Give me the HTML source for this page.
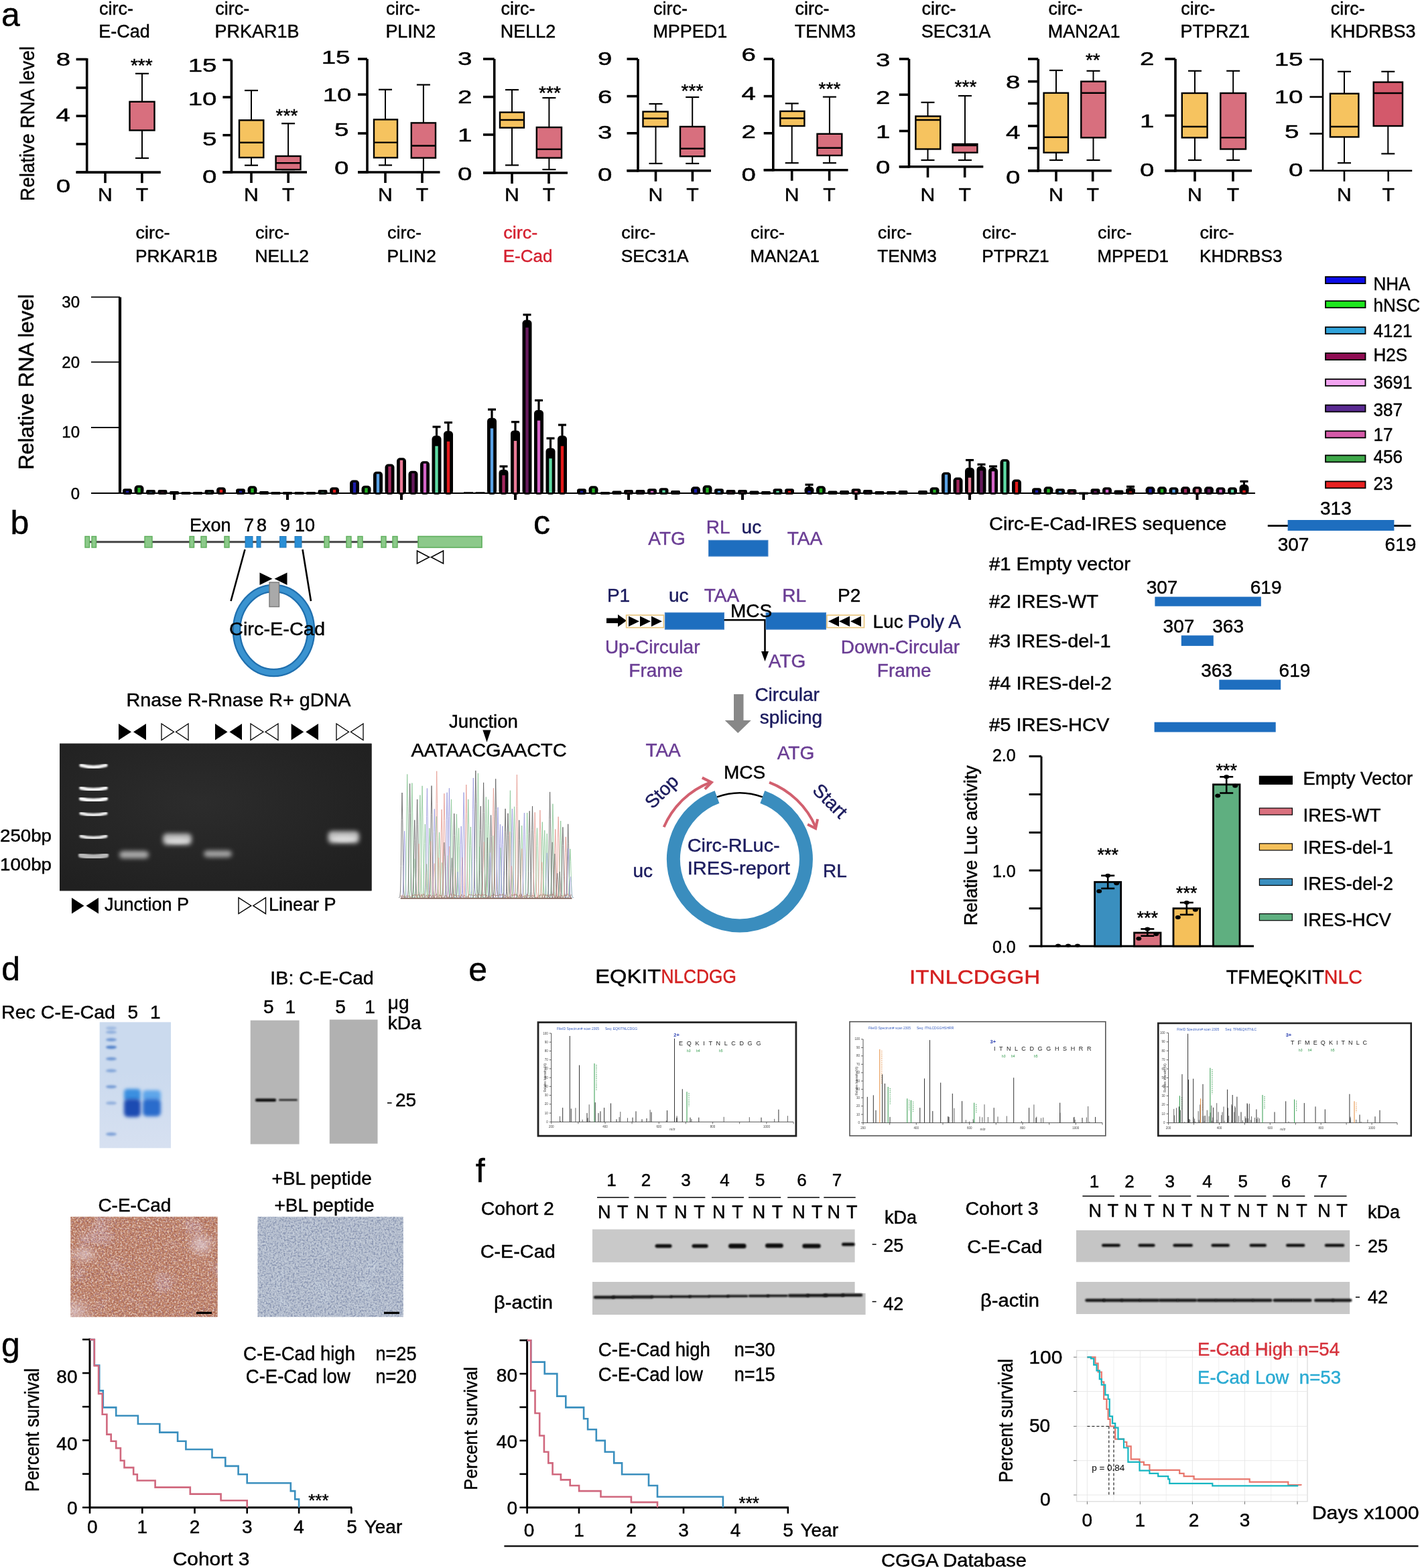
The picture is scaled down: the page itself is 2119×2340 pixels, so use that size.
<!DOCTYPE html>
<html><head><meta charset="utf-8"><title>Figure</title>
<style>html,body{margin:0;padding:0;background:#fff;}svg{display:block;}
text{font-family:"Liberation Sans", Arial, sans-serif;}</style></head>
<body><svg width="2119" height="2340" viewBox="0 0 2119 2340">
<defs><filter id="blur2" x="-20%" y="-50%" width="140%" height="200%"><feGaussianBlur stdDeviation="2.2"/></filter><filter id="blur3" x="-20%" y="-60%" width="140%" height="220%"><feGaussianBlur stdDeviation="3"/></filter><filter id="blur6" x="-30%" y="-60%" width="160%" height="220%"><feGaussianBlur stdDeviation="6"/></filter><filter id="blur1" x="-20%" y="-50%" width="140%" height="200%"><feGaussianBlur stdDeviation="1.2"/></filter><radialGradient id="gelgrad" cx="0.45" cy="0.4" r="0.7"><stop offset="0" stop-color="#2c2c2c"/><stop offset="1" stop-color="#202020"/></radialGradient><filter id="ihcA" color-interpolation-filters="sRGB" x="0" y="0" width="100%" height="100%">
<feTurbulence type="fractalNoise" baseFrequency="0.38" numOctaves="2" seed="3" result="n"/>
<feColorMatrix in="n" type="matrix" values="0 0 0 0 0.62  0 0 0 0 0.33  0 0 0 0 0.24  5.0 0 0 0 -2.2" result="c"/>
<feComposite in="c" in2="SourceGraphic" operator="in"/>
</filter><filter id="ihcB" color-interpolation-filters="sRGB" x="0" y="0" width="100%" height="100%">
<feTurbulence type="fractalNoise" baseFrequency="0.36" numOctaves="2" seed="9" result="n"/>
<feColorMatrix in="n" type="matrix" values="0 0 0 0 0.55  0 0 0 0 0.42  0 0 0 0 0.58  5.0 0 0 0 -2.5" result="c"/>
<feComposite in="c" in2="SourceGraphic" operator="in"/>
</filter><filter id="ihcC" color-interpolation-filters="sRGB" x="0" y="0" width="100%" height="100%">
<feTurbulence type="fractalNoise" baseFrequency="0.4" numOctaves="2" seed="21" result="n"/>
<feColorMatrix in="n" type="matrix" values="0 0 0 0 0.94  0 0 0 0 0.86  0 0 0 0 0.8  5.0 0 0 0 -2.5" result="c"/>
<feComposite in="c" in2="SourceGraphic" operator="in"/>
</filter><filter id="ihcP" color-interpolation-filters="sRGB" x="0" y="0" width="100%" height="100%">
<feTurbulence type="fractalNoise" baseFrequency="0.022" numOctaves="2" seed="5" result="n"/>
<feColorMatrix in="n" type="matrix" values="0 0 0 0 0.84  0 0 0 0 0.76  0 0 0 0 0.84  6.0 0 0 0 -3.4" result="c"/>
<feComposite in="c" in2="SourceGraphic" operator="in"/>
</filter><filter id="ihcD" color-interpolation-filters="sRGB" x="0" y="0" width="100%" height="100%">
<feTurbulence type="fractalNoise" baseFrequency="0.38" numOctaves="2" seed="4" result="n"/>
<feColorMatrix in="n" type="matrix" values="0 0 0 0 0.45  0 0 0 0 0.5  0 0 0 0 0.64  5.0 0 0 0 -2.3" result="c"/>
<feComposite in="c" in2="SourceGraphic" operator="in"/>
</filter><filter id="ihcE" color-interpolation-filters="sRGB" x="0" y="0" width="100%" height="100%">
<feTurbulence type="fractalNoise" baseFrequency="0.4" numOctaves="2" seed="17" result="n"/>
<feColorMatrix in="n" type="matrix" values="0 0 0 0 0.85  0 0 0 0 0.88  0 0 0 0 0.92  5.0 0 0 0 -2.5" result="c"/>
<feComposite in="c" in2="SourceGraphic" operator="in"/>
</filter><filter id="ihcF" color-interpolation-filters="sRGB" x="0" y="0" width="100%" height="100%">
<feTurbulence type="fractalNoise" baseFrequency="0.03" numOctaves="2" seed="6" result="n"/>
<feColorMatrix in="n" type="matrix" values="0 0 0 0 0.8  0 0 0 0 0.85  0 0 0 0 0.9  5.0 0 0 0 -3.2" result="c"/>
<feComposite in="c" in2="SourceGraphic" operator="in"/>
</filter><filter id="bl4" x="-30%" y="-80%" width="160%" height="260%"><feGaussianBlur stdDeviation="4"/></filter><filter id="bl25" x="-30%" y="-50%" width="160%" height="200%"><feGaussianBlur stdDeviation="2.5"/></filter><filter id="bl15" x="-30%" y="-80%" width="160%" height="260%"><feGaussianBlur stdDeviation="1.5"/></filter><linearGradient id="cgr" x1="0" y1="0" x2="0" y2="1"><stop offset="0" stop-color="#d8e1f1" stop-opacity="0"/><stop offset="1" stop-color="#d8e1f1" stop-opacity="0.9"/></linearGradient><radialGradient id="ihcL1" cx="0.5" cy="0.5" r="0.5"><stop offset="0" stop-color="#e8dde8" stop-opacity="0.55"/><stop offset="1" stop-color="#e8dde8" stop-opacity="0"/></radialGradient><clipPath id="ihcclip"><rect x="105.4" y="1815.8" width="219.3" height="149.5"/></clipPath></defs>
<rect width="2119" height="2340" fill="#fff"/>
<text x="2.0" y="39.0" font-size="50" stroke="#000" stroke-width="0.45">a</text>
<text x="51.0" y="184.5" font-size="30" stroke="#000" stroke-width="0.45" text-anchor="middle" textLength="231.0" lengthAdjust="spacingAndGlyphs" transform="rotate(-90 51.0 184.5)">Relative RNA level</text>
<text x="148.0" y="22.0" font-size="27.5" stroke="#000" stroke-width="0.45" textLength="50.9" lengthAdjust="spacingAndGlyphs">circ-</text>
<text x="147.3" y="55.5" font-size="27.5" stroke="#000" stroke-width="0.45" textLength="76.4" lengthAdjust="spacingAndGlyphs">E-Cad</text>
<line x1="129.7" y1="87.0" x2="129.7" y2="258.9" stroke="#000" stroke-width="3.6" />
<line x1="113.6" y1="257.1" x2="239.8" y2="257.1" stroke="#000" stroke-width="3.6" />
<line x1="113.6" y1="88.5" x2="129.7" y2="88.5" stroke="#000" stroke-width="3.6" />
<line x1="113.6" y1="131.0" x2="129.7" y2="131.0" stroke="#000" stroke-width="3.6" />
<line x1="113.6" y1="173.1" x2="129.7" y2="173.1" stroke="#000" stroke-width="3.6" />
<line x1="113.6" y1="215.0" x2="129.7" y2="215.0" stroke="#000" stroke-width="3.6" />
<line x1="113.6" y1="257.1" x2="129.7" y2="257.1" stroke="#000" stroke-width="3.6" />
<text x="105.1" y="98.4" font-size="27.5" stroke="#000" stroke-width="0.45" text-anchor="end" textLength="21.4" lengthAdjust="spacingAndGlyphs">8</text>
<text x="104.9" y="181.0" font-size="27.5" stroke="#000" stroke-width="0.45" text-anchor="end" textLength="21.4" lengthAdjust="spacingAndGlyphs">4</text>
<text x="105.1" y="286.5" font-size="27.5" stroke="#000" stroke-width="0.45" text-anchor="end" textLength="21.4" lengthAdjust="spacingAndGlyphs">0</text>
<line x1="157.0" y1="257.1" x2="157.0" y2="273.1" stroke="#000" stroke-width="3.6" />
<line x1="211.9" y1="257.1" x2="211.9" y2="273.1" stroke="#000" stroke-width="3.6" />
<text x="157.0" y="300.0" font-size="28" stroke="#000" stroke-width="0.45" text-anchor="middle" textLength="21.8" lengthAdjust="spacingAndGlyphs">N</text>
<text x="211.9" y="300.0" font-size="28" stroke="#000" stroke-width="0.45" text-anchor="middle" textLength="18.5" lengthAdjust="spacingAndGlyphs">T</text>
<line x1="212.0" y1="109.8" x2="212.0" y2="151.8" stroke="#000" stroke-width="2" />
<line x1="212.0" y1="194.5" x2="212.0" y2="236.0" stroke="#000" stroke-width="2" />
<line x1="202.0" y1="109.8" x2="222.0" y2="109.8" stroke="#000" stroke-width="2.2" />
<line x1="202.0" y1="236.0" x2="222.0" y2="236.0" stroke="#000" stroke-width="2.2" />
<rect x="193.5" y="151.8" width="37.0" height="42.7" fill="#D86F7E" stroke="#000" stroke-width="2.4"/>
<text x="211.3" y="106.5" font-size="27.5" stroke="#000" stroke-width="0.45" text-anchor="middle" textLength="32.8" lengthAdjust="spacingAndGlyphs">***</text>
<text x="321.3" y="22.0" font-size="27.5" stroke="#000" stroke-width="0.45" textLength="50.9" lengthAdjust="spacingAndGlyphs">circ-</text>
<text x="320.6" y="55.5" font-size="27.5" stroke="#000" stroke-width="0.45" textLength="125.8" lengthAdjust="spacingAndGlyphs">PRKAR1B</text>
<line x1="345.4" y1="89.4" x2="345.4" y2="258.8" stroke="#000" stroke-width="3.6" />
<line x1="332.4" y1="257.0" x2="458.0" y2="257.0" stroke="#000" stroke-width="3.6" />
<line x1="332.4" y1="89.4" x2="345.4" y2="89.4" stroke="#000" stroke-width="3.6" />
<line x1="332.4" y1="145.0" x2="345.4" y2="145.0" stroke="#000" stroke-width="3.6" />
<line x1="332.4" y1="201.7" x2="345.4" y2="201.7" stroke="#000" stroke-width="3.6" />
<line x1="332.4" y1="257.0" x2="345.4" y2="257.0" stroke="#000" stroke-width="3.6" />
<text x="323.5" y="106.9" font-size="27.5" stroke="#000" stroke-width="0.45" text-anchor="end" textLength="42.8" lengthAdjust="spacingAndGlyphs">15</text>
<text x="323.5" y="156.5" font-size="27.5" stroke="#000" stroke-width="0.45" text-anchor="end" textLength="42.8" lengthAdjust="spacingAndGlyphs">10</text>
<text x="323.5" y="216.6" font-size="27.5" stroke="#000" stroke-width="0.45" text-anchor="end" textLength="21.4" lengthAdjust="spacingAndGlyphs">5</text>
<text x="323.5" y="272.6" font-size="27.5" stroke="#000" stroke-width="0.45" text-anchor="end" textLength="21.4" lengthAdjust="spacingAndGlyphs">0</text>
<line x1="375.0" y1="257.0" x2="375.0" y2="273.0" stroke="#000" stroke-width="3.6" />
<line x1="430.2" y1="257.0" x2="430.2" y2="273.0" stroke="#000" stroke-width="3.6" />
<text x="375.0" y="300.0" font-size="28" stroke="#000" stroke-width="0.45" text-anchor="middle" textLength="21.8" lengthAdjust="spacingAndGlyphs">N</text>
<text x="430.2" y="300.0" font-size="28" stroke="#000" stroke-width="0.45" text-anchor="middle" textLength="18.5" lengthAdjust="spacingAndGlyphs">T</text>
<line x1="375.0" y1="135.0" x2="375.0" y2="179.4" stroke="#000" stroke-width="2" />
<line x1="375.0" y1="235.1" x2="375.0" y2="246.7" stroke="#000" stroke-width="2" />
<line x1="365.0" y1="135.0" x2="385.0" y2="135.0" stroke="#000" stroke-width="2.2" />
<line x1="365.0" y1="246.7" x2="385.0" y2="246.7" stroke="#000" stroke-width="2.2" />
<rect x="357.0" y="179.4" width="36.3" height="55.7" fill="#F6C35F" stroke="#000" stroke-width="2.4"/>
<line x1="357.0" y1="212.8" x2="393.3" y2="212.8" stroke="#000" stroke-width="2.4" />
<line x1="430.1" y1="184.3" x2="430.1" y2="233.0" stroke="#000" stroke-width="2" />
<line x1="430.1" y1="253.1" x2="430.1" y2="253.1" stroke="#000" stroke-width="2" />
<line x1="420.1" y1="184.3" x2="440.1" y2="184.3" stroke="#000" stroke-width="2.2" />
<line x1="420.1" y1="253.1" x2="440.1" y2="253.1" stroke="#000" stroke-width="2.2" />
<rect x="411.6" y="233.0" width="36.9" height="20.1" fill="#D86F7E" stroke="#000" stroke-width="2.4"/>
<line x1="411.6" y1="243.2" x2="448.5" y2="243.2" stroke="#000" stroke-width="2.4" />
<text x="428.0" y="181.9" font-size="27.5" stroke="#000" stroke-width="0.45" text-anchor="middle" textLength="32.8" lengthAdjust="spacingAndGlyphs">***</text>
<text x="576.1" y="22.0" font-size="27.5" stroke="#000" stroke-width="0.45" textLength="50.9" lengthAdjust="spacingAndGlyphs">circ-</text>
<text x="575.4" y="55.5" font-size="27.5" stroke="#000" stroke-width="0.45" textLength="74.9" lengthAdjust="spacingAndGlyphs">PLIN2</text>
<line x1="548.0" y1="88.0" x2="548.0" y2="258.8" stroke="#000" stroke-width="3.6" />
<line x1="534.0" y1="257.0" x2="656.5" y2="257.0" stroke="#000" stroke-width="3.6" />
<line x1="534.0" y1="88.0" x2="548.0" y2="88.0" stroke="#000" stroke-width="3.6" />
<line x1="534.0" y1="141.0" x2="548.0" y2="141.0" stroke="#000" stroke-width="3.6" />
<line x1="534.0" y1="199.0" x2="548.0" y2="199.0" stroke="#000" stroke-width="3.6" />
<line x1="534.0" y1="257.0" x2="548.0" y2="257.0" stroke="#000" stroke-width="3.6" />
<text x="522.5" y="94.5" font-size="27.5" stroke="#000" stroke-width="0.45" text-anchor="end" textLength="42.8" lengthAdjust="spacingAndGlyphs">15</text>
<text x="524.5" y="150.9" font-size="27.5" stroke="#000" stroke-width="0.45" text-anchor="end" textLength="42.8" lengthAdjust="spacingAndGlyphs">10</text>
<text x="520.5" y="203.3" font-size="27.5" stroke="#000" stroke-width="0.45" text-anchor="end" textLength="21.4" lengthAdjust="spacingAndGlyphs">5</text>
<text x="520.5" y="259.9" font-size="27.5" stroke="#000" stroke-width="0.45" text-anchor="end" textLength="21.4" lengthAdjust="spacingAndGlyphs">0</text>
<line x1="575.0" y1="257.0" x2="575.0" y2="273.0" stroke="#000" stroke-width="3.6" />
<line x1="630.0" y1="257.0" x2="630.0" y2="273.0" stroke="#000" stroke-width="3.6" />
<text x="575.0" y="300.0" font-size="28" stroke="#000" stroke-width="0.45" text-anchor="middle" textLength="21.8" lengthAdjust="spacingAndGlyphs">N</text>
<text x="630.0" y="300.0" font-size="28" stroke="#000" stroke-width="0.45" text-anchor="middle" textLength="18.5" lengthAdjust="spacingAndGlyphs">T</text>
<line x1="575.0" y1="133.7" x2="575.0" y2="178.4" stroke="#000" stroke-width="2" />
<line x1="575.0" y1="235.3" x2="575.0" y2="246.5" stroke="#000" stroke-width="2" />
<line x1="565.0" y1="133.7" x2="585.0" y2="133.7" stroke="#000" stroke-width="2.2" />
<line x1="565.0" y1="246.5" x2="585.0" y2="246.5" stroke="#000" stroke-width="2.2" />
<rect x="558.0" y="178.4" width="35.0" height="56.9" fill="#F6C35F" stroke="#000" stroke-width="2.4"/>
<line x1="558.0" y1="212.6" x2="593.0" y2="212.6" stroke="#000" stroke-width="2.4" />
<line x1="631.9" y1="126.5" x2="631.9" y2="183.4" stroke="#000" stroke-width="2" />
<line x1="631.9" y1="235.6" x2="631.9" y2="257.0" stroke="#000" stroke-width="2" />
<line x1="621.9" y1="126.5" x2="641.9" y2="126.5" stroke="#000" stroke-width="2.2" />
<line x1="621.9" y1="257.0" x2="641.9" y2="257.0" stroke="#000" stroke-width="2.2" />
<rect x="613.8" y="183.4" width="36.2" height="52.2" fill="#D86F7E" stroke="#000" stroke-width="2.4"/>
<line x1="613.8" y1="217.5" x2="650.0" y2="217.5" stroke="#000" stroke-width="2.4" />
<text x="747.5" y="22.0" font-size="27.5" stroke="#000" stroke-width="0.45" textLength="50.9" lengthAdjust="spacingAndGlyphs">circ-</text>
<text x="746.8" y="55.5" font-size="27.5" stroke="#000" stroke-width="0.45" textLength="82.4" lengthAdjust="spacingAndGlyphs">NELL2</text>
<line x1="737.7" y1="88.0" x2="737.7" y2="259.8" stroke="#000" stroke-width="3.6" />
<line x1="721.0" y1="258.0" x2="847.0" y2="258.0" stroke="#000" stroke-width="3.6" />
<line x1="721.0" y1="88.0" x2="737.7" y2="88.0" stroke="#000" stroke-width="3.6" />
<line x1="721.0" y1="144.6" x2="737.7" y2="144.6" stroke="#000" stroke-width="3.6" />
<line x1="721.0" y1="201.0" x2="737.7" y2="201.0" stroke="#000" stroke-width="3.6" />
<line x1="721.0" y1="258.0" x2="737.7" y2="258.0" stroke="#000" stroke-width="3.6" />
<text x="704.5" y="97.3" font-size="27.5" stroke="#000" stroke-width="0.45" text-anchor="end" textLength="21.4" lengthAdjust="spacingAndGlyphs">3</text>
<text x="704.5" y="153.6" font-size="27.5" stroke="#000" stroke-width="0.45" text-anchor="end" textLength="21.4" lengthAdjust="spacingAndGlyphs">2</text>
<text x="704.5" y="210.9" font-size="27.5" stroke="#000" stroke-width="0.45" text-anchor="end" textLength="21.4" lengthAdjust="spacingAndGlyphs">1</text>
<text x="704.5" y="268.7" font-size="27.5" stroke="#000" stroke-width="0.45" text-anchor="end" textLength="21.4" lengthAdjust="spacingAndGlyphs">0</text>
<line x1="764.0" y1="258.0" x2="764.0" y2="274.0" stroke="#000" stroke-width="3.6" />
<line x1="819.0" y1="258.0" x2="819.0" y2="274.0" stroke="#000" stroke-width="3.6" />
<text x="764.0" y="300.0" font-size="28" stroke="#000" stroke-width="0.45" text-anchor="middle" textLength="21.8" lengthAdjust="spacingAndGlyphs">N</text>
<text x="819.0" y="300.0" font-size="28" stroke="#000" stroke-width="0.45" text-anchor="middle" textLength="18.5" lengthAdjust="spacingAndGlyphs">T</text>
<line x1="764.0" y1="134.0" x2="764.0" y2="167.6" stroke="#000" stroke-width="2" />
<line x1="764.0" y1="190.6" x2="764.0" y2="246.5" stroke="#000" stroke-width="2" />
<line x1="754.0" y1="134.0" x2="774.0" y2="134.0" stroke="#000" stroke-width="2.2" />
<line x1="754.0" y1="246.5" x2="774.0" y2="246.5" stroke="#000" stroke-width="2.2" />
<rect x="746.0" y="167.6" width="36.0" height="23.0" fill="#F6C35F" stroke="#000" stroke-width="2.4"/>
<line x1="746.0" y1="179.0" x2="782.0" y2="179.0" stroke="#000" stroke-width="2.4" />
<line x1="819.4" y1="146.0" x2="819.4" y2="190.0" stroke="#000" stroke-width="2" />
<line x1="819.4" y1="235.6" x2="819.4" y2="253.0" stroke="#000" stroke-width="2" />
<line x1="809.4" y1="146.0" x2="829.4" y2="146.0" stroke="#000" stroke-width="2.2" />
<line x1="809.4" y1="253.0" x2="829.4" y2="253.0" stroke="#000" stroke-width="2.2" />
<rect x="800.8" y="190.0" width="37.2" height="45.6" fill="#D86F7E" stroke="#000" stroke-width="2.4"/>
<line x1="800.8" y1="222.8" x2="838.0" y2="222.8" stroke="#000" stroke-width="2.4" />
<text x="820.5" y="147.5" font-size="27.5" stroke="#000" stroke-width="0.45" text-anchor="middle" textLength="32.8" lengthAdjust="spacingAndGlyphs">***</text>
<text x="975.1" y="22.0" font-size="27.5" stroke="#000" stroke-width="0.45" textLength="50.9" lengthAdjust="spacingAndGlyphs">circ-</text>
<text x="974.4" y="55.5" font-size="27.5" stroke="#000" stroke-width="0.45" textLength="110.8" lengthAdjust="spacingAndGlyphs">MPPED1</text>
<line x1="952.0" y1="88.0" x2="952.0" y2="256.5" stroke="#000" stroke-width="3.6" />
<line x1="935.5" y1="254.7" x2="1061.0" y2="254.7" stroke="#000" stroke-width="3.6" />
<line x1="935.5" y1="88.0" x2="952.0" y2="88.0" stroke="#000" stroke-width="3.6" />
<line x1="935.5" y1="143.6" x2="952.0" y2="143.6" stroke="#000" stroke-width="3.6" />
<line x1="935.5" y1="198.8" x2="952.0" y2="198.8" stroke="#000" stroke-width="3.6" />
<line x1="935.5" y1="254.7" x2="952.0" y2="254.7" stroke="#000" stroke-width="3.6" />
<text x="913.5" y="97.3" font-size="27.5" stroke="#000" stroke-width="0.45" text-anchor="end" textLength="21.4" lengthAdjust="spacingAndGlyphs">9</text>
<text x="913.5" y="153.6" font-size="27.5" stroke="#000" stroke-width="0.45" text-anchor="end" textLength="21.4" lengthAdjust="spacingAndGlyphs">6</text>
<text x="913.5" y="206.9" font-size="27.5" stroke="#000" stroke-width="0.45" text-anchor="end" textLength="21.4" lengthAdjust="spacingAndGlyphs">3</text>
<text x="913.5" y="269.5" font-size="27.5" stroke="#000" stroke-width="0.45" text-anchor="end" textLength="21.4" lengthAdjust="spacingAndGlyphs">0</text>
<line x1="978.5" y1="254.7" x2="978.5" y2="270.7" stroke="#000" stroke-width="3.6" />
<line x1="1033.4" y1="254.7" x2="1033.4" y2="270.7" stroke="#000" stroke-width="3.6" />
<text x="978.5" y="300.0" font-size="28" stroke="#000" stroke-width="0.45" text-anchor="middle" textLength="21.8" lengthAdjust="spacingAndGlyphs">N</text>
<text x="1033.4" y="300.0" font-size="28" stroke="#000" stroke-width="0.45" text-anchor="middle" textLength="18.5" lengthAdjust="spacingAndGlyphs">T</text>
<line x1="978.5" y1="155.0" x2="978.5" y2="166.6" stroke="#000" stroke-width="2" />
<line x1="978.5" y1="189.0" x2="978.5" y2="244.0" stroke="#000" stroke-width="2" />
<line x1="968.5" y1="155.0" x2="988.5" y2="155.0" stroke="#000" stroke-width="2.2" />
<line x1="968.5" y1="244.0" x2="988.5" y2="244.0" stroke="#000" stroke-width="2.2" />
<rect x="959.5" y="166.6" width="37.1" height="22.4" fill="#F6C35F" stroke="#000" stroke-width="2.4"/>
<line x1="959.5" y1="176.8" x2="996.6" y2="176.8" stroke="#000" stroke-width="2.4" />
<line x1="1033.2" y1="145.0" x2="1033.2" y2="189.0" stroke="#000" stroke-width="2" />
<line x1="1033.2" y1="233.3" x2="1033.2" y2="244.0" stroke="#000" stroke-width="2" />
<line x1="1023.2" y1="145.0" x2="1043.2" y2="145.0" stroke="#000" stroke-width="2.2" />
<line x1="1023.2" y1="244.0" x2="1043.2" y2="244.0" stroke="#000" stroke-width="2.2" />
<rect x="1015.0" y="189.0" width="36.5" height="44.3" fill="#D86F7E" stroke="#000" stroke-width="2.4"/>
<line x1="1015.0" y1="221.8" x2="1051.5" y2="221.8" stroke="#000" stroke-width="2.4" />
<text x="1033.0" y="144.5" font-size="27.5" stroke="#000" stroke-width="0.45" text-anchor="middle" textLength="32.8" lengthAdjust="spacingAndGlyphs">***</text>
<text x="1186.5" y="22.0" font-size="27.5" stroke="#000" stroke-width="0.45" textLength="50.9" lengthAdjust="spacingAndGlyphs">circ-</text>
<text x="1185.8" y="55.5" font-size="27.5" stroke="#000" stroke-width="0.45" textLength="91.3" lengthAdjust="spacingAndGlyphs">TENM3</text>
<line x1="1153.8" y1="88.0" x2="1153.8" y2="255.5" stroke="#000" stroke-width="3.6" />
<line x1="1139.7" y1="253.7" x2="1265.5" y2="253.7" stroke="#000" stroke-width="3.6" />
<line x1="1139.7" y1="88.0" x2="1153.8" y2="88.0" stroke="#000" stroke-width="3.6" />
<line x1="1139.7" y1="143.6" x2="1153.8" y2="143.6" stroke="#000" stroke-width="3.6" />
<line x1="1139.7" y1="198.8" x2="1153.8" y2="198.8" stroke="#000" stroke-width="3.6" />
<line x1="1139.7" y1="253.7" x2="1153.8" y2="253.7" stroke="#000" stroke-width="3.6" />
<text x="1128.0" y="90.9" font-size="27.5" stroke="#000" stroke-width="0.45" text-anchor="end" textLength="21.4" lengthAdjust="spacingAndGlyphs">6</text>
<text x="1128.0" y="148.7" font-size="27.5" stroke="#000" stroke-width="0.45" text-anchor="end" textLength="21.4" lengthAdjust="spacingAndGlyphs">4</text>
<text x="1128.0" y="206.3" font-size="27.5" stroke="#000" stroke-width="0.45" text-anchor="end" textLength="21.4" lengthAdjust="spacingAndGlyphs">2</text>
<text x="1128.0" y="270.3" font-size="27.5" stroke="#000" stroke-width="0.45" text-anchor="end" textLength="21.4" lengthAdjust="spacingAndGlyphs">0</text>
<line x1="1181.7" y1="253.7" x2="1181.7" y2="269.7" stroke="#000" stroke-width="3.6" />
<line x1="1237.6" y1="253.7" x2="1237.6" y2="269.7" stroke="#000" stroke-width="3.6" />
<text x="1181.7" y="300.0" font-size="28" stroke="#000" stroke-width="0.45" text-anchor="middle" textLength="21.8" lengthAdjust="spacingAndGlyphs">N</text>
<text x="1237.6" y="300.0" font-size="28" stroke="#000" stroke-width="0.45" text-anchor="middle" textLength="18.5" lengthAdjust="spacingAndGlyphs">T</text>
<line x1="1181.7" y1="154.4" x2="1181.7" y2="166.0" stroke="#000" stroke-width="2" />
<line x1="1181.7" y1="188.0" x2="1181.7" y2="243.2" stroke="#000" stroke-width="2" />
<line x1="1171.7" y1="154.4" x2="1191.7" y2="154.4" stroke="#000" stroke-width="2.2" />
<line x1="1171.7" y1="243.2" x2="1191.7" y2="243.2" stroke="#000" stroke-width="2.2" />
<rect x="1164.3" y="166.0" width="36.1" height="22.0" fill="#F6C35F" stroke="#000" stroke-width="2.4"/>
<line x1="1164.3" y1="176.5" x2="1200.4" y2="176.5" stroke="#000" stroke-width="2.4" />
<line x1="1237.9" y1="144.6" x2="1237.9" y2="199.8" stroke="#000" stroke-width="2" />
<line x1="1237.9" y1="232.0" x2="1237.9" y2="243.2" stroke="#000" stroke-width="2" />
<line x1="1227.9" y1="144.6" x2="1247.9" y2="144.6" stroke="#000" stroke-width="2.2" />
<line x1="1227.9" y1="243.2" x2="1247.9" y2="243.2" stroke="#000" stroke-width="2.2" />
<rect x="1219.5" y="199.8" width="36.8" height="32.2" fill="#D86F7E" stroke="#000" stroke-width="2.4"/>
<line x1="1219.5" y1="220.8" x2="1256.3" y2="220.8" stroke="#000" stroke-width="2.4" />
<text x="1238.0" y="141.5" font-size="27.5" stroke="#000" stroke-width="0.45" text-anchor="middle" textLength="32.8" lengthAdjust="spacingAndGlyphs">***</text>
<text x="1375.5" y="22.0" font-size="27.5" stroke="#000" stroke-width="0.45" textLength="50.9" lengthAdjust="spacingAndGlyphs">circ-</text>
<text x="1374.8" y="55.5" font-size="27.5" stroke="#000" stroke-width="0.45" textLength="103.4" lengthAdjust="spacingAndGlyphs">SEC31A</text>
<line x1="1356.5" y1="88.0" x2="1356.5" y2="250.6" stroke="#000" stroke-width="3.6" />
<line x1="1341.8" y1="248.8" x2="1467.3" y2="248.8" stroke="#000" stroke-width="3.6" />
<line x1="1341.8" y1="88.0" x2="1356.5" y2="88.0" stroke="#000" stroke-width="3.6" />
<line x1="1341.8" y1="141.3" x2="1356.5" y2="141.3" stroke="#000" stroke-width="3.6" />
<line x1="1341.8" y1="195.5" x2="1356.5" y2="195.5" stroke="#000" stroke-width="3.6" />
<line x1="1341.8" y1="248.8" x2="1356.5" y2="248.8" stroke="#000" stroke-width="3.6" />
<text x="1328.5" y="99.1" font-size="27.5" stroke="#000" stroke-width="0.45" text-anchor="end" textLength="21.4" lengthAdjust="spacingAndGlyphs">3</text>
<text x="1328.5" y="155.3" font-size="27.5" stroke="#000" stroke-width="0.45" text-anchor="end" textLength="21.4" lengthAdjust="spacingAndGlyphs">2</text>
<text x="1328.5" y="206.3" font-size="27.5" stroke="#000" stroke-width="0.45" text-anchor="end" textLength="21.4" lengthAdjust="spacingAndGlyphs">1</text>
<text x="1328.5" y="258.9" font-size="27.5" stroke="#000" stroke-width="0.45" text-anchor="end" textLength="21.4" lengthAdjust="spacingAndGlyphs">0</text>
<line x1="1384.5" y1="248.8" x2="1384.5" y2="264.8" stroke="#000" stroke-width="3.6" />
<line x1="1439.7" y1="248.8" x2="1439.7" y2="264.8" stroke="#000" stroke-width="3.6" />
<text x="1384.5" y="300.0" font-size="28" stroke="#000" stroke-width="0.45" text-anchor="middle" textLength="21.8" lengthAdjust="spacingAndGlyphs">N</text>
<text x="1439.7" y="300.0" font-size="28" stroke="#000" stroke-width="0.45" text-anchor="middle" textLength="18.5" lengthAdjust="spacingAndGlyphs">T</text>
<line x1="1384.5" y1="152.8" x2="1384.5" y2="173.5" stroke="#000" stroke-width="2" />
<line x1="1384.5" y1="222.5" x2="1384.5" y2="239.0" stroke="#000" stroke-width="2" />
<line x1="1374.5" y1="152.8" x2="1394.5" y2="152.8" stroke="#000" stroke-width="2.2" />
<line x1="1374.5" y1="239.0" x2="1394.5" y2="239.0" stroke="#000" stroke-width="2.2" />
<rect x="1366.4" y="173.5" width="36.8" height="49.0" fill="#F6C35F" stroke="#000" stroke-width="2.4"/>
<line x1="1366.4" y1="179.0" x2="1403.2" y2="179.0" stroke="#000" stroke-width="2.4" />
<line x1="1440.0" y1="143.0" x2="1440.0" y2="215.0" stroke="#000" stroke-width="2" />
<line x1="1440.0" y1="227.7" x2="1440.0" y2="239.0" stroke="#000" stroke-width="2" />
<line x1="1430.0" y1="143.0" x2="1450.0" y2="143.0" stroke="#000" stroke-width="2.2" />
<line x1="1430.0" y1="239.0" x2="1450.0" y2="239.0" stroke="#000" stroke-width="2.2" />
<rect x="1421.6" y="215.0" width="36.8" height="12.7" fill="#D86F7E" stroke="#000" stroke-width="2.4"/>
<line x1="1421.6" y1="217.0" x2="1458.4" y2="217.0" stroke="#000" stroke-width="2.4" />
<text x="1441.0" y="138.5" font-size="27.5" stroke="#000" stroke-width="0.45" text-anchor="middle" textLength="32.8" lengthAdjust="spacingAndGlyphs">***</text>
<text x="1564.5" y="22.0" font-size="27.5" stroke="#000" stroke-width="0.45" textLength="50.9" lengthAdjust="spacingAndGlyphs">circ-</text>
<text x="1563.8" y="55.5" font-size="27.5" stroke="#000" stroke-width="0.45" textLength="107.8" lengthAdjust="spacingAndGlyphs">MAN2A1</text>
<line x1="1549.3" y1="88.0" x2="1549.3" y2="256.5" stroke="#000" stroke-width="3.6" />
<line x1="1534.0" y1="254.7" x2="1658.7" y2="254.7" stroke="#000" stroke-width="3.6" />
<line x1="1534.0" y1="88.0" x2="1549.3" y2="88.0" stroke="#000" stroke-width="3.6" />
<line x1="1534.0" y1="121.6" x2="1549.3" y2="121.6" stroke="#000" stroke-width="3.6" />
<line x1="1534.0" y1="154.4" x2="1549.3" y2="154.4" stroke="#000" stroke-width="3.6" />
<line x1="1534.0" y1="188.0" x2="1549.3" y2="188.0" stroke="#000" stroke-width="3.6" />
<line x1="1534.0" y1="221.0" x2="1549.3" y2="221.0" stroke="#000" stroke-width="3.6" />
<line x1="1534.0" y1="254.7" x2="1549.3" y2="254.7" stroke="#000" stroke-width="3.6" />
<text x="1522.5" y="131.5" font-size="27.5" stroke="#000" stroke-width="0.45" text-anchor="end" textLength="21.4" lengthAdjust="spacingAndGlyphs">8</text>
<text x="1522.5" y="206.9" font-size="27.5" stroke="#000" stroke-width="0.45" text-anchor="end" textLength="21.4" lengthAdjust="spacingAndGlyphs">4</text>
<text x="1522.5" y="273.6" font-size="27.5" stroke="#000" stroke-width="0.45" text-anchor="end" textLength="21.4" lengthAdjust="spacingAndGlyphs">0</text>
<line x1="1576.0" y1="254.7" x2="1576.0" y2="270.7" stroke="#000" stroke-width="3.6" />
<line x1="1630.7" y1="254.7" x2="1630.7" y2="270.7" stroke="#000" stroke-width="3.6" />
<text x="1576.0" y="300.0" font-size="28" stroke="#000" stroke-width="0.45" text-anchor="middle" textLength="21.8" lengthAdjust="spacingAndGlyphs">N</text>
<text x="1630.7" y="300.0" font-size="28" stroke="#000" stroke-width="0.45" text-anchor="middle" textLength="18.5" lengthAdjust="spacingAndGlyphs">T</text>
<line x1="1576.0" y1="105.0" x2="1576.0" y2="138.7" stroke="#000" stroke-width="2" />
<line x1="1576.0" y1="227.7" x2="1576.0" y2="239.0" stroke="#000" stroke-width="2" />
<line x1="1566.0" y1="105.0" x2="1586.0" y2="105.0" stroke="#000" stroke-width="2.2" />
<line x1="1566.0" y1="239.0" x2="1586.0" y2="239.0" stroke="#000" stroke-width="2.2" />
<rect x="1557.6" y="138.7" width="36.4" height="89.0" fill="#F6C35F" stroke="#000" stroke-width="2.4"/>
<line x1="1557.6" y1="204.7" x2="1594.0" y2="204.7" stroke="#000" stroke-width="2.4" />
<line x1="1631.5" y1="105.8" x2="1631.5" y2="121.6" stroke="#000" stroke-width="2" />
<line x1="1631.5" y1="205.4" x2="1631.5" y2="239.0" stroke="#000" stroke-width="2" />
<line x1="1621.5" y1="105.8" x2="1641.5" y2="105.8" stroke="#000" stroke-width="2.2" />
<line x1="1621.5" y1="239.0" x2="1641.5" y2="239.0" stroke="#000" stroke-width="2.2" />
<rect x="1613.3" y="121.6" width="36.5" height="83.8" fill="#D86F7E" stroke="#000" stroke-width="2.4"/>
<line x1="1613.3" y1="138.7" x2="1649.8" y2="138.7" stroke="#000" stroke-width="2.4" />
<text x="1630.8" y="98.5" font-size="27.5" stroke="#000" stroke-width="0.45" text-anchor="middle" textLength="21.8" lengthAdjust="spacingAndGlyphs">**</text>
<text x="1762.3" y="22.0" font-size="27.5" stroke="#000" stroke-width="0.45" textLength="50.9" lengthAdjust="spacingAndGlyphs">circ-</text>
<text x="1761.6" y="55.5" font-size="27.5" stroke="#000" stroke-width="0.45" textLength="103.3" lengthAdjust="spacingAndGlyphs">PTPRZ1</text>
<line x1="1754.0" y1="88.0" x2="1754.0" y2="256.5" stroke="#000" stroke-width="3.6" />
<line x1="1738.5" y1="254.7" x2="1868.0" y2="254.7" stroke="#000" stroke-width="3.6" />
<line x1="1738.5" y1="88.0" x2="1754.0" y2="88.0" stroke="#000" stroke-width="3.6" />
<line x1="1738.5" y1="172.5" x2="1754.0" y2="172.5" stroke="#000" stroke-width="3.6" />
<line x1="1738.5" y1="254.7" x2="1754.0" y2="254.7" stroke="#000" stroke-width="3.6" />
<text x="1722.5" y="97.3" font-size="27.5" stroke="#000" stroke-width="0.45" text-anchor="end" textLength="21.4" lengthAdjust="spacingAndGlyphs">2</text>
<text x="1722.5" y="189.9" font-size="27.5" stroke="#000" stroke-width="0.45" text-anchor="end" textLength="21.4" lengthAdjust="spacingAndGlyphs">1</text>
<text x="1722.5" y="263.4" font-size="27.5" stroke="#000" stroke-width="0.45" text-anchor="end" textLength="21.4" lengthAdjust="spacingAndGlyphs">0</text>
<line x1="1783.0" y1="254.7" x2="1783.0" y2="270.7" stroke="#000" stroke-width="3.6" />
<line x1="1840.0" y1="254.7" x2="1840.0" y2="270.7" stroke="#000" stroke-width="3.6" />
<text x="1783.0" y="300.0" font-size="28" stroke="#000" stroke-width="0.45" text-anchor="middle" textLength="21.8" lengthAdjust="spacingAndGlyphs">N</text>
<text x="1840.0" y="300.0" font-size="28" stroke="#000" stroke-width="0.45" text-anchor="middle" textLength="18.5" lengthAdjust="spacingAndGlyphs">T</text>
<line x1="1783.0" y1="105.8" x2="1783.0" y2="139.0" stroke="#000" stroke-width="2" />
<line x1="1783.0" y1="205.4" x2="1783.0" y2="239.0" stroke="#000" stroke-width="2" />
<line x1="1773.0" y1="105.8" x2="1793.0" y2="105.8" stroke="#000" stroke-width="2.2" />
<line x1="1773.0" y1="239.0" x2="1793.0" y2="239.0" stroke="#000" stroke-width="2.2" />
<rect x="1763.8" y="139.0" width="37.8" height="66.4" fill="#F6C35F" stroke="#000" stroke-width="2.4"/>
<line x1="1763.8" y1="189.0" x2="1801.6" y2="189.0" stroke="#000" stroke-width="2.4" />
<line x1="1840.2" y1="105.8" x2="1840.2" y2="139.0" stroke="#000" stroke-width="2" />
<line x1="1840.2" y1="222.5" x2="1840.2" y2="239.0" stroke="#000" stroke-width="2" />
<line x1="1830.2" y1="105.8" x2="1850.2" y2="105.8" stroke="#000" stroke-width="2.2" />
<line x1="1830.2" y1="239.0" x2="1850.2" y2="239.0" stroke="#000" stroke-width="2.2" />
<rect x="1821.3" y="139.0" width="37.7" height="83.5" fill="#D86F7E" stroke="#000" stroke-width="2.4"/>
<line x1="1821.3" y1="205.4" x2="1859.0" y2="205.4" stroke="#000" stroke-width="2.4" />
<text x="1985.8" y="22.0" font-size="27.5" stroke="#000" stroke-width="0.45" textLength="50.9" lengthAdjust="spacingAndGlyphs">circ-</text>
<text x="1985.1" y="55.5" font-size="27.5" stroke="#000" stroke-width="0.45" textLength="127.3" lengthAdjust="spacingAndGlyphs">KHDRBS3</text>
<line x1="1974.0" y1="88.7" x2="1974.0" y2="256.0" stroke="#000" stroke-width="2.6" />
<line x1="1954.4" y1="254.7" x2="2107.2" y2="254.7" stroke="#000" stroke-width="2.6" />
<line x1="1954.4" y1="88.7" x2="1974.0" y2="88.7" stroke="#000" stroke-width="2.6" />
<line x1="1954.4" y1="144.6" x2="1974.0" y2="144.6" stroke="#000" stroke-width="2.6" />
<line x1="1954.4" y1="199.5" x2="1974.0" y2="199.5" stroke="#000" stroke-width="2.6" />
<line x1="1954.4" y1="254.7" x2="1974.0" y2="254.7" stroke="#000" stroke-width="2.6" />
<text x="1944.5" y="97.9" font-size="27.5" stroke="#000" stroke-width="0.45" text-anchor="end" textLength="42.8" lengthAdjust="spacingAndGlyphs">15</text>
<text x="1944.5" y="153.9" font-size="27.5" stroke="#000" stroke-width="0.45" text-anchor="end" textLength="42.8" lengthAdjust="spacingAndGlyphs">10</text>
<text x="1938.5" y="206.1" font-size="27.5" stroke="#000" stroke-width="0.45" text-anchor="end" textLength="21.4" lengthAdjust="spacingAndGlyphs">5</text>
<text x="1944.5" y="262.9" font-size="27.5" stroke="#000" stroke-width="0.45" text-anchor="end" textLength="21.4" lengthAdjust="spacingAndGlyphs">0</text>
<line x1="2006.0" y1="254.7" x2="2006.0" y2="270.7" stroke="#000" stroke-width="2.6" />
<line x1="2071.7" y1="254.7" x2="2071.7" y2="270.7" stroke="#000" stroke-width="2.6" />
<text x="2006.0" y="300.0" font-size="28" stroke="#000" stroke-width="0.45" text-anchor="middle" textLength="21.8" lengthAdjust="spacingAndGlyphs">N</text>
<text x="2071.7" y="300.0" font-size="28" stroke="#000" stroke-width="0.45" text-anchor="middle" textLength="18.5" lengthAdjust="spacingAndGlyphs">T</text>
<line x1="2006.0" y1="106.8" x2="2006.0" y2="139.7" stroke="#000" stroke-width="2" />
<line x1="2006.0" y1="204.4" x2="2006.0" y2="243.2" stroke="#000" stroke-width="2" />
<line x1="1996.0" y1="106.8" x2="2016.0" y2="106.8" stroke="#000" stroke-width="2.2" />
<line x1="1996.0" y1="243.2" x2="2016.0" y2="243.2" stroke="#000" stroke-width="2.2" />
<rect x="1985.0" y="139.7" width="42.4" height="64.7" fill="#F6C35F" stroke="#000" stroke-width="2.4"/>
<line x1="1985.0" y1="189.0" x2="2027.4" y2="189.0" stroke="#000" stroke-width="2.4" />
<line x1="2071.3" y1="106.8" x2="2071.3" y2="122.6" stroke="#000" stroke-width="2" />
<line x1="2071.3" y1="188.0" x2="2071.3" y2="229.4" stroke="#000" stroke-width="2" />
<line x1="2061.3" y1="106.8" x2="2081.3" y2="106.8" stroke="#000" stroke-width="2.2" />
<line x1="2061.3" y1="229.4" x2="2081.3" y2="229.4" stroke="#000" stroke-width="2.2" />
<rect x="2049.7" y="122.6" width="43.3" height="65.4" fill="#D3596B" stroke="#000" stroke-width="2.4"/>
<line x1="2049.7" y1="139.0" x2="2093.0" y2="139.0" stroke="#000" stroke-width="2.4" />
<text x="49.5" y="570.0" font-size="31" stroke="#000" stroke-width="0.45" text-anchor="middle" textLength="262.0" lengthAdjust="spacingAndGlyphs" transform="rotate(-90 49.5 570.0)">Relative RNA level</text>
<text x="202.5" y="356.4" font-size="26.5" stroke="#000" stroke-width="0.45" textLength="51.0" lengthAdjust="spacingAndGlyphs">circ-</text>
<text x="202.0" y="391.0" font-size="26.5" stroke="#000" stroke-width="0.45" textLength="122.7" lengthAdjust="spacingAndGlyphs">PRKAR1B</text>
<text x="381.0" y="356.4" font-size="26.5" stroke="#000" stroke-width="0.45" textLength="51.0" lengthAdjust="spacingAndGlyphs">circ-</text>
<text x="380.5" y="391.0" font-size="26.5" stroke="#000" stroke-width="0.45" textLength="80.5" lengthAdjust="spacingAndGlyphs">NELL2</text>
<text x="578.1" y="356.4" font-size="26.5" stroke="#000" stroke-width="0.45" textLength="51.0" lengthAdjust="spacingAndGlyphs">circ-</text>
<text x="577.6" y="391.0" font-size="26.5" stroke="#000" stroke-width="0.45" textLength="73.2" lengthAdjust="spacingAndGlyphs">PLIN2</text>
<text x="751.2" y="356.4" font-size="26.5" fill="#D42030" stroke="#D42030" stroke-width="0.45" textLength="51.0" lengthAdjust="spacingAndGlyphs">circ-</text>
<text x="750.7" y="391.0" font-size="26.5" fill="#D42030" stroke="#D42030" stroke-width="0.45" textLength="73.7" lengthAdjust="spacingAndGlyphs">E-Cad</text>
<text x="927.2" y="356.4" font-size="26.5" stroke="#000" stroke-width="0.45" textLength="51.0" lengthAdjust="spacingAndGlyphs">circ-</text>
<text x="926.7" y="391.0" font-size="26.5" stroke="#000" stroke-width="0.45" textLength="100.9" lengthAdjust="spacingAndGlyphs">SEC31A</text>
<text x="1120.0" y="356.4" font-size="26.5" stroke="#000" stroke-width="0.45" textLength="51.0" lengthAdjust="spacingAndGlyphs">circ-</text>
<text x="1119.5" y="391.0" font-size="26.5" stroke="#000" stroke-width="0.45" textLength="103.5" lengthAdjust="spacingAndGlyphs">MAN2A1</text>
<text x="1309.7" y="356.4" font-size="26.5" stroke="#000" stroke-width="0.45" textLength="51.0" lengthAdjust="spacingAndGlyphs">circ-</text>
<text x="1309.2" y="391.0" font-size="26.5" stroke="#000" stroke-width="0.45" textLength="88.6" lengthAdjust="spacingAndGlyphs">TENM3</text>
<text x="1465.8" y="356.4" font-size="26.5" stroke="#000" stroke-width="0.45" textLength="51.0" lengthAdjust="spacingAndGlyphs">circ-</text>
<text x="1465.3" y="391.0" font-size="26.5" stroke="#000" stroke-width="0.45" textLength="100.2" lengthAdjust="spacingAndGlyphs">PTPRZ1</text>
<text x="1638.0" y="356.4" font-size="26.5" stroke="#000" stroke-width="0.45" textLength="51.0" lengthAdjust="spacingAndGlyphs">circ-</text>
<text x="1637.5" y="391.0" font-size="26.5" stroke="#000" stroke-width="0.45" textLength="106.5" lengthAdjust="spacingAndGlyphs">MPPED1</text>
<text x="1790.5" y="356.4" font-size="26.5" stroke="#000" stroke-width="0.45" textLength="51.0" lengthAdjust="spacingAndGlyphs">circ-</text>
<text x="1790.0" y="391.0" font-size="26.5" stroke="#000" stroke-width="0.45" textLength="123.5" lengthAdjust="spacingAndGlyphs">KHDRBS3</text>
<line x1="179.0" y1="443.4" x2="179.0" y2="737.0" stroke="#000" stroke-width="4.2" />
<line x1="136.0" y1="443.4" x2="179.0" y2="443.4" stroke="#000" stroke-width="1.8" />
<text x="119.0" y="458.8" font-size="24" stroke="#000" stroke-width="0.45" text-anchor="end" textLength="26.7" lengthAdjust="spacingAndGlyphs">30</text>
<line x1="136.0" y1="540.4" x2="179.0" y2="540.4" stroke="#000" stroke-width="1.8" />
<text x="119.0" y="548.8" font-size="24" stroke="#000" stroke-width="0.45" text-anchor="end" textLength="26.7" lengthAdjust="spacingAndGlyphs">20</text>
<line x1="136.0" y1="638.0" x2="179.0" y2="638.0" stroke="#000" stroke-width="1.8" />
<text x="119.0" y="652.7" font-size="24" stroke="#000" stroke-width="0.45" text-anchor="end" textLength="26.7" lengthAdjust="spacingAndGlyphs">10</text>
<line x1="136.0" y1="736.0" x2="179.0" y2="736.0" stroke="#000" stroke-width="1.8" />
<text x="119.0" y="744.7" font-size="24" stroke="#000" stroke-width="0.45" text-anchor="end" textLength="13.3" lengthAdjust="spacingAndGlyphs">0</text>
<line x1="136.0" y1="736.0" x2="1873.0" y2="736.0" stroke="#000" stroke-width="1.8" />
<line x1="260.0" y1="736.0" x2="260.0" y2="746.0" stroke="#000" stroke-width="4" />
<line x1="429.0" y1="736.0" x2="429.0" y2="746.0" stroke="#000" stroke-width="4" />
<line x1="599.0" y1="736.0" x2="599.0" y2="746.0" stroke="#000" stroke-width="4" />
<line x1="769.0" y1="736.0" x2="769.0" y2="746.0" stroke="#000" stroke-width="4" />
<line x1="938.0" y1="736.0" x2="938.0" y2="746.0" stroke="#000" stroke-width="4" />
<line x1="1108.0" y1="736.0" x2="1108.0" y2="746.0" stroke="#000" stroke-width="4" />
<line x1="1277.5" y1="736.0" x2="1277.5" y2="746.0" stroke="#000" stroke-width="4" />
<line x1="1447.0" y1="736.0" x2="1447.0" y2="746.0" stroke="#000" stroke-width="4" />
<line x1="1617.0" y1="736.0" x2="1617.0" y2="746.0" stroke="#000" stroke-width="4" />
<line x1="1786.5" y1="736.0" x2="1786.5" y2="746.0" stroke="#000" stroke-width="4" />
<rect x="183.0" y="729.2" width="14" height="8.8" rx="3.4" fill="#000"/>
<rect x="187.8" y="732.7" width="4.4" height="2.3" fill="#1c1ca8"/>
<rect x="200.5" y="724.3" width="14" height="13.7" rx="5.0" fill="#000"/>
<rect x="205.3" y="727.8" width="4.4" height="7.2" fill="#22b022"/>
<rect x="218.0" y="731.1" width="14" height="6.9" rx="2.4" fill="#000"/>
<rect x="222.8" y="734.6" width="4.4" height="0.4" fill="#5aa2e6"/>
<rect x="235.5" y="731.1" width="14" height="6.9" rx="2.4" fill="#000"/>
<rect x="240.3" y="734.6" width="4.4" height="0.4" fill="#a3285f"/>
<rect x="253.0" y="733.1" width="14" height="4.9" rx="1.5" fill="#000"/>
<rect x="270.5" y="734.0" width="14" height="4.0" rx="1.0" fill="#000"/>
<rect x="288.0" y="734.0" width="14" height="4.0" rx="1.0" fill="#000"/>
<rect x="305.5" y="731.1" width="14" height="6.9" rx="2.4" fill="#000"/>
<rect x="310.3" y="734.6" width="4.4" height="0.4" fill="#5fdca4"/>
<rect x="323.0" y="727.2" width="14" height="10.8" rx="4.4" fill="#000"/>
<rect x="327.8" y="730.7" width="4.4" height="4.3" fill="#e21a1a"/>
<rect x="352.0" y="729.2" width="14" height="8.8" rx="3.4" fill="#000"/>
<rect x="356.8" y="732.7" width="4.4" height="2.3" fill="#1c1ca8"/>
<rect x="369.5" y="725.3" width="14" height="12.7" rx="5.0" fill="#000"/>
<rect x="374.3" y="728.8" width="4.4" height="6.2" fill="#22b022"/>
<rect x="387.0" y="733.1" width="14" height="4.9" rx="1.5" fill="#000"/>
<rect x="404.5" y="734.0" width="14" height="4.0" rx="1.0" fill="#000"/>
<rect x="422.0" y="734.0" width="14" height="4.0" rx="1.0" fill="#000"/>
<rect x="439.5" y="734.0" width="14" height="4.0" rx="1.0" fill="#000"/>
<rect x="457.0" y="734.0" width="14" height="4.0" rx="1.0" fill="#000"/>
<rect x="474.5" y="731.1" width="14" height="6.9" rx="2.4" fill="#000"/>
<rect x="479.3" y="734.6" width="4.4" height="0.4" fill="#5fdca4"/>
<rect x="492.0" y="727.2" width="14" height="10.8" rx="4.4" fill="#000"/>
<rect x="496.8" y="730.7" width="4.4" height="4.3" fill="#e21a1a"/>
<rect x="522.0" y="716.5" width="14" height="21.5" rx="5.0" fill="#000"/>
<rect x="526.8" y="720.0" width="4.4" height="15.0" fill="#1c1ca8"/>
<rect x="539.5" y="724.8" width="14" height="13.2" rx="5.0" fill="#000"/>
<rect x="544.3" y="728.3" width="4.4" height="6.7" fill="#22b022"/>
<rect x="557.0" y="703.8" width="14" height="34.2" rx="5.0" fill="#000"/>
<rect x="561.8" y="707.3" width="4.4" height="27.7" fill="#5aa2e6"/>
<rect x="574.5" y="692.6" width="14" height="45.4" rx="5.0" fill="#000"/>
<rect x="579.3" y="696.1" width="4.4" height="38.9" fill="#a3285f"/>
<rect x="592.0" y="683.3" width="14" height="54.7" rx="5.0" fill="#000"/>
<rect x="596.8" y="686.8" width="4.4" height="48.2" fill="#ea7a96"/>
<rect x="609.5" y="702.8" width="14" height="35.2" rx="5.0" fill="#000"/>
<rect x="614.3" y="706.3" width="4.4" height="28.7" fill="#651a5c"/>
<rect x="627.0" y="688.2" width="14" height="49.8" rx="5.0" fill="#000"/>
<rect x="631.8" y="691.7" width="4.4" height="43.3" fill="#d465c8"/>
<line x1="651.5" y1="637.0" x2="651.5" y2="652.2" stroke="#000" stroke-width="3.2" />
<line x1="645.5" y1="637.0" x2="657.5" y2="637.0" stroke="#000" stroke-width="3.2" />
<rect x="644.5" y="650.2" width="14" height="87.8" rx="5.0" fill="#000"/>
<rect x="649.3" y="665.7" width="4.4" height="69.3" fill="#5fdca4"/>
<line x1="669.0" y1="630.6" x2="669.0" y2="645.3" stroke="#000" stroke-width="3.2" />
<line x1="663.0" y1="630.6" x2="675.0" y2="630.6" stroke="#000" stroke-width="3.2" />
<rect x="662.0" y="643.3" width="14" height="94.7" rx="5.0" fill="#000"/>
<rect x="666.8" y="658.8" width="4.4" height="76.2" fill="#e21a1a"/>
<line x1="692.0" y1="735.5" x2="706.0" y2="735.5" stroke="#000" stroke-width="2.5" />
<line x1="709.5" y1="735.5" x2="723.5" y2="735.5" stroke="#000" stroke-width="2.5" />
<line x1="734.0" y1="611.1" x2="734.0" y2="625.8" stroke="#000" stroke-width="3.2" />
<line x1="728.0" y1="611.1" x2="740.0" y2="611.1" stroke="#000" stroke-width="3.2" />
<rect x="727.0" y="623.8" width="14" height="114.2" rx="5.0" fill="#000"/>
<rect x="731.8" y="639.3" width="4.4" height="95.7" fill="#5aa2e6"/>
<line x1="751.5" y1="696.0" x2="751.5" y2="702.9" stroke="#000" stroke-width="3.2" />
<line x1="745.5" y1="696.0" x2="757.5" y2="696.0" stroke="#000" stroke-width="3.2" />
<rect x="744.5" y="700.9" width="14" height="37.1" rx="5.0" fill="#000"/>
<rect x="749.3" y="709.3" width="4.4" height="25.7" fill="#a3285f"/>
<line x1="769.0" y1="629.7" x2="769.0" y2="644.4" stroke="#000" stroke-width="3.2" />
<line x1="763.0" y1="629.7" x2="775.0" y2="629.7" stroke="#000" stroke-width="3.2" />
<rect x="762.0" y="642.4" width="14" height="95.6" rx="5.0" fill="#000"/>
<rect x="766.8" y="657.9" width="4.4" height="77.1" fill="#ea7a96"/>
<line x1="786.5" y1="469.7" x2="786.5" y2="479.5" stroke="#000" stroke-width="3.2" />
<line x1="780.5" y1="469.7" x2="792.5" y2="469.7" stroke="#000" stroke-width="3.2" />
<rect x="779.5" y="477.5" width="14" height="260.5" rx="5.0" fill="#000"/>
<rect x="784.3" y="488.8" width="4.4" height="246.2" fill="#651a5c"/>
<line x1="804.0" y1="597.5" x2="804.0" y2="614.1" stroke="#000" stroke-width="3.2" />
<line x1="798.0" y1="597.5" x2="810.0" y2="597.5" stroke="#000" stroke-width="3.2" />
<rect x="797.0" y="612.1" width="14" height="125.9" rx="5.0" fill="#000"/>
<rect x="801.8" y="627.6" width="4.4" height="107.4" fill="#d465c8"/>
<line x1="821.5" y1="654.1" x2="821.5" y2="670.7" stroke="#000" stroke-width="3.2" />
<line x1="815.5" y1="654.1" x2="827.5" y2="654.1" stroke="#000" stroke-width="3.2" />
<rect x="814.5" y="668.7" width="14" height="69.3" rx="5.0" fill="#000"/>
<rect x="819.3" y="684.2" width="4.4" height="50.8" fill="#5fdca4"/>
<line x1="839.0" y1="634.1" x2="839.0" y2="652.2" stroke="#000" stroke-width="3.2" />
<line x1="833.0" y1="634.1" x2="845.0" y2="634.1" stroke="#000" stroke-width="3.2" />
<rect x="832.0" y="650.2" width="14" height="87.8" rx="5.0" fill="#000"/>
<rect x="836.8" y="665.7" width="4.4" height="69.3" fill="#e21a1a"/>
<rect x="861.0" y="729.2" width="14" height="8.8" rx="3.4" fill="#000"/>
<rect x="865.8" y="732.7" width="4.4" height="2.3" fill="#1c1ca8"/>
<rect x="878.5" y="725.3" width="14" height="12.7" rx="5.0" fill="#000"/>
<rect x="883.3" y="728.8" width="4.4" height="6.2" fill="#22b022"/>
<rect x="896.0" y="734.0" width="14" height="4.0" rx="1.0" fill="#000"/>
<rect x="913.5" y="732.6" width="14" height="5.4" rx="1.7" fill="#000"/>
<rect x="931.0" y="731.1" width="14" height="6.9" rx="2.4" fill="#000"/>
<rect x="935.8" y="734.6" width="4.4" height="0.4" fill="#ea7a96"/>
<rect x="948.5" y="731.1" width="14" height="6.9" rx="2.4" fill="#000"/>
<rect x="953.3" y="734.6" width="4.4" height="0.4" fill="#651a5c"/>
<rect x="966.0" y="729.2" width="14" height="8.8" rx="3.4" fill="#000"/>
<rect x="970.8" y="732.7" width="4.4" height="2.3" fill="#d465c8"/>
<rect x="983.5" y="728.2" width="14" height="9.8" rx="3.9" fill="#000"/>
<rect x="988.3" y="731.7" width="4.4" height="3.3" fill="#5fdca4"/>
<rect x="1001.0" y="732.1" width="14" height="5.9" rx="2.0" fill="#000"/>
<rect x="1031.0" y="726.2" width="14" height="11.8" rx="4.9" fill="#000"/>
<rect x="1035.8" y="729.7" width="4.4" height="5.3" fill="#1c1ca8"/>
<rect x="1048.5" y="724.3" width="14" height="13.7" rx="5.0" fill="#000"/>
<rect x="1053.3" y="727.8" width="4.4" height="7.2" fill="#22b022"/>
<rect x="1066.0" y="729.2" width="14" height="8.8" rx="3.4" fill="#000"/>
<rect x="1070.8" y="732.7" width="4.4" height="2.3" fill="#5aa2e6"/>
<rect x="1083.5" y="731.1" width="14" height="6.9" rx="2.4" fill="#000"/>
<rect x="1088.3" y="734.6" width="4.4" height="0.4" fill="#a3285f"/>
<rect x="1101.0" y="731.1" width="14" height="6.9" rx="2.4" fill="#000"/>
<rect x="1105.8" y="734.6" width="4.4" height="0.4" fill="#ea7a96"/>
<rect x="1118.5" y="732.6" width="14" height="5.4" rx="1.7" fill="#000"/>
<rect x="1136.0" y="733.1" width="14" height="4.9" rx="1.5" fill="#000"/>
<rect x="1153.5" y="729.2" width="14" height="8.8" rx="3.4" fill="#000"/>
<rect x="1158.3" y="732.7" width="4.4" height="2.3" fill="#5fdca4"/>
<rect x="1171.0" y="729.2" width="14" height="8.8" rx="3.4" fill="#000"/>
<rect x="1175.8" y="732.7" width="4.4" height="2.3" fill="#e21a1a"/>
<line x1="1207.5" y1="723.3" x2="1207.5" y2="728.2" stroke="#000" stroke-width="3.2" />
<line x1="1201.5" y1="723.3" x2="1213.5" y2="723.3" stroke="#000" stroke-width="3.2" />
<rect x="1200.5" y="726.2" width="14" height="11.8" rx="4.9" fill="#000"/>
<rect x="1205.3" y="732.7" width="4.4" height="2.3" fill="#1c1ca8"/>
<rect x="1218.0" y="725.3" width="14" height="12.7" rx="5.0" fill="#000"/>
<rect x="1222.8" y="728.8" width="4.4" height="6.2" fill="#22b022"/>
<rect x="1235.5" y="732.6" width="14" height="5.4" rx="1.7" fill="#000"/>
<rect x="1253.0" y="732.1" width="14" height="5.9" rx="2.0" fill="#000"/>
<rect x="1270.5" y="729.2" width="14" height="8.8" rx="3.4" fill="#000"/>
<rect x="1275.3" y="732.7" width="4.4" height="2.3" fill="#ea7a96"/>
<rect x="1288.0" y="731.1" width="14" height="6.9" rx="2.4" fill="#000"/>
<rect x="1292.8" y="734.6" width="4.4" height="0.4" fill="#651a5c"/>
<rect x="1305.5" y="733.1" width="14" height="4.9" rx="1.5" fill="#000"/>
<rect x="1323.0" y="733.1" width="14" height="4.9" rx="1.5" fill="#000"/>
<rect x="1340.5" y="732.1" width="14" height="5.9" rx="2.0" fill="#000"/>
<rect x="1370.0" y="732.1" width="14" height="5.9" rx="2.0" fill="#000"/>
<rect x="1387.5" y="727.2" width="14" height="10.8" rx="4.4" fill="#000"/>
<rect x="1392.3" y="730.7" width="4.4" height="4.3" fill="#22b022"/>
<rect x="1405.0" y="704.8" width="14" height="33.2" rx="5.0" fill="#000"/>
<rect x="1409.8" y="708.3" width="4.4" height="26.7" fill="#5aa2e6"/>
<rect x="1422.5" y="712.6" width="14" height="25.4" rx="5.0" fill="#000"/>
<rect x="1427.3" y="716.1" width="4.4" height="18.9" fill="#a3285f"/>
<line x1="1447.0" y1="686.6" x2="1447.0" y2="700.0" stroke="#000" stroke-width="3.2" />
<line x1="1441.0" y1="686.6" x2="1453.0" y2="686.6" stroke="#000" stroke-width="3.2" />
<rect x="1440.0" y="698.0" width="14" height="40.0" rx="5.0" fill="#000"/>
<rect x="1444.8" y="712.8" width="4.4" height="22.2" fill="#ea7a96"/>
<line x1="1464.5" y1="693.1" x2="1464.5" y2="698.0" stroke="#000" stroke-width="3.2" />
<line x1="1458.5" y1="693.1" x2="1470.5" y2="693.1" stroke="#000" stroke-width="3.2" />
<rect x="1457.5" y="696.0" width="14" height="42.0" rx="5.0" fill="#000"/>
<rect x="1462.3" y="702.4" width="4.4" height="32.6" fill="#651a5c"/>
<line x1="1482.0" y1="696.0" x2="1482.0" y2="700.0" stroke="#000" stroke-width="3.2" />
<line x1="1476.0" y1="696.0" x2="1488.0" y2="696.0" stroke="#000" stroke-width="3.2" />
<rect x="1475.0" y="698.0" width="14" height="40.0" rx="5.0" fill="#000"/>
<rect x="1479.8" y="703.4" width="4.4" height="31.6" fill="#d465c8"/>
<rect x="1492.5" y="685.3" width="14" height="52.7" rx="5.0" fill="#000"/>
<rect x="1497.3" y="688.8" width="4.4" height="46.2" fill="#5fdca4"/>
<rect x="1510.0" y="715.5" width="14" height="22.5" rx="5.0" fill="#000"/>
<rect x="1514.8" y="719.0" width="4.4" height="16.0" fill="#e21a1a"/>
<rect x="1540.0" y="728.2" width="14" height="9.8" rx="3.9" fill="#000"/>
<rect x="1544.8" y="731.7" width="4.4" height="3.3" fill="#1c1ca8"/>
<rect x="1557.5" y="726.2" width="14" height="11.8" rx="4.9" fill="#000"/>
<rect x="1562.3" y="729.7" width="4.4" height="5.3" fill="#22b022"/>
<rect x="1575.0" y="729.2" width="14" height="8.8" rx="3.4" fill="#000"/>
<rect x="1579.8" y="732.7" width="4.4" height="2.3" fill="#5aa2e6"/>
<rect x="1592.5" y="730.1" width="14" height="7.9" rx="2.9" fill="#000"/>
<rect x="1597.3" y="733.6" width="4.4" height="1.4" fill="#a3285f"/>
<rect x="1610.0" y="734.5" width="14" height="3.5" rx="0.7" fill="#000"/>
<rect x="1627.5" y="729.2" width="14" height="8.8" rx="3.4" fill="#000"/>
<rect x="1632.3" y="732.7" width="4.4" height="2.3" fill="#651a5c"/>
<rect x="1645.0" y="727.2" width="14" height="10.8" rx="4.4" fill="#000"/>
<rect x="1649.8" y="730.7" width="4.4" height="4.3" fill="#d465c8"/>
<rect x="1662.5" y="731.6" width="14" height="6.4" rx="2.2" fill="#000"/>
<line x1="1687.0" y1="726.2" x2="1687.0" y2="730.2" stroke="#000" stroke-width="3.2" />
<line x1="1681.0" y1="726.2" x2="1693.0" y2="726.2" stroke="#000" stroke-width="3.2" />
<rect x="1680.0" y="728.2" width="14" height="9.8" rx="3.9" fill="#000"/>
<rect x="1684.8" y="733.6" width="4.4" height="1.4" fill="#e21a1a"/>
<rect x="1709.5" y="726.2" width="14" height="11.8" rx="4.9" fill="#000"/>
<rect x="1714.3" y="729.7" width="4.4" height="5.3" fill="#1c1ca8"/>
<rect x="1727.0" y="726.2" width="14" height="11.8" rx="4.9" fill="#000"/>
<rect x="1731.8" y="729.7" width="4.4" height="5.3" fill="#22b022"/>
<rect x="1744.5" y="727.2" width="14" height="10.8" rx="4.4" fill="#000"/>
<rect x="1749.3" y="730.7" width="4.4" height="4.3" fill="#5aa2e6"/>
<rect x="1762.0" y="726.2" width="14" height="11.8" rx="4.9" fill="#000"/>
<rect x="1766.8" y="729.7" width="4.4" height="5.3" fill="#a3285f"/>
<rect x="1779.5" y="726.2" width="14" height="11.8" rx="4.9" fill="#000"/>
<rect x="1784.3" y="729.7" width="4.4" height="5.3" fill="#ea7a96"/>
<rect x="1797.0" y="726.2" width="14" height="11.8" rx="4.9" fill="#000"/>
<rect x="1801.8" y="729.7" width="4.4" height="5.3" fill="#651a5c"/>
<rect x="1814.5" y="727.2" width="14" height="10.8" rx="4.4" fill="#000"/>
<rect x="1819.3" y="730.7" width="4.4" height="4.3" fill="#d465c8"/>
<rect x="1832.0" y="727.2" width="14" height="10.8" rx="4.4" fill="#000"/>
<rect x="1836.8" y="730.7" width="4.4" height="4.3" fill="#5fdca4"/>
<line x1="1856.5" y1="718.4" x2="1856.5" y2="725.3" stroke="#000" stroke-width="3.2" />
<line x1="1850.5" y1="718.4" x2="1862.5" y2="718.4" stroke="#000" stroke-width="3.2" />
<rect x="1849.5" y="723.3" width="14" height="14.7" rx="5.0" fill="#000"/>
<rect x="1854.3" y="731.7" width="4.4" height="3.3" fill="#e21a1a"/>
<rect x="1978.0" y="413.1" width="59.5" height="10.0" fill="#0c0ce6" stroke="#000" stroke-width="1.8"/>
<text x="2049.5" y="432.9" font-size="28" stroke="#000" stroke-width="0.45" textLength="55.0" lengthAdjust="spacingAndGlyphs">NHA</text>
<rect x="1978.0" y="449.2" width="59.5" height="10.0" fill="#1ee61e" stroke="#000" stroke-width="1.8"/>
<text x="2049.5" y="465.0" font-size="28" stroke="#000" stroke-width="0.45" textLength="69.5" lengthAdjust="spacingAndGlyphs">hNSC</text>
<rect x="1978.0" y="488.2" width="59.5" height="10.0" fill="#2fa2da" stroke="#000" stroke-width="1.8"/>
<text x="2049.5" y="502.9" font-size="28" stroke="#000" stroke-width="0.45" textLength="57.9" lengthAdjust="spacingAndGlyphs">4121</text>
<rect x="1978.0" y="527.0" width="59.5" height="10.0" fill="#8e0c52" stroke="#000" stroke-width="1.8"/>
<text x="2049.5" y="539.1" font-size="28" stroke="#000" stroke-width="0.45" textLength="50.7" lengthAdjust="spacingAndGlyphs">H2S</text>
<rect x="1978.0" y="565.8" width="59.5" height="10.0" fill="#f2a4f0" stroke="#000" stroke-width="1.8"/>
<text x="2049.5" y="580.4" font-size="28" stroke="#000" stroke-width="0.45" textLength="57.9" lengthAdjust="spacingAndGlyphs">3691</text>
<rect x="1978.0" y="604.5" width="59.5" height="10.0" fill="#5a2a92" stroke="#000" stroke-width="1.8"/>
<text x="2049.5" y="621.0" font-size="28" stroke="#000" stroke-width="0.45" textLength="43.5" lengthAdjust="spacingAndGlyphs">387</text>
<rect x="1978.0" y="643.3" width="59.5" height="10.0" fill="#d45aa8" stroke="#000" stroke-width="1.8"/>
<text x="2049.5" y="658.0" font-size="28" stroke="#000" stroke-width="0.45" textLength="29.0" lengthAdjust="spacingAndGlyphs">17</text>
<rect x="1978.0" y="679.5" width="59.5" height="10.0" fill="#3fa84a" stroke="#000" stroke-width="1.8"/>
<text x="2049.5" y="691.0" font-size="28" stroke="#000" stroke-width="0.45" textLength="43.5" lengthAdjust="spacingAndGlyphs">456</text>
<rect x="1978.0" y="718.4" width="59.5" height="10.0" fill="#e62020" stroke="#000" stroke-width="1.8"/>
<text x="2049.5" y="731.4" font-size="28" stroke="#000" stroke-width="0.45" textLength="29.0" lengthAdjust="spacingAndGlyphs">23</text>
<text x="15.4" y="796.5" font-size="50" stroke="#000" stroke-width="0.45">b</text>
<text x="283.0" y="793.3" font-size="27" stroke="#000" stroke-width="0.45">Exon</text>
<text x="364.0" y="793.3" font-size="27" stroke="#000" stroke-width="0.45">7</text>
<text x="383.0" y="793.3" font-size="27" stroke="#000" stroke-width="0.45">8</text>
<text x="418.0" y="793.3" font-size="27" stroke="#000" stroke-width="0.45">9</text>
<text x="440.0" y="793.3" font-size="27" stroke="#000" stroke-width="0.45">10</text>
<line x1="127.0" y1="808.7" x2="624.0" y2="808.7" stroke="#444" stroke-width="3" />
<rect x="127.0" y="800.5" width="6.5" height="16.5" fill="#8CC98A" stroke="#5DAE5B" stroke-width="1.4"/>
<rect x="137.0" y="800.5" width="6.5" height="16.5" fill="#8CC98A" stroke="#5DAE5B" stroke-width="1.4"/>
<rect x="216.0" y="800.5" width="11.0" height="16.5" fill="#8CC98A" stroke="#5DAE5B" stroke-width="1.4"/>
<rect x="283.0" y="800.5" width="6.5" height="16.5" fill="#8CC98A" stroke="#5DAE5B" stroke-width="1.4"/>
<rect x="300.0" y="800.5" width="8.0" height="16.5" fill="#8CC98A" stroke="#5DAE5B" stroke-width="1.4"/>
<rect x="335.0" y="800.5" width="7.0" height="16.5" fill="#8CC98A" stroke="#5DAE5B" stroke-width="1.4"/>
<rect x="484.0" y="800.5" width="7.0" height="16.5" fill="#8CC98A" stroke="#5DAE5B" stroke-width="1.4"/>
<rect x="517.0" y="800.5" width="7.0" height="16.5" fill="#8CC98A" stroke="#5DAE5B" stroke-width="1.4"/>
<rect x="534.0" y="800.5" width="7.0" height="16.5" fill="#8CC98A" stroke="#5DAE5B" stroke-width="1.4"/>
<rect x="569.0" y="800.5" width="7.0" height="16.5" fill="#8CC98A" stroke="#5DAE5B" stroke-width="1.4"/>
<rect x="586.0" y="800.5" width="7.0" height="16.5" fill="#8CC98A" stroke="#5DAE5B" stroke-width="1.4"/>
<rect x="366.0" y="800.5" width="11.0" height="16.5" fill="#2A8FD6" stroke="#2478b8" stroke-width="1"/>
<rect x="383.0" y="800.5" width="6.0" height="16.5" fill="#2A8FD6" stroke="#2478b8" stroke-width="1"/>
<rect x="417.5" y="800.5" width="9.5" height="16.5" fill="#2A8FD6" stroke="#2478b8" stroke-width="1"/>
<rect x="440.0" y="800.5" width="10.0" height="16.5" fill="#2A8FD6" stroke="#2478b8" stroke-width="1"/>
<rect x="624.0" y="800.5" width="95.0" height="16.5" fill="#8CC98A" stroke="#5DAE5B" stroke-width="1.6"/>
<polygon points="622.5,822.0 640.5,831.5 622.5,841.0" fill="#fff" stroke="#000" stroke-width="1.6" />
<polygon points="661.5,822.0 643.5,831.5 661.5,841.0" fill="#fff" stroke="#000" stroke-width="1.6" />
<line x1="365.5" y1="820.0" x2="344.5" y2="897.0" stroke="#000" stroke-width="2.6" />
<line x1="451.5" y1="820.0" x2="464.0" y2="897.0" stroke="#000" stroke-width="2.6" />
<ellipse cx="408.5" cy="941" rx="55.5" ry="63" fill="none" stroke="#1f6fae" stroke-width="12.5"/>
<ellipse cx="408.5" cy="941" rx="55.5" ry="63" fill="none" stroke="#3a93d0" stroke-width="8"/>
<rect x="402.0" y="869.0" width="14.5" height="36.5" fill="#a9a9a9" stroke="#7a7a7a" stroke-width="1.4"/>
<polygon points="387.5,854.5 406.5,863.8 387.5,873.0" fill="#000" stroke="none" stroke-width="0" />
<polygon points="428.5,854.5 409.5,863.8 428.5,873.0" fill="#000" stroke="none" stroke-width="0" />
<text x="342.0" y="948.0" font-size="28" stroke="#000" stroke-width="0.45" textLength="143.0" lengthAdjust="spacingAndGlyphs">Circ-E-Cad</text>
<text x="188.5" y="1054.0" font-size="28" stroke="#000" stroke-width="0.45" textLength="335.0" lengthAdjust="spacingAndGlyphs">Rnase R-Rnase R+ gDNA</text>
<polygon points="177.0,1080.0 196.0,1092.2 177.0,1104.5" fill="#000" stroke="none" stroke-width="0" />
<polygon points="218.0,1080.0 199.0,1092.2 218.0,1104.5" fill="#000" stroke="none" stroke-width="0" />
<polygon points="241.0,1080.0 259.5,1092.2 241.0,1104.5" fill="#fff" stroke="#000" stroke-width="1.3" />
<polygon points="281.0,1080.0 262.5,1092.2 281.0,1104.5" fill="#fff" stroke="#000" stroke-width="1.3" />
<polygon points="321.0,1080.0 339.5,1092.2 321.0,1104.5" fill="#000" stroke="none" stroke-width="0" />
<polygon points="361.0,1080.0 342.5,1092.2 361.0,1104.5" fill="#000" stroke="none" stroke-width="0" />
<polygon points="374.0,1080.0 393.0,1092.2 374.0,1104.5" fill="#fff" stroke="#000" stroke-width="1.3" />
<polygon points="415.0,1080.0 396.0,1092.2 415.0,1104.5" fill="#fff" stroke="#000" stroke-width="1.3" />
<polygon points="434.6,1080.0 453.3,1092.2 434.6,1104.5" fill="#000" stroke="none" stroke-width="0" />
<polygon points="475.0,1080.0 456.3,1092.2 475.0,1104.5" fill="#000" stroke="none" stroke-width="0" />
<polygon points="502.0,1080.0 520.5,1092.2 502.0,1104.5" fill="#fff" stroke="#000" stroke-width="1.3" />
<polygon points="542.0,1080.0 523.5,1092.2 542.0,1104.5" fill="#fff" stroke="#000" stroke-width="1.3" />
<rect x="89.0" y="1109.7" width="465.5" height="219.6" fill="#262626"/>
<rect x="89" y="1109.7" width="465.5" height="219.6" fill="url(#gelgrad)" />
<path d="M121,1142.1 Q139.5,1147.5 158,1142.1" stroke="#f4f4f4" stroke-width="5.2" stroke-linecap="round" fill="none" filter="url(#blur1)"/>
<path d="M121,1175.8 Q139.5,1181.2 158,1175.8" stroke="#f4f4f4" stroke-width="5.5" stroke-linecap="round" fill="none" filter="url(#blur1)"/>
<path d="M121,1191.8 Q139.5,1197.2 158,1191.8" stroke="#f8f8f8" stroke-width="6" stroke-linecap="round" fill="none" filter="url(#blur1)"/>
<path d="M121,1213.6 Q139.5,1219.0 158,1213.6" stroke="#f0f0f0" stroke-width="5" stroke-linecap="round" fill="none" filter="url(#blur1)"/>
<path d="M121,1247.8 Q139.5,1253.2 158,1247.8" stroke="#e8e8e8" stroke-width="5" stroke-linecap="round" fill="none" filter="url(#blur1)"/>
<path d="M121,1276.2 Q139.5,1281.6 158,1276.2" stroke="#b8b8b8" stroke-width="8" stroke-linecap="round" fill="none" filter="url(#blur1)"/>
<rect x="178" y="1270.0" width="44" height="11" rx="6" fill="#a9a9a9" filter="url(#blur3)"/>
<rect x="243" y="1244.0" width="43" height="17" rx="6" fill="#bdbdbd" filter="url(#blur3)"/>
<rect x="304" y="1269.2" width="42" height="10" rx="6" fill="#a4a4a4" filter="url(#blur3)"/>
<rect x="489.6" y="1240.5" width="46.39999999999998" height="18" rx="6" fill="#c2c2c2" filter="url(#blur3)"/>
<ellipse cx="265" cy="1255" rx="17" ry="3.5" fill="#d8d8d8" filter="url(#blur2)"/>
<ellipse cx="513" cy="1252" rx="18" ry="4" fill="#dadada" filter="url(#blur2)"/>
<text x="0.0" y="1256.0" font-size="25.5" stroke="#000" stroke-width="0.45" textLength="77.0" lengthAdjust="spacingAndGlyphs">250bp</text>
<text x="0.0" y="1298.6" font-size="25.5" stroke="#000" stroke-width="0.45" textLength="77.0" lengthAdjust="spacingAndGlyphs">100bp</text>
<polygon points="107.0,1339.7 125.5,1351.7 107.0,1363.6" fill="#000" stroke="none" stroke-width="0" />
<polygon points="147.0,1339.7 128.5,1351.7 147.0,1363.6" fill="#000" stroke="none" stroke-width="0" />
<text x="156.0" y="1359.0" font-size="27" stroke="#000" stroke-width="0.45">Junction P</text>
<polygon points="356.0,1339.7 374.8,1351.7 356.0,1363.6" fill="#fff" stroke="#000" stroke-width="1.4" />
<polygon points="396.5,1339.7 377.8,1351.7 396.5,1363.6" fill="#fff" stroke="#000" stroke-width="1.4" />
<text x="401.0" y="1359.0" font-size="27" stroke="#000" stroke-width="0.45">Linear P</text>
<text x="670.0" y="1086.0" font-size="28" stroke="#000" stroke-width="0.45" textLength="103.0" lengthAdjust="spacingAndGlyphs">Junction</text>
<polygon points="720.4,1089.4 732.6,1089.4 726.5,1107.5" fill="#000" stroke="none" stroke-width="0" />
<text x="613.5" y="1129.4" font-size="28" stroke="#000" stroke-width="0.45" textLength="232.2" lengthAdjust="spacingAndGlyphs">AATAACGAACTC</text>
<g><polyline points="595.2,1339.5 596.0,1339.4 596.8,1338.2 597.6,1329.0 598.4,1292.4 599.2,1223.5 600.0,1183.0 600.8,1223.5 601.6,1292.4 602.4,1329.0 603.2,1338.2 604.0,1339.4 604.8,1339.5" fill="none" stroke="#5a5a5a" stroke-width="0.95" opacity="0.85"/><polyline points="598.8,1339.5 599.6,1339.4 600.4,1338.7 601.2,1332.8 602.0,1309.6 602.8,1266.0 603.6,1240.3 604.4,1266.0 605.2,1309.6 606.0,1332.8 606.8,1338.7 607.6,1339.4 608.4,1339.5" fill="none" stroke="#9494dc" stroke-width="0.95" opacity="0.85"/><polyline points="602.9,1339.5 603.7,1339.4 604.5,1338.0 605.3,1327.1 606.1,1284.1 606.9,1203.2 607.7,1155.5 608.5,1203.2 609.3,1284.1 610.1,1327.1 610.9,1338.0 611.7,1339.4 612.5,1339.5" fill="none" stroke="#86c493" stroke-width="0.95" opacity="0.85"/><polyline points="606.8,1339.5 607.6,1339.4 608.4,1338.1 609.2,1328.1 610.0,1288.3 610.8,1213.6 611.6,1169.5 612.4,1213.6 613.2,1288.3 614.0,1328.1 614.8,1338.1 615.6,1339.4 616.4,1339.5" fill="none" stroke="#5a5a5a" stroke-width="0.95" opacity="0.85"/><polyline points="610.1,1339.5 610.9,1339.4 611.7,1338.1 612.5,1328.0 613.3,1288.0 614.1,1212.9 614.9,1168.6 615.7,1212.9 616.5,1288.0 617.3,1328.0 618.1,1338.1 618.9,1339.4 619.7,1339.5" fill="none" stroke="#86c493" stroke-width="0.95" opacity="0.85"/><polyline points="613.9,1339.5 614.7,1339.4 615.5,1338.5 616.3,1331.7 617.1,1304.6 617.9,1253.8 618.7,1223.8 619.5,1253.8 620.3,1304.6 621.1,1331.7 621.9,1338.5 622.7,1339.4 623.5,1339.5" fill="none" stroke="#5a5a5a" stroke-width="0.95" opacity="0.85"/><polyline points="614.4,1339.5 615.2,1339.5 616.0,1339.0 616.8,1335.6 617.6,1322.1 618.4,1296.6 619.2,1281.6 620.0,1296.6 620.8,1322.1 621.6,1335.6 622.4,1339.0 623.2,1339.5 624.0,1339.5" fill="none" stroke="#86c493" stroke-width="0.95" opacity="0.6"/><polyline points="617.8,1339.5 618.6,1339.4 619.4,1338.3 620.2,1329.7 621.0,1295.4 621.8,1230.9 622.6,1192.9 623.4,1230.9 624.2,1295.4 625.0,1329.7 625.8,1338.3 626.6,1339.4 627.4,1339.5" fill="none" stroke="#5a5a5a" stroke-width="0.95" opacity="0.85"/><polyline points="622.1,1339.5 622.9,1339.4 623.7,1338.2 624.5,1329.2 625.3,1293.5 626.1,1226.2 626.9,1186.6 627.7,1226.2 628.5,1293.5 629.3,1329.2 630.1,1338.2 630.9,1339.4 631.7,1339.5" fill="none" stroke="#86c493" stroke-width="0.95" opacity="0.85"/><polyline points="620.4,1339.5 621.2,1339.5 622.0,1338.8 622.8,1334.1 623.6,1315.3 624.4,1280.0 625.2,1259.2 626.0,1280.0 626.8,1315.3 627.6,1334.1 628.4,1338.8 629.2,1339.5 630.0,1339.5" fill="none" stroke="#e5998f" stroke-width="0.95" opacity="0.6"/><polyline points="625.3,1339.5 626.1,1339.4 626.9,1338.1 627.7,1328.3 628.5,1289.3 629.3,1216.0 630.1,1172.8 630.9,1216.0 631.7,1289.3 632.5,1328.3 633.3,1338.1 634.1,1339.4 634.9,1339.5" fill="none" stroke="#86c493" stroke-width="0.95" opacity="0.85"/><polyline points="629.5,1339.5 630.3,1339.4 631.1,1338.6 631.9,1332.1 632.7,1306.5 633.5,1258.4 634.3,1230.0 635.1,1258.4 635.9,1306.5 636.7,1332.1 637.5,1338.6 638.3,1339.4 639.1,1339.5" fill="none" stroke="#86c493" stroke-width="0.95" opacity="0.85"/><polyline points="631.2,1339.5 632.0,1339.5 632.8,1339.1 633.6,1336.1 634.4,1324.4 635.2,1302.3 636.0,1289.3 636.8,1302.3 637.6,1324.4 638.4,1336.1 639.2,1339.1 640.0,1339.5 640.8,1339.5" fill="none" stroke="#e5998f" stroke-width="0.95" opacity="0.6"/><polyline points="632.6,1339.5 633.4,1339.4 634.2,1338.2 635.0,1328.5 635.8,1290.4 636.6,1218.7 637.4,1176.5 638.2,1218.7 639.0,1290.4 639.8,1328.5 640.6,1338.2 641.4,1339.4 642.2,1339.5" fill="none" stroke="#9494dc" stroke-width="0.95" opacity="0.85"/><polyline points="631.9,1339.5 632.7,1339.5 633.5,1339.1 634.3,1336.1 635.1,1324.5 635.9,1302.5 636.7,1289.6 637.5,1302.5 638.3,1324.5 639.1,1336.1 639.9,1339.1 640.7,1339.5 641.5,1339.5" fill="none" stroke="#86c493" stroke-width="0.95" opacity="0.6"/><polyline points="636.1,1339.5 636.9,1339.4 637.7,1338.6 638.5,1332.5 639.3,1308.3 640.1,1262.8 640.9,1235.9 641.7,1262.8 642.5,1308.3 643.3,1332.5 644.1,1338.6 644.9,1339.4 645.7,1339.5" fill="none" stroke="#86c493" stroke-width="0.95" opacity="0.85"/><polyline points="639.2,1339.5 640.0,1339.4 640.8,1338.1 641.6,1328.3 642.4,1289.2 643.2,1215.8 644.0,1172.6 644.8,1215.8 645.6,1289.2 646.4,1328.3 647.2,1338.1 648.0,1339.4 648.8,1339.5" fill="none" stroke="#5a5a5a" stroke-width="0.95" opacity="0.85"/><polyline points="638.0,1339.5 638.8,1339.5 639.6,1338.8 640.4,1333.9 641.2,1314.2 642.0,1277.2 642.8,1255.4 643.6,1277.2 644.4,1314.2 645.2,1333.9 646.0,1338.8 646.8,1339.5 647.6,1339.5" fill="none" stroke="#e5998f" stroke-width="0.95" opacity="0.6"/><polyline points="643.5,1339.5 644.3,1339.4 645.1,1338.4 645.9,1330.6 646.7,1299.7 647.5,1241.5 648.3,1207.3 649.1,1241.5 649.9,1299.7 650.7,1330.6 651.5,1338.4 652.3,1339.4 653.1,1339.5" fill="none" stroke="#9494dc" stroke-width="0.95" opacity="0.85"/><polyline points="643.2,1339.5 644.0,1339.5 644.8,1339.1 645.6,1336.1 646.4,1324.2 647.2,1301.8 648.0,1288.6 648.8,1301.8 649.6,1324.2 650.4,1336.1 651.2,1339.1 652.0,1339.5 652.8,1339.5" fill="none" stroke="#e5998f" stroke-width="0.95" opacity="0.6"/><polyline points="646.9,1339.5 647.7,1339.4 648.5,1337.9 649.3,1326.8 650.1,1282.7 650.9,1199.7 651.7,1150.8 652.5,1199.7 653.3,1282.7 654.1,1326.8 654.9,1337.9 655.7,1339.4 656.5,1339.5" fill="none" stroke="#e5998f" stroke-width="0.95" opacity="0.85"/><polyline points="646.5,1339.5 647.3,1339.4 648.1,1338.5 648.9,1331.4 649.7,1303.0 650.5,1249.8 651.3,1218.4 652.1,1249.8 652.9,1303.0 653.7,1331.4 654.5,1338.5 655.3,1339.4 656.1,1339.5" fill="none" stroke="#86c493" stroke-width="0.95" opacity="0.6"/><polyline points="650.8,1339.5 651.6,1339.4 652.4,1338.7 653.2,1333.0 654.0,1310.2 654.8,1267.3 655.6,1242.1 656.4,1267.3 657.2,1310.2 658.0,1333.0 658.8,1338.7 659.6,1339.4 660.4,1339.5" fill="none" stroke="#86c493" stroke-width="0.95" opacity="0.85"/><polyline points="649.9,1339.5 650.7,1339.5 651.5,1339.0 652.3,1335.5 653.1,1321.6 653.9,1295.5 654.7,1280.1 655.5,1295.5 656.3,1321.6 657.1,1335.5 657.9,1339.0 658.7,1339.5 659.5,1339.5" fill="none" stroke="#e5998f" stroke-width="0.95" opacity="0.6"/><polyline points="654.3,1339.5 655.1,1339.4 655.9,1338.4 656.7,1330.7 657.5,1299.9 658.3,1242.1 659.1,1208.0 659.9,1242.1 660.7,1299.9 661.5,1330.7 662.3,1338.4 663.1,1339.4 663.9,1339.5" fill="none" stroke="#e5998f" stroke-width="0.95" opacity="0.85"/><polyline points="654.6,1339.5 655.4,1339.5 656.2,1339.1 657.0,1336.0 657.8,1323.8 658.6,1300.8 659.4,1287.3 660.2,1300.8 661.0,1323.8 661.8,1336.0 662.6,1339.1 663.4,1339.5 664.2,1339.5" fill="none" stroke="#86c493" stroke-width="0.95" opacity="0.6"/><polyline points="658.1,1339.5 658.9,1339.4 659.7,1338.2 660.5,1329.1 661.3,1292.7 662.1,1224.4 662.9,1184.2 663.7,1224.4 664.5,1292.7 665.3,1329.1 666.1,1338.2 666.9,1339.4 667.7,1339.5" fill="none" stroke="#e5998f" stroke-width="0.95" opacity="0.85"/><polyline points="658.1,1339.5 658.9,1339.5 659.7,1338.8 660.5,1334.0 661.3,1314.7 662.1,1278.5 662.9,1257.2 663.7,1278.5 664.5,1314.7 665.3,1334.0 666.1,1338.8 666.9,1339.5 667.7,1339.5" fill="none" stroke="#5a5a5a" stroke-width="0.95" opacity="0.6"/><polyline points="662.3,1339.5 663.1,1339.4 663.9,1338.2 664.7,1329.0 665.5,1292.3 666.3,1223.4 667.1,1182.7 667.9,1223.4 668.7,1292.3 669.5,1329.0 670.3,1338.2 671.1,1339.4 671.9,1339.5" fill="none" stroke="#9494dc" stroke-width="0.95" opacity="0.85"/><polyline points="663.5,1339.5 664.3,1339.5 665.1,1339.0 665.9,1335.3 666.7,1320.6 667.5,1293.1 668.3,1276.8 669.1,1293.1 669.9,1320.6 670.7,1335.3 671.5,1339.0 672.3,1339.5 673.1,1339.5" fill="none" stroke="#86c493" stroke-width="0.95" opacity="0.6"/><polyline points="665.6,1339.5 666.4,1339.4 667.2,1338.2 668.0,1328.5 668.8,1290.3 669.6,1218.5 670.4,1176.2 671.2,1218.5 672.0,1290.3 672.8,1328.5 673.6,1338.2 674.4,1339.4 675.2,1339.5" fill="none" stroke="#9494dc" stroke-width="0.95" opacity="0.85"/><polyline points="666.0,1339.5 666.8,1339.5 667.6,1338.9 668.4,1334.4 669.2,1316.4 670.0,1282.8 670.8,1263.0 671.6,1282.8 672.4,1316.4 673.2,1334.4 674.0,1338.9 674.8,1339.5 675.6,1339.5" fill="none" stroke="#e5998f" stroke-width="0.95" opacity="0.6"/><polyline points="668.7,1339.5 669.5,1339.4 670.3,1338.3 671.1,1329.6 671.9,1295.3 672.7,1230.9 673.5,1192.9 674.3,1230.9 675.1,1295.3 675.9,1329.6 676.7,1338.3 677.5,1339.4 678.3,1339.5" fill="none" stroke="#86c493" stroke-width="0.95" opacity="0.85"/><polyline points="669.5,1339.5 670.3,1339.5 671.1,1339.0 671.9,1335.5 672.7,1321.7 673.5,1295.7 674.3,1280.4 675.1,1295.7 675.9,1321.7 676.7,1335.5 677.5,1339.0 678.3,1339.5 679.1,1339.5" fill="none" stroke="#5a5a5a" stroke-width="0.95" opacity="0.6"/><polyline points="672.9,1339.5 673.7,1339.4 674.5,1338.5 675.3,1331.1 676.1,1301.7 676.9,1246.5 677.7,1214.0 678.5,1246.5 679.3,1301.7 680.1,1331.1 680.9,1338.5 681.7,1339.4 682.5,1339.5" fill="none" stroke="#5a5a5a" stroke-width="0.95" opacity="0.85"/><polyline points="674.6,1339.5 675.4,1339.5 676.2,1339.1 677.0,1336.5 677.8,1326.2 678.6,1306.9 679.4,1295.5 680.2,1306.9 681.0,1326.2 681.8,1336.5 682.6,1339.1 683.4,1339.5 684.2,1339.5" fill="none" stroke="#e5998f" stroke-width="0.95" opacity="0.6"/><polyline points="676.6,1339.5 677.4,1339.4 678.2,1338.5 679.0,1331.1 679.8,1302.0 680.6,1247.2 681.4,1214.9 682.2,1247.2 683.0,1302.0 683.8,1331.1 684.6,1338.5 685.4,1339.4 686.2,1339.5" fill="none" stroke="#86c493" stroke-width="0.95" opacity="0.85"/><polyline points="679.8,1339.5 680.6,1339.4 681.4,1338.6 682.2,1332.5 683.0,1308.2 683.8,1262.6 684.6,1235.7 685.4,1262.6 686.2,1308.2 687.0,1332.5 687.8,1338.6 688.6,1339.4 689.4,1339.5" fill="none" stroke="#86c493" stroke-width="0.95" opacity="0.85"/><polyline points="678.3,1339.5 679.1,1339.5 679.9,1339.2 680.7,1336.9 681.5,1327.9 682.3,1311.0 683.1,1301.0 683.9,1311.0 684.7,1327.9 685.5,1336.9 686.3,1339.2 687.1,1339.5 687.9,1339.5" fill="none" stroke="#9494dc" stroke-width="0.95" opacity="0.6"/><polyline points="683.4,1339.5 684.2,1339.4 685.0,1338.6 685.8,1332.3 686.6,1307.4 687.4,1260.7 688.2,1233.1 689.0,1260.7 689.8,1307.4 690.6,1332.3 691.4,1338.6 692.2,1339.4 693.0,1339.5" fill="none" stroke="#9494dc" stroke-width="0.95" opacity="0.85"/><polyline points="685.1,1339.5 685.9,1339.5 686.7,1339.0 687.5,1335.5 688.3,1321.5 689.1,1295.1 689.9,1279.6 690.7,1295.1 691.5,1321.5 692.3,1335.5 693.1,1339.0 693.9,1339.5 694.7,1339.5" fill="none" stroke="#e5998f" stroke-width="0.95" opacity="0.6"/><polyline points="687.3,1339.5 688.1,1339.4 688.9,1338.2 689.7,1329.0 690.5,1292.2 691.3,1223.2 692.1,1182.6 692.9,1223.2 693.7,1292.2 694.5,1329.0 695.3,1338.2 696.1,1339.4 696.9,1339.5" fill="none" stroke="#9494dc" stroke-width="0.95" opacity="0.85"/><polyline points="691.0,1339.5 691.8,1339.4 692.6,1338.1 693.4,1328.2 694.2,1288.7 695.0,1214.7 695.8,1171.0 696.6,1214.7 697.4,1288.7 698.2,1328.2 699.0,1338.1 699.8,1339.4 700.6,1339.5" fill="none" stroke="#e5998f" stroke-width="0.95" opacity="0.85"/><polyline points="694.0,1339.5 694.8,1339.4 695.6,1338.3 696.4,1329.6 697.2,1295.4 698.0,1230.9 698.8,1192.9 699.6,1230.9 700.4,1295.4 701.2,1329.6 702.0,1338.3 702.8,1339.4 703.6,1339.5" fill="none" stroke="#86c493" stroke-width="0.95" opacity="0.85"/><polyline points="697.5,1339.5 698.3,1339.4 699.1,1338.6 699.9,1332.4 700.7,1307.7 701.5,1261.4 702.3,1234.0 703.1,1261.4 703.9,1307.7 704.7,1332.4 705.5,1338.6 706.3,1339.4 707.1,1339.5" fill="none" stroke="#86c493" stroke-width="0.95" opacity="0.85"/><polyline points="701.5,1339.5 702.3,1339.4 703.1,1338.0 703.9,1327.5 704.7,1285.7 705.5,1207.3 706.3,1161.0 707.1,1207.3 707.9,1285.7 708.7,1327.5 709.5,1338.0 710.3,1339.4 711.1,1339.5" fill="none" stroke="#9494dc" stroke-width="0.95" opacity="0.85"/><polyline points="705.0,1339.5 705.8,1339.4 706.6,1337.9 707.4,1326.8 708.2,1282.4 709.0,1199.2 709.8,1150.0 710.6,1199.2 711.4,1282.4 712.2,1326.8 713.0,1337.9 713.8,1339.4 714.6,1339.5" fill="none" stroke="#5a5a5a" stroke-width="0.95" opacity="0.85"/><polyline points="708.6,1339.5 709.4,1339.4 710.2,1338.0 711.0,1327.0 711.8,1283.6 712.6,1202.0 713.4,1153.9 714.2,1202.0 715.0,1283.6 715.8,1327.0 716.6,1338.0 717.4,1339.4 718.2,1339.5" fill="none" stroke="#86c493" stroke-width="0.95" opacity="0.85"/><polyline points="712.5,1339.5 713.3,1339.4 714.1,1338.4 714.9,1330.3 715.7,1298.4 716.5,1238.5 717.3,1203.1 718.1,1238.5 718.9,1298.4 719.7,1330.3 720.5,1338.4 721.3,1339.4 722.1,1339.5" fill="none" stroke="#5a5a5a" stroke-width="0.95" opacity="0.85"/><polyline points="710.9,1339.5 711.7,1339.5 712.5,1338.9 713.3,1334.4 714.1,1316.7 714.9,1283.3 715.7,1263.7 716.5,1283.3 717.3,1316.7 718.1,1334.4 718.9,1338.9 719.7,1339.5 720.5,1339.5" fill="none" stroke="#86c493" stroke-width="0.95" opacity="0.6"/><polyline points="716.8,1339.5 717.6,1339.4 718.4,1338.1 719.2,1328.0 720.0,1287.8 720.8,1212.4 721.6,1167.9 722.4,1212.4 723.2,1287.8 724.0,1328.0 724.8,1338.1 725.6,1339.4 726.4,1339.5" fill="none" stroke="#5a5a5a" stroke-width="0.95" opacity="0.85"/><polyline points="717.5,1339.5 718.3,1339.5 719.1,1338.8 719.9,1333.9 720.7,1314.5 721.5,1278.1 722.3,1256.6 723.1,1278.1 723.9,1314.5 724.7,1333.9 725.5,1338.8 726.3,1339.5 727.1,1339.5" fill="none" stroke="#e5998f" stroke-width="0.95" opacity="0.6"/><polyline points="720.5,1339.5 721.3,1339.4 722.1,1338.3 722.9,1329.4 723.7,1294.3 724.5,1228.3 725.3,1189.4 726.1,1228.3 726.9,1294.3 727.7,1329.4 728.5,1338.3 729.3,1339.4 730.1,1339.5" fill="none" stroke="#86c493" stroke-width="0.95" opacity="0.85"/><polyline points="723.9,1339.5 724.7,1339.4 725.5,1338.3 726.3,1329.7 727.1,1295.5 727.9,1231.3 728.7,1193.4 729.5,1231.3 730.3,1295.5 731.1,1329.7 731.9,1338.3 732.7,1339.4 733.5,1339.5" fill="none" stroke="#86c493" stroke-width="0.95" opacity="0.85"/><polyline points="722.5,1339.5 723.3,1339.5 724.1,1338.8 724.9,1333.5 725.7,1312.6 726.5,1273.3 727.3,1250.1 728.1,1273.3 728.9,1312.6 729.7,1333.5 730.5,1338.8 731.3,1339.5 732.1,1339.5" fill="none" stroke="#5a5a5a" stroke-width="0.95" opacity="0.6"/><polyline points="727.8,1339.5 728.6,1339.4 729.4,1338.5 730.2,1331.2 731.0,1302.5 731.8,1248.4 732.6,1216.5 733.4,1248.4 734.2,1302.5 735.0,1331.2 735.8,1338.5 736.6,1339.4 737.4,1339.5" fill="none" stroke="#5a5a5a" stroke-width="0.95" opacity="0.85"/><polyline points="726.6,1339.5 727.4,1339.5 728.2,1338.9 729.0,1335.0 729.8,1319.3 730.6,1289.9 731.4,1272.5 732.2,1289.9 733.0,1319.3 733.8,1335.0 734.6,1338.9 735.4,1339.5 736.2,1339.5" fill="none" stroke="#9494dc" stroke-width="0.95" opacity="0.6"/><polyline points="731.6,1339.5 732.4,1339.4 733.2,1338.2 734.0,1328.5 734.8,1290.3 735.6,1218.6 736.4,1176.3 737.2,1218.6 738.0,1290.3 738.8,1328.5 739.6,1338.2 740.4,1339.4 741.2,1339.5" fill="none" stroke="#e5998f" stroke-width="0.95" opacity="0.85"/><polyline points="731.0,1339.5 731.8,1339.4 732.6,1338.7 733.4,1333.3 734.2,1311.7 735.0,1271.0 735.8,1247.1 736.6,1271.0 737.4,1311.7 738.2,1333.3 739.0,1338.7 739.8,1339.4 740.6,1339.5" fill="none" stroke="#86c493" stroke-width="0.95" opacity="0.6"/><polyline points="734.9,1339.5 735.7,1339.4 736.5,1338.0 737.3,1327.6 738.1,1286.1 738.9,1208.3 739.7,1162.4 740.5,1208.3 741.3,1286.1 742.1,1327.6 742.9,1338.0 743.7,1339.4 744.5,1339.5" fill="none" stroke="#5a5a5a" stroke-width="0.95" opacity="0.85"/><polyline points="738.1,1339.5 738.9,1339.4 739.7,1338.4 740.5,1330.4 741.3,1298.9 742.1,1239.7 742.9,1204.8 743.7,1239.7 744.5,1298.9 745.3,1330.4 746.1,1338.4 746.9,1339.4 747.7,1339.5" fill="none" stroke="#9494dc" stroke-width="0.95" opacity="0.85"/><polyline points="741.6,1339.5 742.4,1339.4 743.2,1338.6 744.0,1332.2 744.8,1306.6 745.6,1258.5 746.4,1230.2 747.2,1258.5 748.0,1306.6 748.8,1332.2 749.6,1338.6 750.4,1339.4 751.2,1339.5" fill="none" stroke="#9494dc" stroke-width="0.95" opacity="0.85"/><polyline points="742.3,1339.5 743.1,1339.5 743.9,1338.9 744.7,1334.5 745.5,1317.1 746.3,1284.4 747.1,1265.2 747.9,1284.4 748.7,1317.1 749.5,1334.5 750.3,1338.9 751.1,1339.5 751.9,1339.5" fill="none" stroke="#86c493" stroke-width="0.95" opacity="0.6"/><polyline points="745.0,1339.5 745.8,1339.4 746.6,1338.6 747.4,1332.3 748.2,1307.4 749.0,1260.5 749.8,1232.8 750.6,1260.5 751.4,1307.4 752.2,1332.3 753.0,1338.6 753.8,1339.4 754.6,1339.5" fill="none" stroke="#9494dc" stroke-width="0.95" opacity="0.85"/><polyline points="749.3,1339.5 750.1,1339.4 750.9,1338.4 751.7,1330.6 752.5,1299.6 753.3,1241.3 754.1,1206.9 754.9,1241.3 755.7,1299.6 756.5,1330.6 757.3,1338.4 758.1,1339.4 758.9,1339.5" fill="none" stroke="#5a5a5a" stroke-width="0.95" opacity="0.85"/><polyline points="753.2,1339.5 754.0,1339.4 754.8,1338.5 755.6,1331.1 756.4,1301.6 757.2,1246.4 758.0,1213.8 758.8,1246.4 759.6,1301.6 760.4,1331.1 761.2,1338.5 762.0,1339.4 762.8,1339.5" fill="none" stroke="#5a5a5a" stroke-width="0.95" opacity="0.85"/><polyline points="756.6,1339.5 757.4,1339.4 758.2,1338.2 759.0,1328.8 759.8,1291.4 760.6,1221.1 761.4,1179.7 762.2,1221.1 763.0,1291.4 763.8,1328.8 764.6,1338.2 765.4,1339.4 766.2,1339.5" fill="none" stroke="#86c493" stroke-width="0.95" opacity="0.85"/><polyline points="755.9,1339.5 756.7,1339.4 757.5,1338.7 758.3,1332.9 759.1,1309.8 759.9,1266.5 760.7,1241.0 761.5,1266.5 762.3,1309.8 763.1,1332.9 763.9,1338.7 764.7,1339.4 765.5,1339.5" fill="none" stroke="#e5998f" stroke-width="0.95" opacity="0.6"/><polyline points="759.6,1339.5 760.4,1339.4 761.2,1338.4 762.0,1330.6 762.8,1299.6 763.6,1241.3 764.4,1207.0 765.2,1241.3 766.0,1299.6 766.8,1330.6 767.6,1338.4 768.4,1339.4 769.2,1339.5" fill="none" stroke="#9494dc" stroke-width="0.95" opacity="0.85"/><polyline points="758.7,1339.5 759.5,1339.5 760.3,1339.1 761.1,1336.3 761.9,1325.3 762.7,1304.5 763.5,1292.3 764.3,1304.5 765.1,1325.3 765.9,1336.3 766.7,1339.1 767.5,1339.5 768.3,1339.5" fill="none" stroke="#e5998f" stroke-width="0.95" opacity="0.6"/><polyline points="762.7,1339.5 763.5,1339.4 764.3,1338.4 765.1,1330.4 765.9,1298.6 766.7,1239.0 767.5,1203.8 768.3,1239.0 769.1,1298.6 769.9,1330.4 770.7,1338.4 771.5,1339.4 772.3,1339.5" fill="none" stroke="#86c493" stroke-width="0.95" opacity="0.85"/><polyline points="766.6,1339.5 767.4,1339.4 768.2,1338.0 769.0,1327.2 769.8,1284.2 770.6,1203.6 771.4,1156.0 772.2,1203.6 773.0,1284.2 773.8,1327.2 774.6,1338.0 775.4,1339.4 776.2,1339.5" fill="none" stroke="#e5998f" stroke-width="0.95" opacity="0.85"/><polyline points="769.9,1339.5 770.7,1339.4 771.5,1338.5 772.3,1331.7 773.1,1304.7 773.9,1253.8 774.7,1223.9 775.5,1253.8 776.3,1304.7 777.1,1331.7 777.9,1338.5 778.7,1339.4 779.5,1339.5" fill="none" stroke="#5a5a5a" stroke-width="0.95" opacity="0.85"/><polyline points="773.9,1339.5 774.7,1339.4 775.5,1338.6 776.3,1332.3 777.1,1307.2 777.9,1260.0 778.7,1232.1 779.5,1260.0 780.3,1307.2 781.1,1332.3 781.9,1338.6 782.7,1339.4 783.5,1339.5" fill="none" stroke="#86c493" stroke-width="0.95" opacity="0.85"/><polyline points="774.1,1339.5 774.9,1339.5 775.7,1338.9 776.5,1334.6 777.3,1317.6 778.1,1285.5 778.9,1266.6 779.7,1285.5 780.5,1317.6 781.3,1334.6 782.1,1338.9 782.9,1339.5 783.7,1339.5" fill="none" stroke="#e5998f" stroke-width="0.95" opacity="0.6"/><polyline points="777.6,1339.5 778.4,1339.4 779.2,1338.5 780.0,1331.0 780.8,1301.4 781.6,1245.9 782.4,1213.2 783.2,1245.9 784.0,1301.4 784.8,1331.0 785.6,1338.5 786.4,1339.4 787.2,1339.5" fill="none" stroke="#9494dc" stroke-width="0.95" opacity="0.85"/><polyline points="781.9,1339.5 782.7,1339.4 783.5,1338.5 784.3,1331.0 785.1,1301.4 785.9,1245.8 786.7,1213.0 787.5,1245.8 788.3,1301.4 789.1,1331.0 789.9,1338.5 790.7,1339.4 791.5,1339.5" fill="none" stroke="#86c493" stroke-width="0.95" opacity="0.85"/><polyline points="785.4,1339.5 786.2,1339.4 787.0,1338.4 787.8,1330.8 788.6,1300.6 789.4,1243.8 790.2,1210.3 791.0,1243.8 791.8,1300.6 792.6,1330.8 793.4,1338.4 794.2,1339.4 795.0,1339.5" fill="none" stroke="#5a5a5a" stroke-width="0.95" opacity="0.85"/><polyline points="789.7,1339.5 790.5,1339.4 791.3,1338.4 792.1,1330.3 792.9,1298.4 793.7,1238.5 794.5,1203.1 795.3,1238.5 796.1,1298.4 796.9,1330.3 797.7,1338.4 798.5,1339.4 799.3,1339.5" fill="none" stroke="#5a5a5a" stroke-width="0.95" opacity="0.85"/><polyline points="793.4,1339.5 794.2,1339.4 795.0,1338.5 795.8,1331.0 796.6,1301.2 797.4,1245.3 798.2,1212.3 799.0,1245.3 799.8,1301.2 800.6,1331.0 801.4,1338.5 802.2,1339.4 803.0,1339.5" fill="none" stroke="#e5998f" stroke-width="0.95" opacity="0.85"/><polyline points="796.7,1339.5 797.5,1339.4 798.3,1338.6 799.1,1332.5 799.9,1308.2 800.7,1262.6 801.5,1235.7 802.3,1262.6 803.1,1308.2 803.9,1332.5 804.7,1338.6 805.5,1339.4 806.3,1339.5" fill="none" stroke="#86c493" stroke-width="0.95" opacity="0.85"/><polyline points="801.1,1339.5 801.9,1339.4 802.7,1338.4 803.5,1330.7 804.3,1300.2 805.1,1242.8 805.9,1209.0 806.7,1242.8 807.5,1300.2 808.3,1330.7 809.1,1338.4 809.9,1339.4 810.7,1339.5" fill="none" stroke="#e5998f" stroke-width="0.95" opacity="0.85"/><polyline points="804.5,1339.5 805.3,1339.4 806.1,1338.6 806.9,1331.9 807.7,1305.5 808.5,1255.9 809.3,1226.7 810.1,1255.9 810.9,1305.5 811.7,1331.9 812.5,1338.6 813.3,1339.4 814.1,1339.5" fill="none" stroke="#86c493" stroke-width="0.95" opacity="0.85"/><polyline points="804.0,1339.5 804.8,1339.5 805.6,1339.1 806.4,1335.9 807.2,1323.6 808.0,1300.3 808.8,1286.6 809.6,1300.3 810.4,1323.6 811.2,1335.9 812.0,1339.1 812.8,1339.5 813.6,1339.5" fill="none" stroke="#e5998f" stroke-width="0.95" opacity="0.6"/><polyline points="807.9,1339.5 808.7,1339.4 809.5,1338.7 810.3,1332.7 811.1,1309.2 811.9,1265.1 812.7,1239.1 813.5,1265.1 814.3,1309.2 815.1,1332.7 815.9,1338.7 816.7,1339.4 817.5,1339.5" fill="none" stroke="#86c493" stroke-width="0.95" opacity="0.85"/><polyline points="811.5,1339.5 812.3,1339.4 813.1,1338.7 813.9,1333.1 814.7,1310.8 815.5,1268.9 816.3,1244.1 817.1,1268.9 817.9,1310.8 818.7,1333.1 819.5,1338.7 820.3,1339.4 821.1,1339.5" fill="none" stroke="#86c493" stroke-width="0.95" opacity="0.85"/><polyline points="811.4,1339.5 812.2,1339.5 813.0,1339.0 813.8,1335.0 814.6,1319.4 815.4,1290.1 816.2,1272.8 817.0,1290.1 817.8,1319.4 818.6,1335.0 819.4,1339.0 820.2,1339.5 821.0,1339.5" fill="none" stroke="#9494dc" stroke-width="0.95" opacity="0.6"/><polyline points="815.8,1339.5 816.6,1339.4 817.4,1338.2 818.2,1328.9 819.0,1292.0 819.8,1222.7 820.6,1181.9 821.4,1222.7 822.2,1292.0 823.0,1328.9 823.8,1338.2 824.6,1339.4 825.4,1339.5" fill="none" stroke="#5a5a5a" stroke-width="0.95" opacity="0.85"/><polyline points="820.1,1339.5 820.9,1339.4 821.7,1338.3 822.5,1330.1 823.3,1297.4 824.1,1236.0 824.9,1199.7 825.7,1236.0 826.5,1297.4 827.3,1330.1 828.1,1338.3 828.9,1339.4 829.7,1339.5" fill="none" stroke="#86c493" stroke-width="0.95" opacity="0.85"/><polyline points="819.4,1339.5 820.2,1339.5 821.0,1338.8 821.8,1333.9 822.6,1314.6 823.4,1278.3 824.2,1256.8 825.0,1278.3 825.8,1314.6 826.6,1333.9 827.4,1338.8 828.2,1339.5 829.0,1339.5" fill="none" stroke="#5a5a5a" stroke-width="0.95" opacity="0.6"/><polyline points="824.0,1339.5 824.8,1339.4 825.6,1338.7 826.4,1332.6 827.2,1308.8 828.0,1264.0 828.8,1237.5 829.6,1264.0 830.4,1308.8 831.2,1332.6 832.0,1338.7 832.8,1339.4 833.6,1339.5" fill="none" stroke="#e5998f" stroke-width="0.95" opacity="0.85"/><polyline points="823.0,1339.5 823.8,1339.5 824.6,1339.0 825.4,1335.1 826.2,1319.8 827.0,1291.1 827.8,1274.2 828.6,1291.1 829.4,1319.8 830.2,1335.1 831.0,1339.0 831.8,1339.5 832.6,1339.5" fill="none" stroke="#5a5a5a" stroke-width="0.95" opacity="0.6"/><polyline points="828.4,1339.5 829.2,1339.4 830.0,1338.5 830.8,1331.4 831.6,1303.2 832.4,1250.1 833.2,1218.8 834.0,1250.1 834.8,1303.2 835.6,1331.4 836.4,1338.5 837.2,1339.4 838.0,1339.5" fill="none" stroke="#e5998f" stroke-width="0.95" opacity="0.85"/><polyline points="827.0,1339.5 827.8,1339.5 828.6,1339.2 829.4,1337.1 830.2,1328.5 831.0,1312.5 831.8,1303.1 832.6,1312.5 833.4,1328.5 834.2,1337.1 835.0,1339.2 835.8,1339.5 836.6,1339.5" fill="none" stroke="#5a5a5a" stroke-width="0.95" opacity="0.6"/><polyline points="831.9,1339.5 832.7,1339.4 833.5,1338.6 834.3,1331.8 835.1,1305.0 835.9,1254.7 836.7,1225.0 837.5,1254.7 838.3,1305.0 839.1,1331.8 839.9,1338.6 840.7,1339.4 841.5,1339.5" fill="none" stroke="#86c493" stroke-width="0.95" opacity="0.85"/><polyline points="830.5,1339.5 831.3,1339.5 832.1,1339.2 832.9,1336.9 833.7,1327.9 834.5,1310.9 835.3,1300.9 836.1,1310.9 836.9,1327.9 837.7,1336.9 838.5,1339.2 839.3,1339.5 840.1,1339.5" fill="none" stroke="#5a5a5a" stroke-width="0.95" opacity="0.6"/><polyline points="835.1,1339.5 835.9,1339.4 836.7,1338.6 837.5,1332.4 838.3,1307.8 839.1,1261.6 839.9,1234.4 840.7,1261.6 841.5,1307.8 842.3,1332.4 843.1,1338.6 843.9,1339.4 844.7,1339.5" fill="none" stroke="#5a5a5a" stroke-width="0.95" opacity="0.85"/><polyline points="839.4,1339.5 840.2,1339.4 841.0,1338.8 841.8,1333.4 842.6,1312.2 843.4,1272.4 844.2,1248.9 845.0,1272.4 845.8,1312.2 846.6,1333.4 847.4,1338.8 848.2,1339.4 849.0,1339.5" fill="none" stroke="#e5998f" stroke-width="0.95" opacity="0.85"/><polyline points="842.9,1339.5 843.7,1339.4 844.5,1338.6 845.3,1332.1 846.1,1306.5 846.9,1258.2 847.7,1229.8 848.5,1258.2 849.3,1306.5 850.1,1332.1 850.9,1338.6 851.7,1339.4 852.5,1339.5" fill="none" stroke="#5a5a5a" stroke-width="0.95" opacity="0.85"/><polyline points="843.3,1339.5 844.1,1339.5 844.9,1338.9 845.7,1334.6 846.5,1317.4 847.3,1285.0 848.1,1266.0 848.9,1285.0 849.7,1317.4 850.5,1334.6 851.3,1338.9 852.1,1339.5 852.9,1339.5" fill="none" stroke="#9494dc" stroke-width="0.95" opacity="0.6"/><polyline points="846.1,1339.5 846.9,1339.5 847.7,1338.9 848.5,1334.6 849.3,1317.6 850.1,1285.7 850.9,1266.9 851.7,1285.7 852.5,1317.6 853.3,1334.6 854.1,1338.9 854.9,1339.5 855.7,1339.5" fill="none" stroke="#86c493" stroke-width="0.95" opacity="0.85"/><polyline points="846.7,1339.5 847.5,1339.5 848.3,1339.2 849.1,1337.4 849.9,1330.1 850.7,1316.4 851.5,1308.4 852.3,1316.4 853.1,1330.1 853.9,1337.4 854.7,1339.2 855.5,1339.5 856.3,1339.5" fill="none" stroke="#9494dc" stroke-width="0.95" opacity="0.6"/></g>
<line x1="597.7" y1="1340.6" x2="853.5" y2="1340.6" stroke="#7a5a50" stroke-width="1.6" />
<polyline points="598.0,1336.3 599.2,1339.4 600.4,1335.6 601.6,1339.3 602.8,1336.9 604.0,1338.5 605.2,1338.8 606.4,1336.8 607.6,1337.4 608.8,1337.7 610.0,1337.5 611.2,1336.8 612.4,1339.0 613.6,1338.8 614.8,1336.2 616.0,1336.2 617.2,1336.8 618.4,1334.9 619.6,1336.3 620.8,1334.9 622.0,1338.6 623.2,1335.6 624.4,1335.1 625.6,1334.6 626.8,1338.1 628.0,1338.1 629.2,1334.5 630.4,1338.7 631.6,1334.0 632.8,1334.7 634.0,1339.2 635.2,1338.6 636.4,1335.6 637.6,1338.4 638.8,1339.4 640.0,1335.0 641.2,1337.5 642.4,1335.3 643.6,1339.2 644.8,1337.6 646.0,1335.9 647.2,1339.9 648.4,1338.8 649.6,1335.9 650.8,1334.5 652.0,1334.2 653.2,1339.3 654.4,1337.0 655.6,1335.5 656.8,1337.0 658.0,1335.9 659.2,1338.9 660.4,1339.6 661.6,1339.4 662.8,1339.8 664.0,1336.7 665.2,1336.9 666.4,1336.6 667.6,1339.1 668.8,1338.9 670.0,1338.8 671.2,1335.0 672.4,1334.1 673.6,1334.4 674.8,1339.4 676.0,1339.6 677.2,1334.3 678.4,1337.2 679.6,1335.4 680.8,1338.0 682.0,1337.2 683.2,1336.9 684.4,1337.4 685.6,1336.4 686.8,1339.9 688.0,1335.8 689.2,1334.9 690.4,1338.9 691.6,1337.3 692.8,1335.6 694.0,1337.6 695.2,1338.8 696.4,1339.0 697.6,1336.9 698.8,1339.9 700.0,1334.6 701.2,1335.2 702.4,1335.8 703.6,1334.8 704.8,1336.2 706.0,1337.6 707.2,1336.4 708.4,1337.0 709.6,1334.1 710.8,1335.2 712.0,1338.5 713.2,1334.5 714.4,1335.5 715.6,1335.3 716.8,1335.1 718.0,1337.6 719.2,1334.6 720.4,1334.7 721.6,1335.8 722.8,1335.4 724.0,1335.4 725.2,1337.6 726.4,1335.7 727.6,1339.6 728.8,1337.9 730.0,1337.2 731.2,1339.9 732.4,1337.9 733.6,1336.2 734.8,1336.3 736.0,1338.6 737.2,1334.3 738.4,1336.0 739.6,1338.0 740.8,1336.0 742.0,1336.6 743.2,1336.8 744.4,1337.7 745.6,1334.0 746.8,1336.1 748.0,1335.8 749.2,1335.4 750.4,1334.1 751.6,1339.9 752.8,1336.3 754.0,1335.6 755.2,1338.5 756.4,1337.6 757.6,1339.7 758.8,1338.8 760.0,1337.7 761.2,1339.4 762.4,1338.5 763.6,1334.6 764.8,1336.7 766.0,1337.0 767.2,1334.2 768.4,1336.6 769.6,1334.0 770.8,1336.2 772.0,1335.1 773.2,1339.5 774.4,1336.4 775.6,1335.4 776.8,1339.7 778.0,1334.4 779.2,1339.0 780.4,1337.2 781.6,1339.0 782.8,1337.0 784.0,1336.3 785.2,1339.6 786.4,1334.3 787.6,1337.5 788.8,1336.8 790.0,1336.4 791.2,1337.8 792.4,1338.3 793.6,1336.1 794.8,1336.6 796.0,1338.3 797.2,1335.7 798.4,1338.2 799.6,1339.9 800.8,1338.5 802.0,1339.7 803.2,1339.1 804.4,1335.5 805.6,1337.7 806.8,1334.6 808.0,1335.5 809.2,1339.7 810.4,1334.1 811.6,1334.3 812.8,1339.6 814.0,1334.6 815.2,1337.4 816.4,1337.1 817.6,1334.2 818.8,1338.5 820.0,1336.9 821.2,1334.4 822.4,1335.7 823.6,1337.2 824.8,1334.1 826.0,1335.1 827.2,1336.4 828.4,1339.3 829.6,1336.3 830.8,1337.3 832.0,1338.8 833.2,1339.7 834.4,1336.8 835.6,1339.3 836.8,1337.3 838.0,1336.0 839.2,1337.3 840.4,1338.4 841.6,1336.5 842.8,1337.5 844.0,1335.3 845.2,1336.8 846.4,1334.0 847.6,1334.3 848.8,1335.6 850.0,1338.6 851.2,1339.3 852.4,1334.6" fill="none" stroke="#b08070" stroke-width="0.8" />
<text x="796.0" y="796.5" font-size="50" stroke="#000" stroke-width="0.45">c</text>
<text x="967.3" y="813.4" font-size="28" fill="#6A3D94" stroke="#6A3D94" stroke-width="0.45">ATG</text>
<text x="1053.7" y="795.9" font-size="28" fill="#6A3D94" stroke="#6A3D94" stroke-width="0.45">RL</text>
<text x="1106.6" y="795.9" font-size="28" fill="#1B1B5E" stroke="#1B1B5E" stroke-width="0.45">uc</text>
<rect x="1057.5" y="806.3" width="88.5" height="23.8" fill="#1E6EBF" stroke="#4a86c8" stroke-width="1"/>
<text x="1174.8" y="813.4" font-size="28" fill="#6A3D94" stroke="#6A3D94" stroke-width="0.45">TAA</text>
<text x="905.9" y="898.3" font-size="28" fill="#1B1B5E" stroke="#1B1B5E" stroke-width="0.45">P1</text>
<text x="997.9" y="898.3" font-size="28" fill="#1B1B5E" stroke="#1B1B5E" stroke-width="0.45">uc</text>
<text x="1050.7" y="898.3" font-size="28" fill="#6A3D94" stroke="#6A3D94" stroke-width="0.45">TAA</text>
<text x="1167.3" y="898.3" font-size="28" fill="#6A3D94" stroke="#6A3D94" stroke-width="0.45">RL</text>
<text x="1250.0" y="898.3" font-size="28" stroke="#000" stroke-width="0.45">P2</text>
<rect x="905.0" y="922.5" width="20.0" height="7.5" fill="#000"/>
<polygon points="922.0,917.0 935.0,926.2 922.0,935.5" fill="#000" stroke="none" stroke-width="0" />
<rect x="934.6" y="918.0" width="55.8" height="18.6" fill="#fff" stroke="#E8C47A" stroke-width="1.6"/>
<polygon points="938.0,919.5 954.0,927.3 938.0,935.0" fill="#000" stroke="none" stroke-width="0" />
<polygon points="955.0,919.5 971.0,927.3 955.0,935.0" fill="#000" stroke="none" stroke-width="0" />
<polygon points="972.0,919.5 988.0,927.3 972.0,935.0" fill="#000" stroke="none" stroke-width="0" />
<rect x="992.3" y="914.3" width="88.2" height="24.9" fill="#1E6EBF" stroke="#4a86c8" stroke-width="1"/>
<polyline points="1080.5,925.2 1141.5,925.2 1141.5,978.0" fill="none" stroke="#000" stroke-width="2.6" />
<polygon points="1136.0,972.0 1147.0,972.0 1141.5,987.0" fill="#000" stroke="none" stroke-width="0" />
<rect x="1143.0" y="914.3" width="89.5" height="24.9" fill="#1E6EBF" stroke="#4a86c8" stroke-width="1"/>
<text x="1089.9" y="921.4" font-size="28" stroke="#000" stroke-width="0.45">MCS</text>
<rect x="1234.0" y="918.0" width="55.5" height="18.6" fill="#fff" stroke="#E8C47A" stroke-width="1.6"/>
<polygon points="1252.0,919.5 1236.0,927.3 1252.0,935.0" fill="#000" stroke="none" stroke-width="0" />
<polygon points="1268.0,919.5 1252.0,927.3 1268.0,935.0" fill="#000" stroke="none" stroke-width="0" />
<polygon points="1285.0,919.5 1269.0,927.3 1285.0,935.0" fill="#000" stroke="none" stroke-width="0" />
<text x="1302.5" y="937.4" font-size="28" stroke="#000" stroke-width="0.45">Luc</text>
<text x="1354.6" y="937.4" font-size="28" fill="#1B1B5E" stroke="#1B1B5E" stroke-width="0.45">Poly A</text>
<text x="902.9" y="975.4" font-size="28" fill="#6A3D94" stroke="#6A3D94" stroke-width="0.45">Up-Circular</text>
<text x="938.3" y="1010.0" font-size="28" fill="#6A3D94" stroke="#6A3D94" stroke-width="0.45">Frame</text>
<text x="1146.8" y="996.2" font-size="28" fill="#6A3D94" stroke="#6A3D94" stroke-width="0.45">ATG</text>
<text x="1254.8" y="975.4" font-size="28" fill="#6A3D94" stroke="#6A3D94" stroke-width="0.45">Down-Circular</text>
<text x="1308.8" y="1010.0" font-size="28" fill="#6A3D94" stroke="#6A3D94" stroke-width="0.45">Frame</text>
<rect x="1095.0" y="1036.0" width="14.5" height="40.0" fill="#888"/>
<polygon points="1081.7,1075.0 1120.8,1075.0 1101.2,1094.0" fill="#888" stroke="none" stroke-width="0" />
<text x="1126.4" y="1046.0" font-size="28" fill="#1B1B5E" stroke="#1B1B5E" stroke-width="0.45">Circular</text>
<text x="1133.8" y="1079.6" font-size="28" fill="#1B1B5E" stroke="#1B1B5E" stroke-width="0.45">splicing</text>
<text x="963.4" y="1129.0" font-size="28" fill="#6A3D94" stroke="#6A3D94" stroke-width="0.45">TAA</text>
<text x="1159.7" y="1132.7" font-size="28" fill="#6A3D94" stroke="#6A3D94" stroke-width="0.45">ATG</text>
<text x="1080.0" y="1162.2" font-size="28" stroke="#000" stroke-width="0.45">MCS</text>
<path d="M1137.8,1189.4 A99,99 0 1 1 1070.0,1189.4" fill="none" stroke="#3A8DBE" stroke-width="20" />
<path d="M1070.0,1189.4 A99,99 0 0 1 1137.8,1189.4" fill="none" stroke="#000" stroke-width="2.6" />
<path d="M990.7,1234.3 A123,123 0 0 1 1059.8,1167.6" fill="none" stroke="#D2606F" stroke-width="4" />
<path d="M1047.8,1160.6 L1061.8,1167.6 L1051.8,1177.6" fill="none" stroke="#D2606F" stroke-width="4" />
<path d="M1148.0,1167.6 A123,123 0 0 1 1217.1,1234.3" fill="none" stroke="#D2606F" stroke-width="4" />
<path d="M1205.1,1230.3 L1217.1,1236.3 L1220.1,1222.3" fill="none" stroke="#D2606F" stroke-width="4" />
<text x="994.0" y="1188.0" font-size="28" fill="#1B1B5E" stroke="#1B1B5E" stroke-width="0.45" text-anchor="middle" transform="rotate(-45 994.0 1188.0)">Stop</text>
<text x="1232.0" y="1202.0" font-size="28" fill="#1B1B5E" stroke="#1B1B5E" stroke-width="0.45" text-anchor="middle" transform="rotate(45 1232.0 1202.0)">Start</text>
<text x="944.4" y="1308.5" font-size="28" fill="#1B1B5E" stroke="#1B1B5E" stroke-width="0.45">uc</text>
<text x="1228.0" y="1308.5" font-size="28" fill="#1B1B5E" stroke="#1B1B5E" stroke-width="0.45">RL</text>
<text x="1025.7" y="1270.8" font-size="28" fill="#1B1B5E" stroke="#1B1B5E" stroke-width="0.45" textLength="138.0" lengthAdjust="spacingAndGlyphs">Circ-RLuc-</text>
<text x="1025.7" y="1305.4" font-size="28" fill="#1B1B5E" stroke="#1B1B5E" stroke-width="0.45" textLength="153.0" lengthAdjust="spacingAndGlyphs">IRES-report</text>
<text x="1476.0" y="791.3" font-size="28" stroke="#000" stroke-width="0.45" textLength="354.5" lengthAdjust="spacingAndGlyphs">Circ-E-Cad-IRES sequence</text>
<line x1="1891.8" y1="784.6" x2="2105.6" y2="784.6" stroke="#000" stroke-width="2.8" />
<rect x="1921.6" y="776.0" width="158.8" height="16.0" fill="#1E6EBF"/>
<text x="1970.0" y="768.0" font-size="28" stroke="#000" stroke-width="0.45">313</text>
<text x="1906.7" y="821.8" font-size="28" stroke="#000" stroke-width="0.45">307</text>
<text x="2066.6" y="821.8" font-size="28" stroke="#000" stroke-width="0.45">619</text>
<text x="1476.0" y="850.8" font-size="28" stroke="#000" stroke-width="0.45" textLength="211.0" lengthAdjust="spacingAndGlyphs">#1 Empty vector</text>
<text x="1476.0" y="907.3" font-size="28" stroke="#000" stroke-width="0.45" textLength="163.0" lengthAdjust="spacingAndGlyphs">#2 IRES-WT</text>
<rect x="1723.4" y="890.6" width="158.4" height="14.1" fill="#1E6EBF"/>
<text x="1710.7" y="886.0" font-size="28" stroke="#000" stroke-width="0.45">307</text>
<text x="1865.8" y="886.0" font-size="28" stroke="#000" stroke-width="0.45">619</text>
<text x="1476.0" y="965.7" font-size="28" stroke="#000" stroke-width="0.45" textLength="181.5" lengthAdjust="spacingAndGlyphs">#3 IRES-del-1</text>
<rect x="1762.8" y="948.3" width="48.0" height="15.6" fill="#1E6EBF"/>
<text x="1735.6" y="943.8" font-size="28" stroke="#000" stroke-width="0.45">307</text>
<text x="1809.3" y="943.8" font-size="28" stroke="#000" stroke-width="0.45">363</text>
<text x="1476.0" y="1029.3" font-size="28" stroke="#000" stroke-width="0.45" textLength="183.0" lengthAdjust="spacingAndGlyphs">#4 IRES-del-2</text>
<rect x="1819.3" y="1014.4" width="91.9" height="14.9" fill="#1E6EBF"/>
<text x="1792.2" y="1009.6" font-size="28" stroke="#000" stroke-width="0.45">363</text>
<text x="1908.6" y="1009.6" font-size="28" stroke="#000" stroke-width="0.45">619</text>
<text x="1476.0" y="1091.4" font-size="28" stroke="#000" stroke-width="0.45" textLength="179.5" lengthAdjust="spacingAndGlyphs">#5 IRES-HCV</text>
<rect x="1722.6" y="1077.7" width="181.1" height="14.8" fill="#1E6EBF"/>
<line x1="1554.0" y1="1128.7" x2="1554.0" y2="1413.5" stroke="#000" stroke-width="3" />
<line x1="1535.6" y1="1412.0" x2="1871.0" y2="1412.0" stroke="#000" stroke-width="3" />
<line x1="1535.6" y1="1128.7" x2="1554.0" y2="1128.7" stroke="#000" stroke-width="3" />
<line x1="1535.6" y1="1185.5" x2="1554.0" y2="1185.5" stroke="#000" stroke-width="3" />
<line x1="1535.6" y1="1242.4" x2="1554.0" y2="1242.4" stroke="#000" stroke-width="3" />
<line x1="1535.6" y1="1299.0" x2="1554.0" y2="1299.0" stroke="#000" stroke-width="3" />
<line x1="1535.6" y1="1355.7" x2="1554.0" y2="1355.7" stroke="#000" stroke-width="3" />
<text x="1515.7" y="1136.4" font-size="25" stroke="#000" stroke-width="0.45" text-anchor="end">2.0</text>
<text x="1515.7" y="1308.6" font-size="25" stroke="#000" stroke-width="0.45" text-anchor="end">1.0</text>
<text x="1515.7" y="1421.6" font-size="25" stroke="#000" stroke-width="0.45" text-anchor="end">0.0</text>
<text x="1458.0" y="1261.7" font-size="27" stroke="#000" stroke-width="0.45" text-anchor="middle" textLength="239.0" lengthAdjust="spacingAndGlyphs" transform="rotate(-90 1458.0 1261.7)">Relative Luc activity</text>
<rect x="1633.6" y="1316.3" width="39.1" height="95.7" fill="#3A8FBF" stroke="#000" stroke-width="2.8"/>
<line x1="1653.2" y1="1306.7" x2="1653.2" y2="1325.9" stroke="#000" stroke-width="2.6" />
<line x1="1643.2" y1="1306.7" x2="1663.2" y2="1306.7" stroke="#000" stroke-width="2.6" />
<line x1="1643.2" y1="1325.9" x2="1663.2" y2="1325.9" stroke="#000" stroke-width="2.6" />
<ellipse cx="1640.2" cy="1329.9" rx="4" ry="3" fill="#000"/>
<ellipse cx="1653.2" cy="1306.7" rx="4" ry="3" fill="#000"/>
<ellipse cx="1666.2" cy="1318.3" rx="4" ry="3" fill="#000"/>
<text x="1653.2" y="1285.0" font-size="27" stroke="#000" stroke-width="0.45" text-anchor="middle">***</text>
<rect x="1692.6" y="1392.0" width="39.4" height="20.0" fill="#D9707E" stroke="#000" stroke-width="2.8"/>
<line x1="1712.3" y1="1386.4" x2="1712.3" y2="1396.7" stroke="#000" stroke-width="2.6" />
<line x1="1702.3" y1="1386.4" x2="1722.3" y2="1386.4" stroke="#000" stroke-width="2.6" />
<line x1="1702.3" y1="1396.7" x2="1722.3" y2="1396.7" stroke="#000" stroke-width="2.6" />
<ellipse cx="1699.3" cy="1400.7" rx="4" ry="3" fill="#000"/>
<ellipse cx="1712.3" cy="1386.4" rx="4" ry="3" fill="#000"/>
<ellipse cx="1725.3" cy="1394.0" rx="4" ry="3" fill="#000"/>
<text x="1712.3" y="1379.0" font-size="27" stroke="#000" stroke-width="0.45" text-anchor="middle">***</text>
<rect x="1751.0" y="1355.7" width="39.6" height="56.3" fill="#F5C05A" stroke="#000" stroke-width="2.8"/>
<line x1="1770.8" y1="1347.0" x2="1770.8" y2="1365.0" stroke="#000" stroke-width="2.6" />
<line x1="1760.8" y1="1347.0" x2="1780.8" y2="1347.0" stroke="#000" stroke-width="2.6" />
<line x1="1760.8" y1="1365.0" x2="1780.8" y2="1365.0" stroke="#000" stroke-width="2.6" />
<ellipse cx="1757.8" cy="1369.0" rx="4" ry="3" fill="#000"/>
<ellipse cx="1770.8" cy="1347.0" rx="4" ry="3" fill="#000"/>
<ellipse cx="1783.8" cy="1357.7" rx="4" ry="3" fill="#000"/>
<text x="1770.8" y="1342.0" font-size="27" stroke="#000" stroke-width="0.45" text-anchor="middle">***</text>
<rect x="1810.5" y="1170.8" width="39.5" height="241.2" fill="#5FAF80" stroke="#000" stroke-width="2.8"/>
<line x1="1830.2" y1="1159.3" x2="1830.2" y2="1183.5" stroke="#000" stroke-width="2.6" />
<line x1="1820.2" y1="1159.3" x2="1840.2" y2="1159.3" stroke="#000" stroke-width="2.6" />
<line x1="1820.2" y1="1183.5" x2="1840.2" y2="1183.5" stroke="#000" stroke-width="2.6" />
<ellipse cx="1817.2" cy="1187.5" rx="4" ry="3" fill="#000"/>
<ellipse cx="1830.2" cy="1159.3" rx="4" ry="3" fill="#000"/>
<ellipse cx="1843.2" cy="1172.8" rx="4" ry="3" fill="#000"/>
<text x="1830.2" y="1159.0" font-size="27" stroke="#000" stroke-width="0.45" text-anchor="middle">***</text>
<ellipse cx="1579" cy="1411" rx="4" ry="2.5" fill="#000"/>
<ellipse cx="1594" cy="1411" rx="4" ry="2.5" fill="#000"/>
<ellipse cx="1608" cy="1411" rx="4" ry="2.5" fill="#000"/>
<rect x="1879.4" y="1158.3" width="49.0" height="12.0" fill="#000" stroke="#000" stroke-width="1.2"/>
<text x="1944.5" y="1170.8" font-size="27.5" stroke="#000" stroke-width="0.45">Empty Vector</text>
<rect x="1879.4" y="1206.0" width="49.0" height="10.0" fill="#D9707E" stroke="#000" stroke-width="1.2"/>
<text x="1944.5" y="1225.6" font-size="27.5" stroke="#000" stroke-width="0.45">IRES-WT</text>
<rect x="1879.4" y="1258.9" width="49.0" height="10.0" fill="#F5C05A" stroke="#000" stroke-width="1.2"/>
<text x="1944.5" y="1274.0" font-size="27.5" stroke="#000" stroke-width="0.45">IRES-del-1</text>
<rect x="1879.4" y="1311.3" width="49.0" height="10.0" fill="#3A8FBF" stroke="#000" stroke-width="1.2"/>
<text x="1944.5" y="1327.8" font-size="27.5" stroke="#000" stroke-width="0.45">IRES-del-2</text>
<rect x="1879.4" y="1363.7" width="49.0" height="10.0" fill="#5FAF80" stroke="#000" stroke-width="1.2"/>
<text x="1944.5" y="1382.0" font-size="27.5" stroke="#000" stroke-width="0.45">IRES-HCV</text>
<text x="2.3" y="1463.3" font-size="50" stroke="#000" stroke-width="0.45">d</text>
<text x="2.0" y="1520.4" font-size="28" stroke="#000" stroke-width="0.45" textLength="170.0" lengthAdjust="spacingAndGlyphs">Rec C-E-Cad</text>
<text x="190.5" y="1520.4" font-size="28" stroke="#000" stroke-width="0.45">5</text>
<text x="224.0" y="1520.4" font-size="28" stroke="#000" stroke-width="0.45">1</text>
<rect x="148.7" y="1525.4" width="106.3" height="187.8" fill="#cbdaee"/>
<rect x="148.7" y="1600" width="106.3" height="113.2" fill="url(#cgr)"/>
<ellipse cx="166" cy="1534.3" rx="8" ry="2.4" fill="#4a7cc8" opacity="0.35" filter="url(#bl15)"/>
<ellipse cx="166" cy="1540.4" rx="8" ry="2.4" fill="#4a7cc8" opacity="0.45" filter="url(#bl15)"/>
<ellipse cx="166" cy="1551.6" rx="8" ry="2.4" fill="#4a7cc8" opacity="0.7" filter="url(#bl15)"/>
<ellipse cx="166" cy="1562.8" rx="8" ry="2.4" fill="#4a7cc8" opacity="0.95" filter="url(#bl15)"/>
<ellipse cx="166" cy="1580.1" rx="8" ry="2.4" fill="#4a7cc8" opacity="0.7" filter="url(#bl15)"/>
<ellipse cx="166" cy="1597.9" rx="8" ry="2.4" fill="#4a7cc8" opacity="0.55" filter="url(#bl15)"/>
<ellipse cx="166" cy="1621.8" rx="8" ry="2.4" fill="#4a7cc8" opacity="0.65" filter="url(#bl15)"/>
<ellipse cx="166" cy="1646.2" rx="8" ry="2.4" fill="#4a7cc8" opacity="0.45" filter="url(#bl15)"/>
<ellipse cx="166" cy="1692.5" rx="8" ry="2.4" fill="#4a7cc8" opacity="0.6" filter="url(#bl15)"/>
<rect x="185" y="1625" width="25" height="18" rx="5" fill="#3b8fe0" filter="url(#bl25)"/>
<rect x="185" y="1640" width="25" height="27" rx="6" fill="#1d4cb2" filter="url(#bl25)"/>
<rect x="213" y="1627" width="27" height="16" rx="5" fill="#5fa6ea" filter="url(#bl25)"/>
<rect x="213" y="1640" width="27" height="26" rx="6" fill="#2a6ccc" filter="url(#bl25)"/>
<text x="403.3" y="1469.0" font-size="28" stroke="#000" stroke-width="0.45" textLength="154.5" lengthAdjust="spacingAndGlyphs">IB: C-E-Cad</text>
<text x="393.0" y="1512.0" font-size="28" stroke="#000" stroke-width="0.45">5</text>
<text x="425.5" y="1512.0" font-size="28" stroke="#000" stroke-width="0.45">1</text>
<text x="500.2" y="1512.0" font-size="28" stroke="#000" stroke-width="0.45">5</text>
<text x="544.3" y="1512.0" font-size="28" stroke="#000" stroke-width="0.45">1</text>
<text x="578.8" y="1506.0" font-size="28" stroke="#000" stroke-width="0.45">μg</text>
<text x="578.8" y="1535.8" font-size="28" stroke="#000" stroke-width="0.45">kDa</text>
<rect x="373.7" y="1522.7" width="72.9" height="184.8" fill="#b6b6b6"/>
<rect x="381" y="1639.5" width="31" height="4.5" rx="2" fill="#0a0a0a" filter="url(#blur1)"/>
<rect x="416" y="1640" width="28" height="3" rx="1.5" fill="#333" filter="url(#blur1)"/>
<rect x="491.8" y="1521.6" width="71.7" height="185.1" fill="#b1b1b1"/>
<line x1="578.0" y1="1646.0" x2="584.6" y2="1646.0" stroke="#000" stroke-width="1.6" />
<text x="590.0" y="1650.7" font-size="28" stroke="#000" stroke-width="0.45">25</text>
<text x="405.6" y="1768.0" font-size="28" stroke="#000" stroke-width="0.45">+BL peptide</text>
<text x="409.4" y="1808.2" font-size="28" stroke="#000" stroke-width="0.45">+BL peptide</text>
<text x="146.4" y="1808.2" font-size="28" stroke="#000" stroke-width="0.45">C-E-Cad</text>
<rect x="105.4" y="1815.8" width="219.3" height="149.5" fill="#c48a70"/>
<rect x="105.4" y="1815.8" width="219.3" height="149.5" fill="#fff" filter="url(#ihcP)" opacity="0.45"/>
<rect x="105.4" y="1815.8" width="219.3" height="149.5" fill="#fff" filter="url(#ihcA)" opacity="0.55"/>
<rect x="105.4" y="1815.8" width="219.3" height="149.5" fill="#fff" filter="url(#ihcB)" opacity="0.4"/>
<rect x="105.4" y="1815.8" width="219.3" height="149.5" fill="#fff" filter="url(#ihcC)" opacity="0.7"/>
<g clip-path="url(#ihcclip)"><ellipse cx="112" cy="1958" rx="30" ry="26" fill="url(#ihcL1)"/><ellipse cx="125" cy="1872" rx="26" ry="16" fill="url(#ihcL1)"/><ellipse cx="300" cy="1858" rx="24" ry="22" fill="url(#ihcL1)"/></g>
<rect x="293.0" y="1957.7" width="23.0" height="3.2" fill="#000"/>
<rect x="384.5" y="1815.8" width="217.3" height="149.5" fill="#b6bfce"/>
<rect x="384.5" y="1815.8" width="217.3" height="149.5" fill="#fff" filter="url(#ihcF)" opacity="0.4"/>
<rect x="384.5" y="1815.8" width="217.3" height="149.5" fill="#fff" filter="url(#ihcD)" opacity="0.6"/>
<rect x="384.5" y="1815.8" width="217.3" height="149.5" fill="#fff" filter="url(#ihcE)" opacity="0.55"/>
<rect x="573.0" y="1957.7" width="23.0" height="3.2" fill="#000"/>
<text x="699.2" y="1463.5" font-size="50" stroke="#000" stroke-width="0.45">e</text>
<text x="888.2" y="1466.5" font-size="29" stroke="#000" stroke-width="0.45" textLength="98.0" lengthAdjust="spacingAndGlyphs">EQKIT</text>
<text x="986.5" y="1466.5" font-size="29" fill="#D42020" stroke="#D42020" stroke-width="0.45" textLength="112.3" lengthAdjust="spacingAndGlyphs">NLCDGG</text>
<text x="1357.0" y="1467.6" font-size="29" fill="#D42020" stroke="#D42020" stroke-width="0.45" textLength="195.2" lengthAdjust="spacingAndGlyphs">ITNLCDGGH</text>
<text x="1829.7" y="1467.6" font-size="29" stroke="#000" stroke-width="0.45" textLength="146.1" lengthAdjust="spacingAndGlyphs">TFMEQKIT</text>
<text x="1975.8" y="1467.6" font-size="29" fill="#D42020" stroke="#D42020" stroke-width="0.45" textLength="57.2" lengthAdjust="spacingAndGlyphs">NLC</text>
<rect x="803.0" y="1525.7" width="384.9" height="169.5" fill="#fff" stroke="#222" stroke-width="2.8"/>
<line x1="822.7" y1="1542.0" x2="822.7" y2="1674.3" stroke="#444" stroke-width="0.9" />
<line x1="822.7" y1="1674.3" x2="1184.0" y2="1674.3" stroke="#444" stroke-width="0.9" />
<line x1="819.7" y1="1674.3" x2="822.7" y2="1674.3" stroke="#444" stroke-width="0.8" />
<text x="817.7" y="1675.8" font-size="4.5" fill="#444" text-anchor="end">0</text>
<line x1="819.7" y1="1661.1" x2="822.7" y2="1661.1" stroke="#444" stroke-width="0.8" />
<text x="817.7" y="1662.6" font-size="4.5" fill="#444" text-anchor="end">10</text>
<line x1="819.7" y1="1647.8" x2="822.7" y2="1647.8" stroke="#444" stroke-width="0.8" />
<text x="817.7" y="1649.3" font-size="4.5" fill="#444" text-anchor="end">20</text>
<line x1="819.7" y1="1634.6" x2="822.7" y2="1634.6" stroke="#444" stroke-width="0.8" />
<text x="817.7" y="1636.1" font-size="4.5" fill="#444" text-anchor="end">30</text>
<line x1="819.7" y1="1621.4" x2="822.7" y2="1621.4" stroke="#444" stroke-width="0.8" />
<text x="817.7" y="1622.9" font-size="4.5" fill="#444" text-anchor="end">40</text>
<line x1="819.7" y1="1608.2" x2="822.7" y2="1608.2" stroke="#444" stroke-width="0.8" />
<text x="817.7" y="1609.7" font-size="4.5" fill="#444" text-anchor="end">50</text>
<line x1="819.7" y1="1594.9" x2="822.7" y2="1594.9" stroke="#444" stroke-width="0.8" />
<text x="817.7" y="1596.4" font-size="4.5" fill="#444" text-anchor="end">60</text>
<line x1="819.7" y1="1581.7" x2="822.7" y2="1581.7" stroke="#444" stroke-width="0.8" />
<text x="817.7" y="1583.2" font-size="4.5" fill="#444" text-anchor="end">70</text>
<line x1="819.7" y1="1568.5" x2="822.7" y2="1568.5" stroke="#444" stroke-width="0.8" />
<text x="817.7" y="1570.0" font-size="4.5" fill="#444" text-anchor="end">80</text>
<line x1="819.7" y1="1555.2" x2="822.7" y2="1555.2" stroke="#444" stroke-width="0.8" />
<text x="817.7" y="1556.7" font-size="4.5" fill="#444" text-anchor="end">90</text>
<line x1="819.7" y1="1542.0" x2="822.7" y2="1542.0" stroke="#444" stroke-width="0.8" />
<text x="817.7" y="1543.5" font-size="4.5" fill="#444" text-anchor="end">100</text>
<line x1="822.7" y1="1674.3" x2="822.7" y2="1677.3" stroke="#444" stroke-width="0.8" />
<text x="822.7" y="1683.3" font-size="4.5" fill="#444" text-anchor="middle">200</text>
<line x1="862.8" y1="1674.3" x2="862.8" y2="1677.3" stroke="#444" stroke-width="0.8" />
<line x1="903.0" y1="1674.3" x2="903.0" y2="1677.3" stroke="#444" stroke-width="0.8" />
<text x="903.0" y="1683.3" font-size="4.5" fill="#444" text-anchor="middle">400</text>
<line x1="943.1" y1="1674.3" x2="943.1" y2="1677.3" stroke="#444" stroke-width="0.8" />
<line x1="983.3" y1="1674.3" x2="983.3" y2="1677.3" stroke="#444" stroke-width="0.8" />
<text x="983.3" y="1683.3" font-size="4.5" fill="#444" text-anchor="middle">600</text>
<line x1="1023.4" y1="1674.3" x2="1023.4" y2="1677.3" stroke="#444" stroke-width="0.8" />
<line x1="1063.6" y1="1674.3" x2="1063.6" y2="1677.3" stroke="#444" stroke-width="0.8" />
<text x="1063.6" y="1683.3" font-size="4.5" fill="#444" text-anchor="middle">800</text>
<line x1="1103.7" y1="1674.3" x2="1103.7" y2="1677.3" stroke="#444" stroke-width="0.8" />
<line x1="1143.9" y1="1674.3" x2="1143.9" y2="1677.3" stroke="#444" stroke-width="0.8" />
<text x="1143.9" y="1683.3" font-size="4.5" fill="#444" text-anchor="middle">1000</text>
<line x1="1184.0" y1="1674.3" x2="1184.0" y2="1677.3" stroke="#444" stroke-width="0.8" />
<text x="831.0" y="1536.7" font-size="5" fill="#3a5fc0">FileID Spectrum# scan 2305</text>
<text x="903.0" y="1536.7" font-size="5" fill="#3a5fc0">Seq: EQKITNLCDGG</text>
<text x="1003.4" y="1687.2" font-size="5" fill="#333" text-anchor="middle">m/z</text>
<text x="815.0" y="1608.2" font-size="4.5" fill="#444" transform="rotate(-90 815.0 1608.2)" text-anchor="middle">Relative Intensity (%)</text>
<path d="M858.9,1674.3V1653.4M994.2,1674.3V1672.4M936.5,1674.3V1668.4M970.1,1674.3V1656.2M850.2,1674.3V1674.3M1009.7,1674.3V1668.8M993.9,1674.3V1674.3M925.8,1674.3V1659.1M879.2,1674.3V1648.3M1023.8,1674.3V1674.3M835.5,1674.3V1665.8M1031.9,1674.3V1670.1M876.6,1674.3V1669.1M836.2,1674.3V1672.9M924.1,1674.3V1667.1M880.1,1674.3V1672.7M877.0,1674.3V1668.2M892.3,1674.3V1674.3M1010.1,1674.3V1665.3M968.1,1674.3V1673.3M1175.4,1674.3V1665.2M869.2,1674.3V1670.8M1080.2,1674.3V1666.8M1155.7,1674.3V1669.8M1118.3,1674.3V1667.2" stroke="#555" stroke-width="0.9" fill="none"/>
<line x1="839.7" y1="1674.3" x2="839.7" y2="1653.1" stroke="#333" stroke-width="1.0" />
<line x1="850.3" y1="1674.3" x2="850.3" y2="1546.0" stroke="#333" stroke-width="1.0" />
<line x1="852.3" y1="1674.3" x2="852.3" y2="1654.5" stroke="#333" stroke-width="1.0" />
<line x1="864.5" y1="1674.3" x2="864.5" y2="1589.6" stroke="#333" stroke-width="1.0" />
<line x1="876.0" y1="1674.3" x2="876.0" y2="1661.1" stroke="#333" stroke-width="1.0" />
<line x1="887.0" y1="1674.3" x2="887.0" y2="1587.0" stroke="#2f9a4a" stroke-width="1.0" />
<path d="M890.0,1589.0v39.3" stroke="#2f9a4a" stroke-width="1.2" stroke-dasharray="1.4 1.4" fill="none" opacity="0.8"/>
<line x1="888.2" y1="1674.3" x2="888.2" y2="1645.2" stroke="#333" stroke-width="1.0" />
<line x1="893.0" y1="1674.3" x2="893.0" y2="1661.1" stroke="#333" stroke-width="1.0" />
<line x1="896.0" y1="1674.3" x2="896.0" y2="1658.4" stroke="#333" stroke-width="1.0" />
<line x1="901.6" y1="1674.3" x2="901.6" y2="1653.1" stroke="#333" stroke-width="1.0" />
<line x1="911.5" y1="1674.3" x2="911.5" y2="1646.5" stroke="#333" stroke-width="1.0" />
<line x1="944.0" y1="1674.3" x2="944.0" y2="1667.7" stroke="#333" stroke-width="1.0" />
<line x1="949.0" y1="1674.3" x2="949.0" y2="1658.4" stroke="#333" stroke-width="1.0" />
<line x1="972.0" y1="1674.3" x2="972.0" y2="1659.7" stroke="#333" stroke-width="1.0" />
<line x1="995.5" y1="1674.3" x2="995.5" y2="1657.1" stroke="#333" stroke-width="1.0" />
<line x1="1006.5" y1="1674.3" x2="1006.5" y2="1549.9" stroke="#333" stroke-width="1.0" />
<line x1="1018.3" y1="1674.3" x2="1018.3" y2="1625.3" stroke="#333" stroke-width="1.0" />
<line x1="1025.0" y1="1674.3" x2="1025.0" y2="1629.3" stroke="#2f9a4a" stroke-width="1.0" />
<path d="M1028.0,1631.3v20.2" stroke="#2f9a4a" stroke-width="1.2" stroke-dasharray="1.4 1.4" fill="none" opacity="0.8"/>
<line x1="1042.8" y1="1674.3" x2="1042.8" y2="1667.7" stroke="#333" stroke-width="1.0" />
<line x1="1136.0" y1="1674.3" x2="1136.0" y2="1667.7" stroke="#333" stroke-width="1.0" />
<line x1="1161.9" y1="1674.3" x2="1161.9" y2="1655.8" stroke="#333" stroke-width="1.0" />
<line x1="920.0" y1="1674.3" x2="920.0" y2="1670.3" stroke="#333" stroke-width="1.0" />
<line x1="958.0" y1="1674.3" x2="958.0" y2="1670.3" stroke="#333" stroke-width="1.0" />
<line x1="965.0" y1="1674.3" x2="965.0" y2="1669.0" stroke="#333" stroke-width="1.0" />
<line x1="1010.0" y1="1674.3" x2="1010.0" y2="1667.7" stroke="#333" stroke-width="1.0" />
<line x1="1030.0" y1="1674.3" x2="1030.0" y2="1667.7" stroke="#333" stroke-width="1.0" />
<text x="1013.0" y="1560.0" font-size="9" fill="#222" textLength="122.4" lengthAdjust="spacing">E Q K I T N L C D G G</text>
<text x="1005.3" y="1547.0" font-size="7.5" fill="#2a3fb0" font-weight="bold">2+</text>
<text x="1025.0" y="1570.0" font-size="5" fill="#2f9a4a">b3</text>
<text x="1039.0" y="1570.0" font-size="5" fill="#2f9a4a">b4</text>
<text x="1073.0" y="1570.0" font-size="5" fill="#2f9a4a">b5</text>
<rect x="1268.0" y="1524.7" width="381.8" height="170.3" fill="#fff" stroke="#555" stroke-width="1.6"/>
<line x1="1288.0" y1="1550.9" x2="1288.0" y2="1675.6" stroke="#444" stroke-width="0.9" />
<line x1="1288.0" y1="1675.6" x2="1645.0" y2="1675.6" stroke="#444" stroke-width="0.9" />
<line x1="1285.0" y1="1675.6" x2="1288.0" y2="1675.6" stroke="#444" stroke-width="0.8" />
<text x="1283.0" y="1677.1" font-size="4.5" fill="#444" text-anchor="end">0</text>
<line x1="1285.0" y1="1663.1" x2="1288.0" y2="1663.1" stroke="#444" stroke-width="0.8" />
<text x="1283.0" y="1664.6" font-size="4.5" fill="#444" text-anchor="end">10</text>
<line x1="1285.0" y1="1650.7" x2="1288.0" y2="1650.7" stroke="#444" stroke-width="0.8" />
<text x="1283.0" y="1652.2" font-size="4.5" fill="#444" text-anchor="end">20</text>
<line x1="1285.0" y1="1638.2" x2="1288.0" y2="1638.2" stroke="#444" stroke-width="0.8" />
<text x="1283.0" y="1639.7" font-size="4.5" fill="#444" text-anchor="end">30</text>
<line x1="1285.0" y1="1625.7" x2="1288.0" y2="1625.7" stroke="#444" stroke-width="0.8" />
<text x="1283.0" y="1627.2" font-size="4.5" fill="#444" text-anchor="end">40</text>
<line x1="1285.0" y1="1613.2" x2="1288.0" y2="1613.2" stroke="#444" stroke-width="0.8" />
<text x="1283.0" y="1614.8" font-size="4.5" fill="#444" text-anchor="end">50</text>
<line x1="1285.0" y1="1600.8" x2="1288.0" y2="1600.8" stroke="#444" stroke-width="0.8" />
<text x="1283.0" y="1602.3" font-size="4.5" fill="#444" text-anchor="end">60</text>
<line x1="1285.0" y1="1588.3" x2="1288.0" y2="1588.3" stroke="#444" stroke-width="0.8" />
<text x="1283.0" y="1589.8" font-size="4.5" fill="#444" text-anchor="end">70</text>
<line x1="1285.0" y1="1575.8" x2="1288.0" y2="1575.8" stroke="#444" stroke-width="0.8" />
<text x="1283.0" y="1577.3" font-size="4.5" fill="#444" text-anchor="end">80</text>
<line x1="1285.0" y1="1563.4" x2="1288.0" y2="1563.4" stroke="#444" stroke-width="0.8" />
<text x="1283.0" y="1564.9" font-size="4.5" fill="#444" text-anchor="end">90</text>
<line x1="1285.0" y1="1550.9" x2="1288.0" y2="1550.9" stroke="#444" stroke-width="0.8" />
<text x="1283.0" y="1552.4" font-size="4.5" fill="#444" text-anchor="end">100</text>
<line x1="1288.0" y1="1675.6" x2="1288.0" y2="1678.6" stroke="#444" stroke-width="0.8" />
<text x="1288.0" y="1684.6" font-size="4.5" fill="#444" text-anchor="middle">200</text>
<line x1="1327.7" y1="1675.6" x2="1327.7" y2="1678.6" stroke="#444" stroke-width="0.8" />
<line x1="1367.3" y1="1675.6" x2="1367.3" y2="1678.6" stroke="#444" stroke-width="0.8" />
<text x="1367.3" y="1684.6" font-size="4.5" fill="#444" text-anchor="middle">400</text>
<line x1="1407.0" y1="1675.6" x2="1407.0" y2="1678.6" stroke="#444" stroke-width="0.8" />
<line x1="1446.7" y1="1675.6" x2="1446.7" y2="1678.6" stroke="#444" stroke-width="0.8" />
<text x="1446.7" y="1684.6" font-size="4.5" fill="#444" text-anchor="middle">600</text>
<line x1="1486.3" y1="1675.6" x2="1486.3" y2="1678.6" stroke="#444" stroke-width="0.8" />
<line x1="1526.0" y1="1675.6" x2="1526.0" y2="1678.6" stroke="#444" stroke-width="0.8" />
<text x="1526.0" y="1684.6" font-size="4.5" fill="#444" text-anchor="middle">800</text>
<line x1="1565.7" y1="1675.6" x2="1565.7" y2="1678.6" stroke="#444" stroke-width="0.8" />
<line x1="1605.3" y1="1675.6" x2="1605.3" y2="1678.6" stroke="#444" stroke-width="0.8" />
<text x="1605.3" y="1684.6" font-size="4.5" fill="#444" text-anchor="middle">1000</text>
<line x1="1645.0" y1="1675.6" x2="1645.0" y2="1678.6" stroke="#444" stroke-width="0.8" />
<text x="1296.0" y="1535.7" font-size="5" fill="#3a5fc0">FileID Spectrum# scan 2305</text>
<text x="1368.0" y="1535.7" font-size="5" fill="#3a5fc0">Seq: ITNLCDGGHSHRR</text>
<text x="1466.5" y="1687.0" font-size="5" fill="#333" text-anchor="middle">m/z</text>
<text x="1280.0" y="1613.2" font-size="4.5" fill="#444" transform="rotate(-90 1280.0 1613.2)" text-anchor="middle">Relative Intensity (%)</text>
<path d="M1623.7,1675.6V1651.0M1311.6,1675.6V1675.4M1581.9,1675.6V1660.7M1524.4,1675.6V1673.0M1502.3,1675.6V1665.5M1493.7,1675.6V1674.9M1441.4,1675.6V1671.4M1542.9,1675.6V1648.4M1621.4,1675.6V1667.5M1446.4,1675.6V1673.6M1304.5,1675.6V1675.6M1453.3,1675.6V1672.8M1423.9,1675.6V1653.8M1474.4,1675.6V1667.0M1373.9,1675.6V1675.6M1404.8,1675.6V1675.1M1469.0,1675.6V1648.2M1526.0,1675.6V1674.7M1602.1,1675.6V1667.7M1546.8,1675.6V1666.6M1556.7,1675.6V1667.7M1414.8,1675.6V1665.8M1625.8,1675.6V1674.0M1553.6,1675.6V1668.5M1452.1,1675.6V1670.3M1462.0,1675.6V1666.4M1465.8,1675.6V1667.3M1414.8,1675.6V1666.8M1604.2,1675.6V1671.0M1489.0,1675.6V1666.4" stroke="#555" stroke-width="0.9" fill="none"/>
<line x1="1294.3" y1="1675.6" x2="1294.3" y2="1636.9" stroke="#333" stroke-width="1.0" />
<line x1="1303.3" y1="1675.6" x2="1303.3" y2="1634.4" stroke="#333" stroke-width="1.0" />
<line x1="1307.0" y1="1675.6" x2="1307.0" y2="1656.9" stroke="#333" stroke-width="1.0" />
<line x1="1312.8" y1="1675.6" x2="1312.8" y2="1565.9" stroke="#e58a3a" stroke-width="1.0" />
<path d="M1315.8,1567.9v49.4" stroke="#e58a3a" stroke-width="1.2" stroke-dasharray="1.4 1.4" fill="none" opacity="0.8"/>
<line x1="1316.6" y1="1675.6" x2="1316.6" y2="1603.3" stroke="#333" stroke-width="1.0" />
<line x1="1320.4" y1="1675.6" x2="1320.4" y2="1617.0" stroke="#333" stroke-width="1.0" />
<line x1="1325.2" y1="1675.6" x2="1325.2" y2="1622.0" stroke="#2f9a4a" stroke-width="1.0" />
<path d="M1328.2,1624.0v24.1" stroke="#2f9a4a" stroke-width="1.2" stroke-dasharray="1.4 1.4" fill="none" opacity="0.8"/>
<line x1="1328.0" y1="1675.6" x2="1328.0" y2="1666.9" stroke="#333" stroke-width="1.0" />
<line x1="1353.8" y1="1675.6" x2="1353.8" y2="1639.4" stroke="#2f9a4a" stroke-width="1.0" />
<path d="M1356.8,1641.4v16.3" stroke="#2f9a4a" stroke-width="1.2" stroke-dasharray="1.4 1.4" fill="none" opacity="0.8"/>
<line x1="1359.5" y1="1675.6" x2="1359.5" y2="1641.9" stroke="#2f9a4a" stroke-width="1.0" />
<path d="M1362.5,1643.9v15.2" stroke="#2f9a4a" stroke-width="1.2" stroke-dasharray="1.4 1.4" fill="none" opacity="0.8"/>
<line x1="1372.8" y1="1675.6" x2="1372.8" y2="1653.2" stroke="#333" stroke-width="1.0" />
<line x1="1379.5" y1="1675.6" x2="1379.5" y2="1609.5" stroke="#333" stroke-width="1.0" />
<line x1="1387.5" y1="1675.6" x2="1387.5" y2="1552.1" stroke="#333" stroke-width="1.0" />
<line x1="1391.8" y1="1675.6" x2="1391.8" y2="1658.1" stroke="#333" stroke-width="1.0" />
<line x1="1403.7" y1="1675.6" x2="1403.7" y2="1615.7" stroke="#333" stroke-width="1.0" />
<line x1="1416.0" y1="1675.6" x2="1416.0" y2="1666.9" stroke="#333" stroke-width="1.0" />
<line x1="1421.3" y1="1675.6" x2="1421.3" y2="1632.0" stroke="#333" stroke-width="1.0" />
<line x1="1435.6" y1="1675.6" x2="1435.6" y2="1643.2" stroke="#333" stroke-width="1.0" />
<line x1="1453.7" y1="1675.6" x2="1453.7" y2="1645.7" stroke="#2f9a4a" stroke-width="1.0" />
<path d="M1456.7,1647.7v13.5" stroke="#2f9a4a" stroke-width="1.2" stroke-dasharray="1.4 1.4" fill="none" opacity="0.8"/>
<line x1="1483.2" y1="1675.6" x2="1483.2" y2="1653.2" stroke="#333" stroke-width="1.0" />
<line x1="1512.7" y1="1675.6" x2="1512.7" y2="1608.3" stroke="#333" stroke-width="1.0" />
<line x1="1535.6" y1="1675.6" x2="1535.6" y2="1653.2" stroke="#333" stroke-width="1.0" />
<line x1="1546.0" y1="1675.6" x2="1546.0" y2="1668.1" stroke="#333" stroke-width="1.0" />
<line x1="1581.7" y1="1675.6" x2="1581.7" y2="1645.7" stroke="#333" stroke-width="1.0" />
<line x1="1603.0" y1="1675.6" x2="1603.0" y2="1666.9" stroke="#333" stroke-width="1.0" />
<line x1="1615.0" y1="1675.6" x2="1615.0" y2="1668.1" stroke="#333" stroke-width="1.0" />
<line x1="1634.6" y1="1675.6" x2="1634.6" y2="1666.9" stroke="#333" stroke-width="1.0" />
<text x="1483.0" y="1567.5" font-size="9" fill="#222" textLength="145.4" lengthAdjust="spacing">I T N L C D G G H S H R R</text>
<text x="1477.5" y="1557.0" font-size="7.5" fill="#2a3fb0" font-weight="bold">3+</text>
<text x="1495.0" y="1577.5" font-size="5" fill="#2f9a4a">b3</text>
<text x="1509.0" y="1577.5" font-size="5" fill="#2f9a4a">b4</text>
<text x="1543.0" y="1577.5" font-size="5" fill="#2f9a4a">b5</text>
<rect x="1728.3" y="1527.0" width="377.4" height="168.0" fill="#fff" stroke="#222" stroke-width="2.6"/>
<line x1="1743.6" y1="1541.4" x2="1743.6" y2="1675.6" stroke="#444" stroke-width="0.9" />
<line x1="1743.6" y1="1675.6" x2="2085.0" y2="1675.6" stroke="#444" stroke-width="0.9" />
<line x1="1740.6" y1="1675.6" x2="1743.6" y2="1675.6" stroke="#444" stroke-width="0.8" />
<text x="1738.6" y="1677.1" font-size="4.5" fill="#444" text-anchor="end">0</text>
<line x1="1740.6" y1="1662.2" x2="1743.6" y2="1662.2" stroke="#444" stroke-width="0.8" />
<text x="1738.6" y="1663.7" font-size="4.5" fill="#444" text-anchor="end">10</text>
<line x1="1740.6" y1="1648.8" x2="1743.6" y2="1648.8" stroke="#444" stroke-width="0.8" />
<text x="1738.6" y="1650.3" font-size="4.5" fill="#444" text-anchor="end">20</text>
<line x1="1740.6" y1="1635.3" x2="1743.6" y2="1635.3" stroke="#444" stroke-width="0.8" />
<text x="1738.6" y="1636.8" font-size="4.5" fill="#444" text-anchor="end">30</text>
<line x1="1740.6" y1="1621.9" x2="1743.6" y2="1621.9" stroke="#444" stroke-width="0.8" />
<text x="1738.6" y="1623.4" font-size="4.5" fill="#444" text-anchor="end">40</text>
<line x1="1740.6" y1="1608.5" x2="1743.6" y2="1608.5" stroke="#444" stroke-width="0.8" />
<text x="1738.6" y="1610.0" font-size="4.5" fill="#444" text-anchor="end">50</text>
<line x1="1740.6" y1="1595.1" x2="1743.6" y2="1595.1" stroke="#444" stroke-width="0.8" />
<text x="1738.6" y="1596.6" font-size="4.5" fill="#444" text-anchor="end">60</text>
<line x1="1740.6" y1="1581.7" x2="1743.6" y2="1581.7" stroke="#444" stroke-width="0.8" />
<text x="1738.6" y="1583.2" font-size="4.5" fill="#444" text-anchor="end">70</text>
<line x1="1740.6" y1="1568.2" x2="1743.6" y2="1568.2" stroke="#444" stroke-width="0.8" />
<text x="1738.6" y="1569.7" font-size="4.5" fill="#444" text-anchor="end">80</text>
<line x1="1740.6" y1="1554.8" x2="1743.6" y2="1554.8" stroke="#444" stroke-width="0.8" />
<text x="1738.6" y="1556.3" font-size="4.5" fill="#444" text-anchor="end">90</text>
<line x1="1740.6" y1="1541.4" x2="1743.6" y2="1541.4" stroke="#444" stroke-width="0.8" />
<text x="1738.6" y="1542.9" font-size="4.5" fill="#444" text-anchor="end">100</text>
<line x1="1743.6" y1="1675.6" x2="1743.6" y2="1678.6" stroke="#444" stroke-width="0.8" />
<text x="1743.6" y="1684.6" font-size="4.5" fill="#444" text-anchor="middle">200</text>
<line x1="1781.5" y1="1675.6" x2="1781.5" y2="1678.6" stroke="#444" stroke-width="0.8" />
<line x1="1819.5" y1="1675.6" x2="1819.5" y2="1678.6" stroke="#444" stroke-width="0.8" />
<text x="1819.5" y="1684.6" font-size="4.5" fill="#444" text-anchor="middle">400</text>
<line x1="1857.4" y1="1675.6" x2="1857.4" y2="1678.6" stroke="#444" stroke-width="0.8" />
<line x1="1895.3" y1="1675.6" x2="1895.3" y2="1678.6" stroke="#444" stroke-width="0.8" />
<text x="1895.3" y="1684.6" font-size="4.5" fill="#444" text-anchor="middle">600</text>
<line x1="1933.3" y1="1675.6" x2="1933.3" y2="1678.6" stroke="#444" stroke-width="0.8" />
<line x1="1971.2" y1="1675.6" x2="1971.2" y2="1678.6" stroke="#444" stroke-width="0.8" />
<text x="1971.2" y="1684.6" font-size="4.5" fill="#444" text-anchor="middle">800</text>
<line x1="2009.1" y1="1675.6" x2="2009.1" y2="1678.6" stroke="#444" stroke-width="0.8" />
<line x1="2047.1" y1="1675.6" x2="2047.1" y2="1678.6" stroke="#444" stroke-width="0.8" />
<text x="2047.1" y="1684.6" font-size="4.5" fill="#444" text-anchor="middle">1000</text>
<line x1="2085.0" y1="1675.6" x2="2085.0" y2="1678.6" stroke="#444" stroke-width="0.8" />
<text x="1756.3" y="1538.0" font-size="5" fill="#3a5fc0">FileID Spectrum# scan 2305</text>
<text x="1828.3" y="1538.0" font-size="5" fill="#3a5fc0">Seq: TFMEQKITNLC</text>
<text x="1914.3" y="1687.0" font-size="5" fill="#333" text-anchor="middle">m/z</text>
<text x="1740.3" y="1608.5" font-size="4.5" fill="#444" transform="rotate(-90 1740.3 1608.5)" text-anchor="middle">Relative Intensity (%)</text>
<path d="M1780.9,1675.6V1666.9M1798.1,1675.6V1664.8M1831.3,1675.6V1675.5M1751.7,1675.6V1654.9M1783.7,1675.6V1674.0M1879.4,1675.6V1669.1M1858.7,1675.6V1668.9M1833.1,1675.6V1674.9M1832.5,1675.6V1653.4M1818.0,1675.6V1659.4M1837.3,1675.6V1675.5M1848.6,1675.6V1665.3M1789.2,1675.6V1675.6M1862.5,1675.6V1669.0M1843.4,1675.6V1652.8M1842.8,1675.6V1650.6M1801.3,1675.6V1656.7M1807.8,1675.6V1649.8M1864.3,1675.6V1675.3M1767.7,1675.6V1674.2M1875.5,1675.6V1670.0M1831.5,1675.6V1672.9M1815.9,1675.6V1671.2M1795.6,1675.6V1665.5M1826.0,1675.6V1651.5M1838.7,1675.6V1650.1M1861.3,1675.6V1646.6M1837.3,1675.6V1674.8M1861.9,1675.6V1648.1M1867.6,1675.6V1666.0M1842.8,1675.6V1674.3M1858.1,1675.6V1665.9M1787.0,1675.6V1675.5M1861.0,1675.6V1646.7M1761.5,1675.6V1656.7M1803.4,1675.6V1674.9M1788.2,1675.6V1658.2M1863.5,1675.6V1675.5M1829.9,1675.6V1675.5M1843.4,1675.6V1672.4M1864.5,1675.6V1647.2M1815.7,1675.6V1646.2M1790.3,1675.6V1675.4M1828.0,1675.6V1675.6M1775.7,1675.6V1670.7M1829.4,1675.6V1674.9M1755.5,1675.6V1653.4M1790.8,1675.6V1648.5M1866.6,1675.6V1671.4M1809.9,1675.6V1667.6M1833.7,1675.6V1665.1M1822.7,1675.6V1664.2M1872.3,1675.6V1668.0M1806.1,1675.6V1660.3M1780.9,1675.6V1672.9M1877.1,1675.6V1667.6M1821.3,1675.6V1675.6M1804.0,1675.6V1665.7M1752.6,1675.6V1664.4M1832.2,1675.6V1675.5M1831.6,1675.6V1669.2M1838.3,1675.6V1671.9M1841.9,1675.6V1659.5M1752.9,1675.6V1675.5M1837.9,1675.6V1648.2M1782.6,1675.6V1669.5M1827.0,1675.6V1672.6M1797.3,1675.6V1672.7M1798.0,1675.6V1665.1M1789.1,1675.6V1671.4M1850.4,1675.6V1675.6M1824.0,1675.6V1659.6M1790.3,1675.6V1674.1M1854.5,1675.6V1673.9M1774.4,1675.6V1670.0M1978.9,1675.6V1674.5M1854.3,1675.6V1672.0M2023.8,1675.6V1670.9M2031.1,1675.6V1673.8M1859.2,1675.6V1668.6M2040.9,1675.6V1670.8M1822.2,1675.6V1674.3M1923.1,1675.6V1673.6M2015.0,1675.6V1666.6M1808.4,1675.6V1672.6M2015.1,1675.6V1668.7M2014.8,1675.6V1671.9" stroke="#555" stroke-width="0.9" fill="none"/>
<line x1="1759.3" y1="1675.6" x2="1759.3" y2="1651.4" stroke="#333" stroke-width="1.0" />
<line x1="1760.5" y1="1675.6" x2="1760.5" y2="1635.3" stroke="#2f9a4a" stroke-width="1.0" />
<path d="M1763.5,1637.3v18.1" stroke="#2f9a4a" stroke-width="1.2" stroke-dasharray="1.4 1.4" fill="none" opacity="0.8"/>
<line x1="1764.0" y1="1675.6" x2="1764.0" y2="1603.1" stroke="#333" stroke-width="1.0" />
<line x1="1772.6" y1="1675.6" x2="1772.6" y2="1542.7" stroke="#333" stroke-width="1.0" />
<line x1="1773.5" y1="1675.6" x2="1773.5" y2="1611.2" stroke="#333" stroke-width="1.0" />
<line x1="1780.7" y1="1675.6" x2="1780.7" y2="1609.8" stroke="#333" stroke-width="1.0" />
<line x1="1791.6" y1="1675.6" x2="1791.6" y2="1639.4" stroke="#e58a3a" stroke-width="1.0" />
<path d="M1794.6,1641.4v16.3" stroke="#e58a3a" stroke-width="1.2" stroke-dasharray="1.4 1.4" fill="none" opacity="0.8"/>
<line x1="1795.0" y1="1675.6" x2="1795.0" y2="1617.9" stroke="#333" stroke-width="1.0" />
<line x1="1805.9" y1="1675.6" x2="1805.9" y2="1593.7" stroke="#2f9a4a" stroke-width="1.0" />
<path d="M1808.9,1595.7v36.8" stroke="#2f9a4a" stroke-width="1.2" stroke-dasharray="1.4 1.4" fill="none" opacity="0.8"/>
<line x1="1810.6" y1="1675.6" x2="1810.6" y2="1652.8" stroke="#333" stroke-width="1.0" />
<line x1="1831.6" y1="1675.6" x2="1831.6" y2="1625.9" stroke="#333" stroke-width="1.0" />
<line x1="1839.2" y1="1675.6" x2="1839.2" y2="1634.0" stroke="#333" stroke-width="1.0" />
<line x1="1845.9" y1="1675.6" x2="1845.9" y2="1636.7" stroke="#333" stroke-width="1.0" />
<line x1="1852.0" y1="1675.6" x2="1852.0" y2="1659.5" stroke="#333" stroke-width="1.0" />
<line x1="1874.9" y1="1675.6" x2="1874.9" y2="1655.5" stroke="#333" stroke-width="1.0" />
<line x1="1884.0" y1="1675.6" x2="1884.0" y2="1634.0" stroke="#2f9a4a" stroke-width="1.0" />
<path d="M1887.0,1636.0v18.7" stroke="#2f9a4a" stroke-width="1.2" stroke-dasharray="1.4 1.4" fill="none" opacity="0.8"/>
<line x1="1902.0" y1="1675.6" x2="1902.0" y2="1659.5" stroke="#333" stroke-width="1.0" />
<line x1="1918.7" y1="1675.6" x2="1918.7" y2="1643.4" stroke="#333" stroke-width="1.0" />
<line x1="1931.6" y1="1675.6" x2="1931.6" y2="1640.7" stroke="#2f9a4a" stroke-width="1.0" />
<path d="M1934.6,1642.7v15.7" stroke="#2f9a4a" stroke-width="1.2" stroke-dasharray="1.4 1.4" fill="none" opacity="0.8"/>
<line x1="1946.3" y1="1675.6" x2="1946.3" y2="1646.1" stroke="#333" stroke-width="1.0" />
<line x1="1963.0" y1="1675.6" x2="1963.0" y2="1651.4" stroke="#333" stroke-width="1.0" />
<line x1="1977.3" y1="1675.6" x2="1977.3" y2="1655.5" stroke="#333" stroke-width="1.0" />
<line x1="2013.9" y1="1675.6" x2="2013.9" y2="1632.7" stroke="#333" stroke-width="1.0" />
<line x1="2021.0" y1="1675.6" x2="2021.0" y2="1643.4" stroke="#e58a3a" stroke-width="1.0" />
<path d="M2024.0,1645.4v14.5" stroke="#e58a3a" stroke-width="1.2" stroke-dasharray="1.4 1.4" fill="none" opacity="0.8"/>
<line x1="2029.0" y1="1675.6" x2="2029.0" y2="1663.5" stroke="#333" stroke-width="1.0" />
<line x1="2052.0" y1="1675.6" x2="2052.0" y2="1666.2" stroke="#333" stroke-width="1.0" />
<line x1="2059.0" y1="1675.6" x2="2059.0" y2="1656.8" stroke="#333" stroke-width="1.0" />
<text x="1925.9" y="1559.0" font-size="9" fill="#222" textLength="114.1" lengthAdjust="spacing">T F M E Q K I T N L C</text>
<text x="1918.7" y="1546.5" font-size="7.5" fill="#2a3fb0" font-weight="bold">3+</text>
<text x="1937.9" y="1569.0" font-size="5" fill="#2f9a4a">b3</text>
<text x="1951.9" y="1569.0" font-size="5" fill="#2f9a4a">b4</text>
<text x="1985.9" y="1569.0" font-size="5" fill="#2f9a4a">b5</text>
<text x="709.7" y="1763.5" font-size="50" stroke="#000" stroke-width="0.45">f</text>
<text x="912.5" y="1769.8" font-size="26" stroke="#000" stroke-width="0.45" text-anchor="middle">1</text>
<text x="964.0" y="1769.8" font-size="26" stroke="#000" stroke-width="0.45" text-anchor="middle">2</text>
<text x="1023.6" y="1769.8" font-size="26" stroke="#000" stroke-width="0.45" text-anchor="middle">3</text>
<text x="1081.6" y="1769.8" font-size="26" stroke="#000" stroke-width="0.45" text-anchor="middle">4</text>
<text x="1134.3" y="1769.8" font-size="26" stroke="#000" stroke-width="0.45" text-anchor="middle">5</text>
<text x="1196.6" y="1769.8" font-size="26" stroke="#000" stroke-width="0.45" text-anchor="middle">6</text>
<text x="1248.9" y="1769.8" font-size="26" stroke="#000" stroke-width="0.45" text-anchor="middle">7</text>
<line x1="891.0" y1="1787.0" x2="938.5" y2="1787.0" stroke="#000" stroke-width="1.5" />
<line x1="946.3" y1="1787.0" x2="994.4" y2="1787.0" stroke="#000" stroke-width="1.5" />
<line x1="1004.3" y1="1787.0" x2="1052.4" y2="1787.0" stroke="#000" stroke-width="1.5" />
<line x1="1062.0" y1="1787.0" x2="1110.0" y2="1787.0" stroke="#000" stroke-width="1.5" />
<line x1="1117.0" y1="1787.0" x2="1165.2" y2="1787.0" stroke="#000" stroke-width="1.5" />
<line x1="1175.2" y1="1787.0" x2="1222.9" y2="1787.0" stroke="#000" stroke-width="1.5" />
<line x1="1229.3" y1="1787.0" x2="1276.7" y2="1787.0" stroke="#000" stroke-width="1.5" />
<text x="901.8" y="1818.0" font-size="27" stroke="#000" stroke-width="0.45" text-anchor="middle">N</text>
<text x="929.2" y="1818.0" font-size="27" stroke="#000" stroke-width="0.45" text-anchor="middle">T</text>
<text x="958.8" y="1818.0" font-size="27" stroke="#000" stroke-width="0.45" text-anchor="middle">N</text>
<text x="987.2" y="1818.0" font-size="27" stroke="#000" stroke-width="0.45" text-anchor="middle">T</text>
<text x="1015.7" y="1818.0" font-size="27" stroke="#000" stroke-width="0.45" text-anchor="middle">N</text>
<text x="1043.5" y="1818.0" font-size="27" stroke="#000" stroke-width="0.45" text-anchor="middle">T</text>
<text x="1072.7" y="1818.0" font-size="27" stroke="#000" stroke-width="0.45" text-anchor="middle">N</text>
<text x="1100.4" y="1818.0" font-size="27" stroke="#000" stroke-width="0.45" text-anchor="middle">T</text>
<text x="1132.5" y="1818.0" font-size="27" stroke="#000" stroke-width="0.45" text-anchor="middle">N</text>
<text x="1159.9" y="1818.0" font-size="27" stroke="#000" stroke-width="0.45" text-anchor="middle">T</text>
<text x="1191.9" y="1818.0" font-size="27" stroke="#000" stroke-width="0.45" text-anchor="middle">N</text>
<text x="1219.3" y="1818.0" font-size="27" stroke="#000" stroke-width="0.45" text-anchor="middle">T</text>
<text x="1244.3" y="1818.0" font-size="27" stroke="#000" stroke-width="0.45" text-anchor="middle">N</text>
<text x="1271.3" y="1818.0" font-size="27" stroke="#000" stroke-width="0.45" text-anchor="middle">T</text>
<text x="717.8" y="1813.3" font-size="27" stroke="#000" stroke-width="0.45" textLength="109.0" lengthAdjust="spacingAndGlyphs">Cohort 2</text>
<text x="1320.0" y="1826.0" font-size="27" stroke="#000" stroke-width="0.45">kDa</text>
<rect x="884.0" y="1834.6" width="391.6" height="49.2" fill="#c9c9c9"/>
<rect x="977.6" y="1856.8" width="25.0" height="5.5" rx="2.8" fill="#111" filter="url(#blur1)"/>
<rect x="1032.5" y="1856.8" width="24.2" height="5.5" rx="2.8" fill="#111" filter="url(#blur1)"/>
<rect x="1087.0" y="1856.0" width="26.6" height="7.0" rx="3.5" fill="#111" filter="url(#blur1)"/>
<rect x="1142.0" y="1855.8" width="26.8" height="6.5" rx="3.2" fill="#111" filter="url(#blur1)"/>
<rect x="1197.3" y="1856.2" width="27.4" height="6.5" rx="3.2" fill="#111" filter="url(#blur1)"/>
<rect x="1256.0" y="1854.5" width="19.6" height="5.0" rx="2.5" fill="#111" filter="url(#blur1)"/>
<text x="716.7" y="1876.6" font-size="27" stroke="#000" stroke-width="0.45" textLength="112.0" lengthAdjust="spacingAndGlyphs">C-E-Cad</text>
<line x1="1301.6" y1="1857.0" x2="1307.6" y2="1857.0" stroke="#000" stroke-width="1.5" />
<text x="1318.3" y="1867.7" font-size="27" stroke="#000" stroke-width="0.45">25</text>
<path d="M884,1913 H1275.6 V1930 H1291.6 V1962 H884 Z" fill="#c6c6c6"/>
<rect x="885.8" y="1933.8" width="32.0" height="4.5" rx="2.2" fill="#151515" filter="url(#blur1)"/>
<rect x="913.2" y="1933.5" width="32.0" height="4.5" rx="2.2" fill="#151515" filter="url(#blur1)"/>
<rect x="942.8" y="1933.2" width="32.0" height="4.5" rx="2.2" fill="#151515" filter="url(#blur1)"/>
<rect x="971.2" y="1933.5" width="32.0" height="3.5" rx="1.8" fill="#151515" filter="url(#blur1)"/>
<rect x="999.7" y="1933.2" width="32.0" height="3.5" rx="1.8" fill="#151515" filter="url(#blur1)"/>
<rect x="1027.5" y="1933.0" width="32.0" height="3.5" rx="1.8" fill="#151515" filter="url(#blur1)"/>
<rect x="1056.7" y="1932.8" width="32.0" height="3.5" rx="1.8" fill="#151515" filter="url(#blur1)"/>
<rect x="1084.4" y="1932.5" width="32.0" height="3.5" rx="1.8" fill="#151515" filter="url(#blur1)"/>
<rect x="1116.5" y="1932.2" width="32.0" height="3.5" rx="1.8" fill="#151515" filter="url(#blur1)"/>
<rect x="1143.9" y="1932.0" width="32.0" height="3.5" rx="1.8" fill="#151515" filter="url(#blur1)"/>
<rect x="1175.9" y="1931.2" width="32.0" height="4.5" rx="2.2" fill="#151515" filter="url(#blur1)"/>
<rect x="1203.3" y="1931.0" width="32.0" height="4.5" rx="2.2" fill="#151515" filter="url(#blur1)"/>
<rect x="1228.3" y="1930.8" width="32.0" height="4.5" rx="2.2" fill="#151515" filter="url(#blur1)"/>
<rect x="1255.3" y="1930.5" width="32.0" height="4.5" rx="2.2" fill="#151515" filter="url(#blur1)"/>
<text x="737.0" y="1953.2" font-size="27" stroke="#000" stroke-width="0.45" textLength="88.0" lengthAdjust="spacingAndGlyphs">β-actin</text>
<line x1="1301.6" y1="1942.5" x2="1307.6" y2="1942.5" stroke="#000" stroke-width="1.5" />
<text x="1318.3" y="1955.0" font-size="27" stroke="#000" stroke-width="0.45">42</text>
<text x="1633.1" y="1772.0" font-size="26" stroke="#000" stroke-width="0.45" text-anchor="middle">1</text>
<text x="1685.5" y="1772.0" font-size="26" stroke="#000" stroke-width="0.45" text-anchor="middle">2</text>
<text x="1745.7" y="1772.0" font-size="26" stroke="#000" stroke-width="0.45" text-anchor="middle">3</text>
<text x="1801.6" y="1772.0" font-size="26" stroke="#000" stroke-width="0.45" text-anchor="middle">4</text>
<text x="1854.8" y="1772.0" font-size="26" stroke="#000" stroke-width="0.45" text-anchor="middle">5</text>
<text x="1919.0" y="1772.0" font-size="26" stroke="#000" stroke-width="0.45" text-anchor="middle">6</text>
<text x="1973.7" y="1772.0" font-size="26" stroke="#000" stroke-width="0.45" text-anchor="middle">7</text>
<line x1="1615.4" y1="1785.0" x2="1663.0" y2="1785.0" stroke="#000" stroke-width="1.5" />
<line x1="1671.0" y1="1785.0" x2="1718.0" y2="1785.0" stroke="#000" stroke-width="1.5" />
<line x1="1728.8" y1="1785.0" x2="1777.2" y2="1785.0" stroke="#000" stroke-width="1.5" />
<line x1="1785.9" y1="1785.0" x2="1834.0" y2="1785.0" stroke="#000" stroke-width="1.5" />
<line x1="1841.8" y1="1785.0" x2="1889.4" y2="1785.0" stroke="#000" stroke-width="1.5" />
<line x1="1899.3" y1="1785.0" x2="1947.3" y2="1785.0" stroke="#000" stroke-width="1.5" />
<line x1="1961.0" y1="1785.0" x2="2009.5" y2="1785.0" stroke="#000" stroke-width="1.5" />
<text x="1634.3" y="1815.7" font-size="27" stroke="#000" stroke-width="0.45" text-anchor="middle">N</text>
<text x="1660.7" y="1815.7" font-size="27" stroke="#000" stroke-width="0.45" text-anchor="middle">T</text>
<text x="1687.4" y="1815.7" font-size="27" stroke="#000" stroke-width="0.45" text-anchor="middle">N</text>
<text x="1715.0" y="1815.7" font-size="27" stroke="#000" stroke-width="0.45" text-anchor="middle">T</text>
<text x="1743.7" y="1815.7" font-size="27" stroke="#000" stroke-width="0.45" text-anchor="middle">N</text>
<text x="1771.3" y="1815.7" font-size="27" stroke="#000" stroke-width="0.45" text-anchor="middle">T</text>
<text x="1800.8" y="1815.7" font-size="27" stroke="#000" stroke-width="0.45" text-anchor="middle">N</text>
<text x="1828.4" y="1815.7" font-size="27" stroke="#000" stroke-width="0.45" text-anchor="middle">T</text>
<text x="1856.0" y="1815.7" font-size="27" stroke="#000" stroke-width="0.45" text-anchor="middle">N</text>
<text x="1883.5" y="1815.7" font-size="27" stroke="#000" stroke-width="0.45" text-anchor="middle">T</text>
<text x="1914.6" y="1815.7" font-size="27" stroke="#000" stroke-width="0.45" text-anchor="middle">N</text>
<text x="1942.6" y="1815.7" font-size="27" stroke="#000" stroke-width="0.45" text-anchor="middle">T</text>
<text x="1976.0" y="1815.7" font-size="27" stroke="#000" stroke-width="0.45" text-anchor="middle">N</text>
<text x="2002.4" y="1815.7" font-size="27" stroke="#000" stroke-width="0.45" text-anchor="middle">T</text>
<text x="1440.6" y="1812.5" font-size="27" stroke="#000" stroke-width="0.45" textLength="109.0" lengthAdjust="spacingAndGlyphs">Cohort 3</text>
<text x="2041.0" y="1818.4" font-size="27" stroke="#000" stroke-width="0.45">kDa</text>
<rect x="1606.0" y="1836.0" width="408.2" height="47.4" fill="#c5c5c5"/>
<rect x="1644.0" y="1856.3" width="27.7" height="4.5" rx="2.2" fill="#111" filter="url(#blur1)"/>
<rect x="1698.5" y="1856.3" width="25.1" height="4.5" rx="2.2" fill="#111" filter="url(#blur1)"/>
<rect x="1750.4" y="1856.3" width="29.6" height="4.5" rx="2.2" fill="#111" filter="url(#blur1)"/>
<rect x="1807.5" y="1856.3" width="27.5" height="4.5" rx="2.2" fill="#111" filter="url(#blur1)"/>
<rect x="1864.6" y="1856.3" width="25.4" height="4.5" rx="2.2" fill="#111" filter="url(#blur1)"/>
<rect x="1919.0" y="1856.3" width="28.3" height="4.5" rx="2.2" fill="#111" filter="url(#blur1)"/>
<rect x="1976.8" y="1856.3" width="29.5" height="4.5" rx="2.2" fill="#111" filter="url(#blur1)"/>
<text x="1443.3" y="1869.6" font-size="27" stroke="#000" stroke-width="0.45" textLength="112.0" lengthAdjust="spacingAndGlyphs">C-E-Cad</text>
<line x1="2022.9" y1="1858.6" x2="2029.0" y2="1858.6" stroke="#000" stroke-width="1.5" />
<text x="2041.0" y="1868.8" font-size="27" stroke="#000" stroke-width="0.45">25</text>
<rect x="1606.0" y="1913.0" width="408.2" height="48.0" fill="#c8c8c8"/>
<rect x="1619.3" y="1938.2" width="30.0" height="4.5" rx="2.2" fill="#121212" filter="url(#blur1)"/>
<rect x="1645.7" y="1938.2" width="30.0" height="4.5" rx="2.2" fill="#121212" filter="url(#blur1)"/>
<rect x="1672.4" y="1938.2" width="30.0" height="4.5" rx="2.2" fill="#121212" filter="url(#blur1)"/>
<rect x="1700.0" y="1938.2" width="30.0" height="4.5" rx="2.2" fill="#121212" filter="url(#blur1)"/>
<rect x="1728.7" y="1938.2" width="30.0" height="4.5" rx="2.2" fill="#121212" filter="url(#blur1)"/>
<rect x="1756.3" y="1938.2" width="30.0" height="4.5" rx="2.2" fill="#121212" filter="url(#blur1)"/>
<rect x="1785.8" y="1938.2" width="30.0" height="4.5" rx="2.2" fill="#121212" filter="url(#blur1)"/>
<rect x="1813.4" y="1938.2" width="30.0" height="4.5" rx="2.2" fill="#121212" filter="url(#blur1)"/>
<rect x="1841.0" y="1938.2" width="30.0" height="4.5" rx="2.2" fill="#121212" filter="url(#blur1)"/>
<rect x="1868.5" y="1938.2" width="30.0" height="4.5" rx="2.2" fill="#121212" filter="url(#blur1)"/>
<rect x="1899.6" y="1938.2" width="30.0" height="4.5" rx="2.2" fill="#121212" filter="url(#blur1)"/>
<rect x="1927.6" y="1938.2" width="30.0" height="4.5" rx="2.2" fill="#121212" filter="url(#blur1)"/>
<rect x="1961.0" y="1938.2" width="30.0" height="4.5" rx="2.2" fill="#121212" filter="url(#blur1)"/>
<rect x="1987.4" y="1938.2" width="30.0" height="4.5" rx="2.2" fill="#121212" filter="url(#blur1)"/>
<text x="1463.0" y="1950.3" font-size="27" stroke="#000" stroke-width="0.45" textLength="88.0" lengthAdjust="spacingAndGlyphs">β-actin</text>
<line x1="2022.9" y1="1935.8" x2="2029.0" y2="1935.8" stroke="#000" stroke-width="1.5" />
<text x="2041.0" y="1945.2" font-size="27" stroke="#000" stroke-width="0.45">42</text>
<text x="2.0" y="2024.0" font-size="50" stroke="#000" stroke-width="0.45">g</text>
<line x1="134.0" y1="1997.5" x2="134.0" y2="2251.2" stroke="#000" stroke-width="3" />
<line x1="134.0" y1="2249.7" x2="525.0" y2="2249.7" stroke="#000" stroke-width="3" />
<line x1="123.0" y1="1999.0" x2="134.0" y2="1999.0" stroke="#000" stroke-width="2.6" />
<line x1="123.0" y1="2049.1" x2="134.0" y2="2049.1" stroke="#000" stroke-width="2.6" />
<line x1="123.0" y1="2099.3" x2="134.0" y2="2099.3" stroke="#000" stroke-width="2.6" />
<line x1="123.0" y1="2149.4" x2="134.0" y2="2149.4" stroke="#000" stroke-width="2.6" />
<line x1="123.0" y1="2199.6" x2="134.0" y2="2199.6" stroke="#000" stroke-width="2.6" />
<line x1="123.0" y1="2249.7" x2="134.0" y2="2249.7" stroke="#000" stroke-width="2.6" />
<line x1="134.0" y1="2249.7" x2="134.0" y2="2258.7" stroke="#000" stroke-width="2.6" />
<line x1="212.3" y1="2249.7" x2="212.3" y2="2258.7" stroke="#000" stroke-width="2.6" />
<line x1="290.5" y1="2249.7" x2="290.5" y2="2258.7" stroke="#000" stroke-width="2.6" />
<line x1="368.7" y1="2249.7" x2="368.7" y2="2258.7" stroke="#000" stroke-width="2.6" />
<line x1="446.1" y1="2249.7" x2="446.1" y2="2258.7" stroke="#000" stroke-width="2.6" />
<line x1="524.4" y1="2249.7" x2="524.4" y2="2258.7" stroke="#000" stroke-width="2.6" />
<text x="115.5" y="2064.3" font-size="28" stroke="#000" stroke-width="0.45" text-anchor="end">80</text>
<text x="115.5" y="2164.0" font-size="28" stroke="#000" stroke-width="0.45" text-anchor="end">40</text>
<text x="115.5" y="2259.8" font-size="28" stroke="#000" stroke-width="0.45" text-anchor="end">0</text>
<text x="137.8" y="2287.7" font-size="28" stroke="#000" stroke-width="0.45" text-anchor="middle">0</text>
<text x="212.3" y="2287.7" font-size="28" stroke="#000" stroke-width="0.45" text-anchor="middle">1</text>
<text x="290.5" y="2287.7" font-size="28" stroke="#000" stroke-width="0.45" text-anchor="middle">2</text>
<text x="368.7" y="2287.7" font-size="28" stroke="#000" stroke-width="0.45" text-anchor="middle">3</text>
<text x="446.0" y="2287.7" font-size="28" stroke="#000" stroke-width="0.45" text-anchor="middle">4</text>
<text x="525.0" y="2287.7" font-size="28" stroke="#000" stroke-width="0.45" text-anchor="middle">5</text>
<text x="543.7" y="2287.7" font-size="28" stroke="#000" stroke-width="0.45">Year</text>
<text x="57.7" y="2134.2" font-size="30" stroke="#000" stroke-width="0.45" text-anchor="middle" textLength="184.3" lengthAdjust="spacingAndGlyphs" transform="rotate(-90 57.7 2134.2)">Percent survival</text>
<polyline points="134.1,1999.1 140.8,1999.1 140.8,2037.5 148.2,2037.5 148.2,2075.4 153.8,2075.4 153.8,2100.4 173.2,2100.4 173.2,2112.7 205.9,2112.7 205.9,2125.0 238.3,2125.0 238.3,2137.6 265.1,2137.6 265.1,2150.7 277.4,2150.7 277.4,2163.0 316.5,2163.0 316.5,2175.2 336.3,2175.2 336.3,2187.9 355.6,2187.9 355.6,2200.2 368.7,2200.2 368.7,2213.2 433.8,2213.2 433.8,2225.1 440.2,2225.1 440.2,2237.4 446.1,2237.4 446.1,2249.7" fill="none" stroke="#3A8FBE" stroke-width="2.6" />
<polyline points="134.1,1999.1 140.8,1999.1 140.8,2038.2 147.1,2038.2 147.1,2079.9 152.7,2079.9 152.7,2110.8 159.4,2110.8 159.4,2140.6 165.7,2140.6 165.7,2150.7 173.2,2150.7 173.2,2161.1 179.9,2161.1 179.9,2179.7 185.5,2179.7 185.5,2190.1 199.2,2190.1 199.2,2200.2 204.8,2200.2 204.8,2209.5 231.6,2209.5 231.6,2219.6 283.8,2219.6 283.8,2229.6 329.6,2229.6 329.6,2239.3 368.7,2239.3 368.7,2249.7" fill="none" stroke="#D0687E" stroke-width="2.6" />
<text x="363.0" y="2030.0" font-size="30" stroke="#000" stroke-width="0.45" textLength="167.0" lengthAdjust="spacingAndGlyphs">C-E-Cad high</text>
<text x="560.5" y="2030.0" font-size="30" stroke="#000" stroke-width="0.45" textLength="61.0" lengthAdjust="spacingAndGlyphs">n=25</text>
<text x="366.8" y="2064.3" font-size="30" stroke="#000" stroke-width="0.45" textLength="156.0" lengthAdjust="spacingAndGlyphs">C-E-Cad low</text>
<text x="560.5" y="2064.3" font-size="30" stroke="#000" stroke-width="0.45" textLength="61.0" lengthAdjust="spacingAndGlyphs">n=20</text>
<text x="475.4" y="2247.5" font-size="26" stroke="#000" stroke-width="0.45" text-anchor="middle">***</text>
<text x="257.7" y="2336.0" font-size="28" stroke="#000" stroke-width="0.45" textLength="114.7" lengthAdjust="spacingAndGlyphs">Cohort 3</text>
<line x1="786.6" y1="1998.7" x2="786.6" y2="2251.2" stroke="#000" stroke-width="3" />
<line x1="786.6" y1="2249.7" x2="1177.0" y2="2249.7" stroke="#000" stroke-width="3" />
<line x1="775.4" y1="2000.2" x2="786.6" y2="2000.2" stroke="#000" stroke-width="2.6" />
<line x1="775.4" y1="2050.1" x2="786.6" y2="2050.1" stroke="#000" stroke-width="2.6" />
<line x1="775.4" y1="2100.0" x2="786.6" y2="2100.0" stroke="#000" stroke-width="2.6" />
<line x1="775.4" y1="2149.9" x2="786.6" y2="2149.9" stroke="#000" stroke-width="2.6" />
<line x1="775.4" y1="2199.8" x2="786.6" y2="2199.8" stroke="#000" stroke-width="2.6" />
<line x1="775.4" y1="2249.7" x2="786.6" y2="2249.7" stroke="#000" stroke-width="2.6" />
<line x1="786.6" y1="2249.7" x2="786.6" y2="2258.7" stroke="#000" stroke-width="2.6" />
<line x1="864.0" y1="2249.7" x2="864.0" y2="2258.7" stroke="#000" stroke-width="2.6" />
<line x1="941.9" y1="2249.7" x2="941.9" y2="2258.7" stroke="#000" stroke-width="2.6" />
<line x1="1020.0" y1="2249.7" x2="1020.0" y2="2258.7" stroke="#000" stroke-width="2.6" />
<line x1="1097.6" y1="2249.7" x2="1097.6" y2="2258.7" stroke="#000" stroke-width="2.6" />
<line x1="1175.8" y1="2249.7" x2="1175.8" y2="2258.7" stroke="#000" stroke-width="2.6" />
<text x="772.0" y="2062.4" font-size="28" stroke="#000" stroke-width="0.45" text-anchor="end">80</text>
<text x="772.0" y="2161.0" font-size="28" stroke="#000" stroke-width="0.45" text-anchor="end">40</text>
<text x="772.0" y="2259.8" font-size="28" stroke="#000" stroke-width="0.45" text-anchor="end">0</text>
<text x="789.6" y="2292.6" font-size="28" stroke="#000" stroke-width="0.45" text-anchor="middle">0</text>
<text x="864.0" y="2292.6" font-size="28" stroke="#000" stroke-width="0.45" text-anchor="middle">1</text>
<text x="942.0" y="2292.6" font-size="28" stroke="#000" stroke-width="0.45" text-anchor="middle">2</text>
<text x="1020.0" y="2292.6" font-size="28" stroke="#000" stroke-width="0.45" text-anchor="middle">3</text>
<text x="1097.6" y="2292.6" font-size="28" stroke="#000" stroke-width="0.45" text-anchor="middle">4</text>
<text x="1176.0" y="2292.6" font-size="28" stroke="#000" stroke-width="0.45" text-anchor="middle">5</text>
<text x="1194.4" y="2292.6" font-size="28" stroke="#000" stroke-width="0.45">Year</text>
<text x="712.0" y="2131.8" font-size="28" stroke="#000" stroke-width="0.45" text-anchor="middle" textLength="183.7" lengthAdjust="spacingAndGlyphs" transform="rotate(-90 712.0 2131.8)">Percent survival</text>
<polyline points="786.6,2000.2 792.2,2000.2 792.2,2032.6 812.7,2032.6 812.7,2050.1 831.3,2050.1 831.3,2083.6 844.3,2083.6 844.3,2100.4 871.1,2100.4 871.1,2117.2 877.1,2117.2 877.1,2133.2 889.8,2133.2 889.8,2149.9 902.8,2149.9 902.8,2166.7 916.2,2166.7 916.2,2183.4 928.1,2183.4 928.1,2200.2 968.0,2200.2 968.0,2217.0 981.0,2217.0 981.0,2233.7 1078.9,2233.7 1078.9,2249.7" fill="none" stroke="#3A8FBE" stroke-width="2.6" />
<polyline points="786.6,2000.2 792.2,2000.2 792.2,2034.5 792.2,2034.5 792.2,2075.4 798.5,2075.4 798.5,2109.0 805.2,2109.0 805.2,2142.5 811.9,2142.5 811.9,2166.7 818.3,2166.7 818.3,2183.4 824.6,2183.4 824.6,2200.2 836.9,2200.2 836.9,2208.4 850.7,2208.4 850.7,2217.0 864.1,2217.0 864.1,2225.1 896.5,2225.1 896.5,2233.7 941.9,2233.7 941.9,2241.9 981.0,2241.9 981.0,2249.7" fill="none" stroke="#D0687E" stroke-width="2.6" />
<text x="892.8" y="2024.0" font-size="30" stroke="#000" stroke-width="0.45" textLength="167.0" lengthAdjust="spacingAndGlyphs">C-E-Cad high</text>
<text x="1095.7" y="2024.0" font-size="30" stroke="#000" stroke-width="0.45" textLength="61.0" lengthAdjust="spacingAndGlyphs">n=30</text>
<text x="892.8" y="2061.3" font-size="30" stroke="#000" stroke-width="0.45" textLength="156.0" lengthAdjust="spacingAndGlyphs">C-E-Cad low</text>
<text x="1095.7" y="2061.3" font-size="30" stroke="#000" stroke-width="0.45" textLength="61.0" lengthAdjust="spacingAndGlyphs">n=15</text>
<text x="1117.8" y="2251.5" font-size="26" stroke="#000" stroke-width="0.45" text-anchor="middle">***</text>
<line x1="752.4" y1="2307.3" x2="2116.5" y2="2307.3" stroke="#000" stroke-width="2.2" />
<text x="1315.0" y="2337.6" font-size="28" stroke="#000" stroke-width="0.45" textLength="217.0" lengthAdjust="spacingAndGlyphs">CGGA Database</text>
<rect x="1606.6" y="2015.5" width="344.4" height="225.2" fill="#fff" stroke="#dedede" stroke-width="1.4"/>
<line x1="1622.4" y1="2015.5" x2="1622.4" y2="2240.7" stroke="#e6e6e6" stroke-width="0.9" />
<line x1="1662.0" y1="2015.5" x2="1662.0" y2="2240.7" stroke="#e6e6e6" stroke-width="0.6" />
<line x1="1701.4" y1="2015.5" x2="1701.4" y2="2240.7" stroke="#e6e6e6" stroke-width="0.9" />
<line x1="1740.2" y1="2015.5" x2="1740.2" y2="2240.7" stroke="#e6e6e6" stroke-width="0.6" />
<line x1="1779.4" y1="2015.5" x2="1779.4" y2="2240.7" stroke="#e6e6e6" stroke-width="0.9" />
<line x1="1818.7" y1="2015.5" x2="1818.7" y2="2240.7" stroke="#e6e6e6" stroke-width="0.6" />
<line x1="1857.5" y1="2015.5" x2="1857.5" y2="2240.7" stroke="#e6e6e6" stroke-width="0.9" />
<line x1="1896.7" y1="2015.5" x2="1896.7" y2="2240.7" stroke="#e6e6e6" stroke-width="0.6" />
<line x1="1936.0" y1="2015.5" x2="1936.0" y2="2240.7" stroke="#e6e6e6" stroke-width="0.9" />
<line x1="1606.6" y1="2025.3" x2="1951.0" y2="2025.3" stroke="#e6e6e6" stroke-width="0.9" />
<line x1="1606.6" y1="2076.5" x2="1951.0" y2="2076.5" stroke="#e6e6e6" stroke-width="0.9" />
<line x1="1606.6" y1="2128.5" x2="1951.0" y2="2128.5" stroke="#e6e6e6" stroke-width="0.9" />
<line x1="1606.6" y1="2179.7" x2="1951.0" y2="2179.7" stroke="#e6e6e6" stroke-width="0.9" />
<line x1="1606.6" y1="2231.0" x2="1951.0" y2="2231.0" stroke="#e6e6e6" stroke-width="0.9" />
<line x1="1602.0" y1="2025.3" x2="1606.6" y2="2025.3" stroke="#777" stroke-width="1" />
<line x1="1602.0" y1="2076.5" x2="1606.6" y2="2076.5" stroke="#777" stroke-width="1" />
<line x1="1602.0" y1="2128.5" x2="1606.6" y2="2128.5" stroke="#777" stroke-width="1" />
<line x1="1602.0" y1="2179.7" x2="1606.6" y2="2179.7" stroke="#777" stroke-width="1" />
<line x1="1602.0" y1="2231.0" x2="1606.6" y2="2231.0" stroke="#777" stroke-width="1" />
<line x1="1622.4" y1="2240.7" x2="1622.4" y2="2245.0" stroke="#777" stroke-width="1" />
<line x1="1701.4" y1="2240.7" x2="1701.4" y2="2245.0" stroke="#777" stroke-width="1" />
<line x1="1779.4" y1="2240.7" x2="1779.4" y2="2245.0" stroke="#777" stroke-width="1" />
<line x1="1857.5" y1="2240.7" x2="1857.5" y2="2245.0" stroke="#777" stroke-width="1" />
<line x1="1936.0" y1="2240.7" x2="1936.0" y2="2245.0" stroke="#777" stroke-width="1" />
<text x="1535.4" y="2034.7" font-size="28" stroke="#000" stroke-width="0.45" textLength="50.0" lengthAdjust="spacingAndGlyphs">100</text>
<text x="1536.0" y="2137.0" font-size="28" stroke="#000" stroke-width="0.45">50</text>
<text x="1552.0" y="2246.7" font-size="28" stroke="#000" stroke-width="0.45">0</text>
<text x="1622.4" y="2277.8" font-size="28" stroke="#000" stroke-width="0.45" text-anchor="middle">0</text>
<text x="1701.4" y="2277.8" font-size="28" stroke="#000" stroke-width="0.45" text-anchor="middle">1</text>
<text x="1781.5" y="2277.8" font-size="28" stroke="#000" stroke-width="0.45" text-anchor="middle">2</text>
<text x="1857.5" y="2277.8" font-size="28" stroke="#000" stroke-width="0.45" text-anchor="middle">3</text>
<text x="1957.7" y="2267.2" font-size="28" stroke="#000" stroke-width="0.45" textLength="160.0" lengthAdjust="spacingAndGlyphs">Days x1000</text>
<text x="1510.6" y="2120.3" font-size="30" stroke="#000" stroke-width="0.45" text-anchor="middle" textLength="184.6" lengthAdjust="spacingAndGlyphs" transform="rotate(-90 1510.6 2120.3)">Percent survival</text>
<text x="1787.0" y="2023.0" font-size="28" fill="#D6323C" stroke="#D6323C" stroke-width="0.45" textLength="212.0" lengthAdjust="spacingAndGlyphs">E-Cad High n=54</text>
<text x="1787.0" y="2064.5" font-size="28" fill="#2AAAD2" stroke="#2AAAD2" stroke-width="0.45" textLength="214.0" lengthAdjust="spacingAndGlyphs" xml:space="preserve">E-Cad Low  n=53</text>
<text x="1629.2" y="2194.6" font-size="13.5" stroke="#000" stroke-width="0">p = 0.84</text>
<path d="M1622.4,2128.5 H1656 M1654.8,2128.5 V2231 M1662,2128.5 V2231" stroke="#111" stroke-width="1.1" stroke-dasharray="4 3" fill="none"/>
<polyline points="1622.4,2025.3 1630.1,2025.3 1630.1,2025.3 1634.4,2025.3 1634.4,2034.7 1638.6,2034.7 1638.6,2047.5 1643.8,2047.5 1643.8,2062.4 1647.2,2062.4 1647.2,2088.0 1651.4,2088.0 1651.4,2102.9 1653.6,2102.9 1653.6,2117.8 1656.6,2117.8 1656.6,2128.5 1664.2,2128.5 1664.2,2147.7 1677.0,2147.7 1677.0,2152.0 1681.3,2152.0 1681.3,2158.4 1687.7,2158.4 1687.7,2177.6 1700.5,2177.6 1700.5,2181.8 1706.9,2181.8 1706.9,2186.1 1715.4,2186.1 1715.4,2193.8 1741.0,2193.8 1741.0,2193.8 1760.2,2193.8 1760.2,2198.9 1766.6,2198.9 1766.6,2203.2 1781.6,2203.2 1781.6,2207.4 1862.6,2207.4 1862.6,2207.4 1864.7,2207.4 1864.7,2211.7 1920.2,2211.7 1920.2,2211.7 1922.3,2211.7 1922.3,2216.0 1941.5,2216.0 1941.5,2216.8" fill="none" stroke="#E8766C" stroke-width="2.2" />
<polyline points="1622.4,2025.3 1628.0,2025.3 1628.0,2027.4 1632.2,2027.4 1632.2,2036.8 1636.5,2036.8 1636.5,2045.3 1640.8,2045.3 1640.8,2058.1 1643.8,2058.1 1643.8,2066.7 1649.3,2066.7 1649.3,2081.6 1653.6,2081.6 1653.6,2088.0 1655.7,2088.0 1655.7,2113.6 1660.0,2113.6 1660.0,2124.2 1664.2,2124.2 1664.2,2130.6 1668.5,2130.6 1668.5,2147.7 1677.0,2147.7 1677.0,2160.5 1683.4,2160.5 1683.4,2181.8 1698.4,2181.8 1698.4,2181.8 1700.5,2181.8 1700.5,2194.6 1715.4,2194.6 1715.4,2198.9 1728.2,2198.9 1728.2,2203.2 1743.2,2203.2 1743.2,2207.4 1745.3,2207.4 1745.3,2213.8 1809.3,2213.8 1809.3,2213.8 1809.3,2213.8 1809.3,2217.3 1937.3,2217.3 1937.3,2217.3" fill="none" stroke="#16B6C2" stroke-width="2.2" />
</svg></body></html>
